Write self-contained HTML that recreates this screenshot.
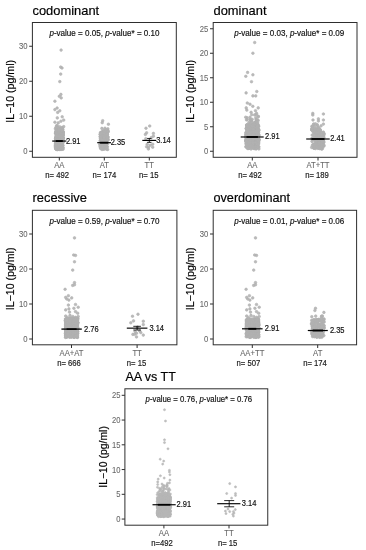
<!DOCTYPE html>
<html><head><meta charset="utf-8"><title>IL-10 by genotype model</title>
<style>
html,body{margin:0;padding:0;background:#fff;}
body{width:366px;height:550px;overflow:hidden;}
svg{display:block;font-family:'Liberation Sans', Arial, Helvetica, sans-serif;}
</style></head><body>
<svg width="366" height="550" viewBox="0 0 366 550">
<rect width="366" height="550" fill="#fff"/>
<g>
<g>
<text x="32.5" y="14.5" font-size="12.9" fill="#000" stroke="#000" stroke-width="0.18">codominant</text>
<g fill="#b1b1b1" fill-opacity="0.88" stroke="#b1b1b1" stroke-opacity="0.88" stroke-width="0.7">
<circle cx="58.9" cy="139.6" r="1.3"/>
<circle cx="62.6" cy="141.3" r="1.3"/>
<circle cx="59.4" cy="139.1" r="1.3"/>
<circle cx="56.8" cy="140.4" r="1.3"/>
<circle cx="60.3" cy="135.4" r="1.3"/>
<circle cx="56.1" cy="144.2" r="1.3"/>
<circle cx="56.1" cy="135.1" r="1.3"/>
<circle cx="60.8" cy="148.9" r="1.3"/>
<circle cx="63.1" cy="132.3" r="1.3"/>
<circle cx="60.5" cy="138.6" r="1.3"/>
<circle cx="56.6" cy="149.4" r="1.3"/>
<circle cx="59.5" cy="148.6" r="1.3"/>
<circle cx="56.9" cy="145.3" r="1.3"/>
<circle cx="55.6" cy="141.3" r="1.3"/>
<circle cx="58.8" cy="134.5" r="1.3"/>
<circle cx="59.4" cy="138.1" r="1.3"/>
<circle cx="59.3" cy="137.7" r="1.3"/>
<circle cx="59.0" cy="144.7" r="1.3"/>
<circle cx="63.2" cy="131.7" r="1.3"/>
<circle cx="62.0" cy="136.9" r="1.3"/>
<circle cx="57.9" cy="145.5" r="1.3"/>
<circle cx="57.7" cy="148.4" r="1.3"/>
<circle cx="61.4" cy="142.5" r="1.3"/>
<circle cx="62.0" cy="142.7" r="1.3"/>
<circle cx="62.9" cy="134.4" r="1.3"/>
<circle cx="55.4" cy="145.9" r="1.3"/>
<circle cx="62.5" cy="141.2" r="1.3"/>
<circle cx="63.0" cy="142.5" r="1.3"/>
<circle cx="56.0" cy="138.3" r="1.3"/>
<circle cx="61.5" cy="144.8" r="1.3"/>
<circle cx="56.1" cy="143.7" r="1.3"/>
<circle cx="62.9" cy="136.0" r="1.3"/>
<circle cx="56.3" cy="145.2" r="1.3"/>
<circle cx="56.2" cy="148.6" r="1.3"/>
<circle cx="61.6" cy="146.5" r="1.3"/>
<circle cx="59.8" cy="141.6" r="1.3"/>
<circle cx="56.9" cy="136.5" r="1.3"/>
<circle cx="56.4" cy="138.1" r="1.3"/>
<circle cx="56.3" cy="142.1" r="1.3"/>
<circle cx="57.1" cy="144.8" r="1.3"/>
<circle cx="63.0" cy="135.2" r="1.3"/>
<circle cx="57.8" cy="133.7" r="1.3"/>
<circle cx="57.0" cy="142.6" r="1.3"/>
<circle cx="62.1" cy="138.1" r="1.3"/>
<circle cx="56.2" cy="131.8" r="1.3"/>
<circle cx="57.1" cy="145.0" r="1.3"/>
<circle cx="61.4" cy="143.7" r="1.3"/>
<circle cx="57.7" cy="148.4" r="1.3"/>
<circle cx="56.1" cy="139.2" r="1.3"/>
<circle cx="57.3" cy="138.8" r="1.3"/>
<circle cx="58.3" cy="141.5" r="1.3"/>
<circle cx="62.9" cy="141.0" r="1.3"/>
<circle cx="59.9" cy="134.1" r="1.3"/>
<circle cx="56.8" cy="146.9" r="1.3"/>
<circle cx="62.5" cy="134.9" r="1.3"/>
<circle cx="57.3" cy="146.3" r="1.3"/>
<circle cx="61.2" cy="132.7" r="1.3"/>
<circle cx="56.9" cy="132.5" r="1.3"/>
<circle cx="62.3" cy="138.8" r="1.3"/>
<circle cx="58.7" cy="147.8" r="1.3"/>
<circle cx="55.7" cy="132.3" r="1.3"/>
<circle cx="57.3" cy="137.0" r="1.3"/>
<circle cx="57.4" cy="134.8" r="1.3"/>
<circle cx="60.1" cy="144.4" r="1.3"/>
<circle cx="56.8" cy="136.7" r="1.3"/>
<circle cx="55.9" cy="145.6" r="1.3"/>
<circle cx="59.8" cy="134.3" r="1.3"/>
<circle cx="60.2" cy="144.6" r="1.3"/>
<circle cx="62.6" cy="146.0" r="1.3"/>
<circle cx="55.5" cy="144.8" r="1.3"/>
<circle cx="58.9" cy="148.6" r="1.3"/>
<circle cx="56.8" cy="143.0" r="1.3"/>
<circle cx="59.9" cy="147.3" r="1.3"/>
<circle cx="58.2" cy="133.6" r="1.3"/>
<circle cx="63.0" cy="137.8" r="1.3"/>
<circle cx="60.8" cy="139.1" r="1.3"/>
<circle cx="56.5" cy="149.0" r="1.3"/>
<circle cx="55.5" cy="133.3" r="1.3"/>
<circle cx="60.9" cy="132.3" r="1.3"/>
<circle cx="55.6" cy="138.2" r="1.3"/>
<circle cx="59.2" cy="136.5" r="1.3"/>
<circle cx="57.9" cy="131.7" r="1.3"/>
<circle cx="56.0" cy="139.8" r="1.3"/>
<circle cx="61.1" cy="133.4" r="1.3"/>
<circle cx="61.1" cy="137.0" r="1.3"/>
<circle cx="61.6" cy="133.2" r="1.3"/>
<circle cx="58.1" cy="137.3" r="1.3"/>
<circle cx="62.4" cy="134.0" r="1.3"/>
<circle cx="58.7" cy="135.4" r="1.3"/>
<circle cx="62.1" cy="139.4" r="1.3"/>
<circle cx="60.3" cy="142.8" r="1.3"/>
<circle cx="59.9" cy="138.7" r="1.3"/>
<circle cx="56.0" cy="138.1" r="1.3"/>
<circle cx="63.1" cy="133.8" r="1.3"/>
<circle cx="61.1" cy="142.7" r="1.3"/>
<circle cx="61.1" cy="139.2" r="1.3"/>
<circle cx="58.8" cy="134.6" r="1.3"/>
<circle cx="56.1" cy="136.2" r="1.3"/>
<circle cx="55.6" cy="138.8" r="1.3"/>
<circle cx="59.2" cy="145.5" r="1.3"/>
<circle cx="60.8" cy="140.7" r="1.3"/>
<circle cx="60.2" cy="133.1" r="1.3"/>
<circle cx="57.4" cy="149.5" r="1.3"/>
<circle cx="57.7" cy="137.5" r="1.3"/>
<circle cx="57.0" cy="146.6" r="1.3"/>
<circle cx="62.5" cy="137.8" r="1.3"/>
<circle cx="58.8" cy="133.6" r="1.3"/>
<circle cx="58.0" cy="137.7" r="1.3"/>
<circle cx="56.9" cy="141.9" r="1.3"/>
<circle cx="61.7" cy="133.2" r="1.3"/>
<circle cx="62.3" cy="142.7" r="1.3"/>
<circle cx="59.9" cy="144.0" r="1.3"/>
<circle cx="56.5" cy="140.7" r="1.3"/>
<circle cx="61.9" cy="134.4" r="1.3"/>
<circle cx="60.9" cy="132.6" r="1.3"/>
<circle cx="57.6" cy="146.6" r="1.3"/>
<circle cx="58.9" cy="144.7" r="1.3"/>
<circle cx="57.1" cy="142.2" r="1.3"/>
<circle cx="60.3" cy="140.8" r="1.3"/>
<circle cx="57.9" cy="134.5" r="1.3"/>
<circle cx="63.1" cy="141.5" r="1.3"/>
<circle cx="56.0" cy="149.1" r="1.3"/>
<circle cx="62.2" cy="148.9" r="1.3"/>
<circle cx="60.9" cy="139.4" r="1.3"/>
<circle cx="57.8" cy="135.4" r="1.3"/>
<circle cx="55.5" cy="147.2" r="1.3"/>
<circle cx="58.9" cy="149.2" r="1.3"/>
<circle cx="61.9" cy="145.4" r="1.3"/>
<circle cx="56.5" cy="148.8" r="1.3"/>
<circle cx="60.3" cy="141.6" r="1.3"/>
<circle cx="60.3" cy="137.9" r="1.3"/>
<circle cx="61.7" cy="132.4" r="1.3"/>
<circle cx="60.7" cy="146.1" r="1.3"/>
<circle cx="59.1" cy="146.5" r="1.3"/>
<circle cx="55.5" cy="141.2" r="1.3"/>
<circle cx="61.0" cy="146.4" r="1.3"/>
<circle cx="57.5" cy="143.4" r="1.3"/>
<circle cx="60.8" cy="140.3" r="1.3"/>
<circle cx="60.2" cy="136.0" r="1.3"/>
<circle cx="58.5" cy="135.4" r="1.3"/>
<circle cx="62.5" cy="148.1" r="1.3"/>
<circle cx="62.7" cy="136.7" r="1.3"/>
<circle cx="56.4" cy="141.5" r="1.3"/>
<circle cx="60.3" cy="133.3" r="1.3"/>
<circle cx="58.3" cy="139.4" r="1.3"/>
<circle cx="62.3" cy="135.3" r="1.3"/>
<circle cx="62.8" cy="141.3" r="1.3"/>
<circle cx="60.5" cy="146.0" r="1.3"/>
<circle cx="61.0" cy="134.9" r="1.3"/>
<circle cx="60.4" cy="136.7" r="1.3"/>
<circle cx="57.1" cy="133.5" r="1.3"/>
<circle cx="63.0" cy="132.1" r="1.3"/>
<circle cx="59.6" cy="135.4" r="1.3"/>
<circle cx="57.9" cy="133.3" r="1.3"/>
<circle cx="62.1" cy="143.4" r="1.3"/>
<circle cx="56.0" cy="141.7" r="1.3"/>
<circle cx="59.7" cy="135.8" r="1.3"/>
<circle cx="59.2" cy="149.2" r="1.3"/>
<circle cx="61.7" cy="148.5" r="1.3"/>
<circle cx="61.6" cy="146.6" r="1.3"/>
<circle cx="58.0" cy="135.5" r="1.3"/>
<circle cx="56.5" cy="147.0" r="1.3"/>
<circle cx="59.4" cy="136.6" r="1.3"/>
<circle cx="62.0" cy="137.2" r="1.3"/>
<circle cx="62.8" cy="140.8" r="1.3"/>
<circle cx="62.8" cy="148.1" r="1.3"/>
<circle cx="57.1" cy="140.2" r="1.3"/>
<circle cx="57.7" cy="136.5" r="1.3"/>
<circle cx="60.4" cy="140.3" r="1.3"/>
<circle cx="62.0" cy="139.6" r="1.3"/>
<circle cx="57.8" cy="142.8" r="1.3"/>
<circle cx="62.0" cy="133.4" r="1.3"/>
<circle cx="57.0" cy="134.3" r="1.3"/>
<circle cx="63.0" cy="140.2" r="1.3"/>
<circle cx="59.9" cy="146.1" r="1.3"/>
<circle cx="59.6" cy="140.6" r="1.3"/>
<circle cx="60.1" cy="149.2" r="1.3"/>
<circle cx="63.0" cy="140.4" r="1.3"/>
<circle cx="58.5" cy="135.2" r="1.3"/>
<circle cx="59.8" cy="140.8" r="1.3"/>
<circle cx="60.8" cy="148.5" r="1.3"/>
<circle cx="59.6" cy="142.2" r="1.3"/>
<circle cx="62.9" cy="133.0" r="1.3"/>
<circle cx="57.5" cy="141.1" r="1.3"/>
<circle cx="56.4" cy="141.9" r="1.3"/>
<circle cx="61.8" cy="133.4" r="1.3"/>
<circle cx="59.1" cy="144.0" r="1.3"/>
<circle cx="56.9" cy="138.5" r="1.3"/>
<circle cx="62.6" cy="147.3" r="1.3"/>
<circle cx="61.5" cy="149.3" r="1.3"/>
<circle cx="56.9" cy="145.6" r="1.3"/>
<circle cx="60.8" cy="143.9" r="1.3"/>
<circle cx="58.2" cy="138.5" r="1.3"/>
<circle cx="56.2" cy="136.5" r="1.3"/>
<circle cx="56.4" cy="140.5" r="1.3"/>
<circle cx="57.4" cy="146.1" r="1.3"/>
<circle cx="59.5" cy="141.8" r="1.3"/>
<circle cx="58.3" cy="142.2" r="1.3"/>
<circle cx="59.5" cy="146.8" r="1.3"/>
<circle cx="57.0" cy="138.3" r="1.3"/>
<circle cx="60.4" cy="140.1" r="1.3"/>
<circle cx="62.0" cy="138.6" r="1.3"/>
<circle cx="62.1" cy="145.5" r="1.3"/>
<circle cx="61.2" cy="135.1" r="1.3"/>
<circle cx="62.4" cy="144.0" r="1.3"/>
<circle cx="57.9" cy="133.0" r="1.3"/>
<circle cx="57.1" cy="131.7" r="1.3"/>
<circle cx="62.3" cy="147.3" r="1.3"/>
<circle cx="57.3" cy="136.6" r="1.3"/>
<circle cx="57.4" cy="147.9" r="1.3"/>
<circle cx="61.9" cy="142.1" r="1.3"/>
<circle cx="61.6" cy="147.4" r="1.3"/>
<circle cx="58.5" cy="137.3" r="1.3"/>
<circle cx="55.5" cy="146.1" r="1.3"/>
<circle cx="60.7" cy="133.2" r="1.3"/>
<circle cx="63.0" cy="147.6" r="1.3"/>
<circle cx="59.3" cy="136.0" r="1.3"/>
<circle cx="59.3" cy="137.3" r="1.3"/>
<circle cx="56.9" cy="148.4" r="1.3"/>
<circle cx="56.2" cy="149.0" r="1.3"/>
<circle cx="59.7" cy="140.4" r="1.3"/>
<circle cx="59.8" cy="147.0" r="1.3"/>
<circle cx="56.8" cy="146.0" r="1.3"/>
<circle cx="62.0" cy="131.8" r="1.3"/>
<circle cx="62.6" cy="148.0" r="1.3"/>
<circle cx="55.9" cy="132.5" r="1.3"/>
<circle cx="59.0" cy="135.9" r="1.3"/>
<circle cx="57.9" cy="141.3" r="1.3"/>
<circle cx="59.4" cy="141.9" r="1.3"/>
<circle cx="60.1" cy="149.4" r="1.3"/>
<circle cx="60.9" cy="134.5" r="1.3"/>
<circle cx="56.8" cy="141.5" r="1.3"/>
<circle cx="61.2" cy="142.4" r="1.3"/>
<circle cx="56.9" cy="146.7" r="1.3"/>
<circle cx="59.4" cy="149.4" r="1.3"/>
<circle cx="62.4" cy="135.2" r="1.3"/>
<circle cx="60.9" cy="134.2" r="1.3"/>
<circle cx="60.3" cy="142.4" r="1.3"/>
<circle cx="60.1" cy="140.6" r="1.3"/>
<circle cx="63.1" cy="135.2" r="1.3"/>
<circle cx="57.4" cy="133.2" r="1.3"/>
<circle cx="61.2" cy="135.7" r="1.3"/>
<circle cx="61.8" cy="142.4" r="1.3"/>
<circle cx="62.4" cy="133.8" r="1.3"/>
<circle cx="60.8" cy="135.8" r="1.3"/>
<circle cx="61.4" cy="142.4" r="1.3"/>
<circle cx="61.0" cy="148.4" r="1.3"/>
<circle cx="58.1" cy="141.2" r="1.3"/>
<circle cx="55.5" cy="143.3" r="1.3"/>
<circle cx="60.4" cy="138.4" r="1.3"/>
<circle cx="57.2" cy="132.6" r="1.3"/>
<circle cx="60.6" cy="143.6" r="1.3"/>
<circle cx="60.5" cy="139.4" r="1.3"/>
<circle cx="59.6" cy="142.7" r="1.3"/>
<circle cx="63.2" cy="138.1" r="1.3"/>
<circle cx="60.9" cy="135.9" r="1.3"/>
<circle cx="63.0" cy="149.3" r="1.3"/>
<circle cx="60.2" cy="136.4" r="1.3"/>
<circle cx="57.4" cy="142.4" r="1.3"/>
<circle cx="55.8" cy="146.2" r="1.3"/>
<circle cx="58.3" cy="147.9" r="1.3"/>
<circle cx="57.4" cy="133.4" r="1.3"/>
<circle cx="59.7" cy="140.5" r="1.3"/>
<circle cx="62.9" cy="139.4" r="1.3"/>
<circle cx="63.2" cy="138.2" r="1.3"/>
<circle cx="61.7" cy="148.3" r="1.3"/>
<circle cx="60.1" cy="136.0" r="1.3"/>
<circle cx="55.8" cy="132.9" r="1.3"/>
<circle cx="56.6" cy="141.2" r="1.3"/>
<circle cx="56.7" cy="140.7" r="1.3"/>
<circle cx="60.2" cy="148.6" r="1.3"/>
<circle cx="62.8" cy="142.1" r="1.3"/>
<circle cx="59.5" cy="138.9" r="1.3"/>
<circle cx="58.3" cy="144.5" r="1.3"/>
<circle cx="60.5" cy="139.6" r="1.3"/>
<circle cx="57.6" cy="136.8" r="1.3"/>
<circle cx="57.7" cy="149.4" r="1.3"/>
<circle cx="57.3" cy="148.9" r="1.3"/>
<circle cx="56.6" cy="136.1" r="1.3"/>
<circle cx="58.4" cy="133.5" r="1.3"/>
<circle cx="61.2" cy="148.8" r="1.3"/>
<circle cx="63.1" cy="132.7" r="1.3"/>
<circle cx="56.0" cy="133.4" r="1.3"/>
<circle cx="58.8" cy="141.1" r="1.3"/>
<circle cx="63.0" cy="145.3" r="1.3"/>
<circle cx="59.5" cy="132.8" r="1.3"/>
<circle cx="61.0" cy="141.2" r="1.3"/>
<circle cx="63.0" cy="135.0" r="1.3"/>
<circle cx="60.1" cy="147.6" r="1.3"/>
<circle cx="60.3" cy="141.5" r="1.3"/>
<circle cx="57.0" cy="148.7" r="1.3"/>
<circle cx="59.5" cy="147.4" r="1.3"/>
<circle cx="58.9" cy="137.6" r="1.3"/>
<circle cx="59.0" cy="145.0" r="1.3"/>
<circle cx="59.9" cy="142.1" r="1.3"/>
<circle cx="61.5" cy="140.1" r="1.3"/>
<circle cx="63.2" cy="132.5" r="1.3"/>
<circle cx="61.1" cy="145.4" r="1.3"/>
<circle cx="56.3" cy="133.6" r="1.3"/>
<circle cx="61.5" cy="138.4" r="1.3"/>
<circle cx="58.2" cy="144.8" r="1.3"/>
<circle cx="60.7" cy="139.5" r="1.3"/>
<circle cx="60.0" cy="138.3" r="1.3"/>
<circle cx="61.3" cy="146.3" r="1.3"/>
<circle cx="57.3" cy="132.0" r="1.3"/>
<circle cx="62.5" cy="133.8" r="1.3"/>
<circle cx="55.7" cy="148.6" r="1.3"/>
<circle cx="57.5" cy="142.0" r="1.3"/>
<circle cx="60.3" cy="147.8" r="1.3"/>
<circle cx="59.6" cy="148.4" r="1.3"/>
<circle cx="56.1" cy="137.5" r="1.3"/>
<circle cx="59.7" cy="138.3" r="1.3"/>
<circle cx="58.3" cy="141.0" r="1.3"/>
<circle cx="57.0" cy="143.5" r="1.3"/>
<circle cx="61.2" cy="134.6" r="1.3"/>
<circle cx="56.0" cy="147.5" r="1.3"/>
<circle cx="61.7" cy="138.4" r="1.3"/>
<circle cx="61.4" cy="145.8" r="1.3"/>
<circle cx="58.7" cy="145.0" r="1.3"/>
<circle cx="61.7" cy="143.0" r="1.3"/>
<circle cx="60.5" cy="131.8" r="1.3"/>
<circle cx="57.9" cy="139.8" r="1.3"/>
<circle cx="61.2" cy="133.1" r="1.3"/>
<circle cx="58.7" cy="143.0" r="1.3"/>
<circle cx="56.2" cy="133.9" r="1.3"/>
<circle cx="56.0" cy="148.2" r="1.3"/>
<circle cx="59.8" cy="140.9" r="1.3"/>
<circle cx="60.7" cy="144.3" r="1.3"/>
<circle cx="61.4" cy="148.3" r="1.3"/>
<circle cx="57.1" cy="137.7" r="1.3"/>
<circle cx="56.0" cy="144.2" r="1.3"/>
<circle cx="61.1" cy="137.2" r="1.3"/>
<circle cx="57.6" cy="147.1" r="1.3"/>
<circle cx="58.2" cy="136.6" r="1.3"/>
<circle cx="58.3" cy="147.6" r="1.3"/>
<circle cx="60.9" cy="139.4" r="1.3"/>
<circle cx="62.6" cy="132.7" r="1.3"/>
<circle cx="62.5" cy="141.8" r="1.3"/>
<circle cx="61.7" cy="144.2" r="1.3"/>
<circle cx="57.9" cy="142.5" r="1.3"/>
<circle cx="62.7" cy="133.5" r="1.3"/>
<circle cx="57.3" cy="143.2" r="1.3"/>
<circle cx="58.3" cy="143.1" r="1.3"/>
<circle cx="58.5" cy="142.7" r="1.3"/>
<circle cx="56.9" cy="139.5" r="1.3"/>
<circle cx="61.6" cy="139.9" r="1.3"/>
<circle cx="61.9" cy="139.5" r="1.3"/>
<circle cx="56.8" cy="136.0" r="1.3"/>
<circle cx="62.3" cy="144.6" r="1.3"/>
<circle cx="55.6" cy="140.4" r="1.3"/>
<circle cx="59.6" cy="139.4" r="1.3"/>
<circle cx="62.9" cy="137.9" r="1.3"/>
<circle cx="61.7" cy="148.5" r="1.3"/>
<circle cx="59.7" cy="135.5" r="1.3"/>
<circle cx="56.1" cy="148.2" r="1.3"/>
<circle cx="61.1" cy="133.5" r="1.3"/>
<circle cx="56.1" cy="138.2" r="1.3"/>
<circle cx="56.5" cy="136.2" r="1.3"/>
<circle cx="60.5" cy="145.3" r="1.3"/>
<circle cx="57.1" cy="135.9" r="1.3"/>
<circle cx="59.5" cy="135.9" r="1.3"/>
<circle cx="58.5" cy="143.6" r="1.3"/>
<circle cx="63.0" cy="137.6" r="1.3"/>
<circle cx="59.3" cy="140.0" r="1.3"/>
<circle cx="61.0" cy="136.9" r="1.3"/>
<circle cx="62.5" cy="142.3" r="1.3"/>
<circle cx="61.8" cy="137.7" r="1.3"/>
<circle cx="62.1" cy="135.1" r="1.3"/>
<circle cx="61.9" cy="133.7" r="1.3"/>
<circle cx="62.9" cy="138.1" r="1.3"/>
<circle cx="59.5" cy="136.9" r="1.3"/>
<circle cx="61.7" cy="142.1" r="1.3"/>
<circle cx="58.7" cy="147.0" r="1.3"/>
<circle cx="61.2" cy="131.8" r="1.3"/>
<circle cx="58.3" cy="146.7" r="1.3"/>
<circle cx="57.0" cy="142.0" r="1.3"/>
<circle cx="57.7" cy="132.2" r="1.3"/>
<circle cx="55.9" cy="144.1" r="1.3"/>
<circle cx="56.3" cy="138.0" r="1.3"/>
<circle cx="61.5" cy="146.4" r="1.3"/>
<circle cx="55.9" cy="141.4" r="1.3"/>
<circle cx="60.0" cy="133.3" r="1.3"/>
<circle cx="55.7" cy="147.7" r="1.3"/>
<circle cx="56.8" cy="145.8" r="1.3"/>
<circle cx="57.2" cy="136.7" r="1.3"/>
<circle cx="60.0" cy="145.6" r="1.3"/>
<circle cx="56.8" cy="144.6" r="1.3"/>
<circle cx="56.7" cy="136.0" r="1.3"/>
<circle cx="57.8" cy="139.8" r="1.3"/>
<circle cx="61.8" cy="141.0" r="1.3"/>
<circle cx="57.4" cy="133.7" r="1.3"/>
<circle cx="62.5" cy="143.5" r="1.3"/>
<circle cx="59.7" cy="132.4" r="1.3"/>
<circle cx="59.2" cy="145.7" r="1.3"/>
<circle cx="55.8" cy="132.6" r="1.3"/>
<circle cx="61.7" cy="142.7" r="1.3"/>
<circle cx="59.5" cy="140.4" r="1.3"/>
<circle cx="57.5" cy="131.8" r="1.3"/>
<circle cx="60.5" cy="145.4" r="1.3"/>
<circle cx="55.5" cy="141.2" r="1.3"/>
<circle cx="58.3" cy="128.9" r="1.3"/>
<circle cx="61.0" cy="129.5" r="1.3"/>
<circle cx="56.6" cy="131.1" r="1.3"/>
<circle cx="57.9" cy="130.7" r="1.3"/>
<circle cx="62.2" cy="129.8" r="1.3"/>
<circle cx="60.4" cy="128.2" r="1.3"/>
<circle cx="57.5" cy="129.8" r="1.3"/>
<circle cx="56.6" cy="129.0" r="1.3"/>
<circle cx="55.4" cy="128.8" r="1.3"/>
<circle cx="62.0" cy="128.8" r="1.3"/>
<circle cx="56.0" cy="130.7" r="1.3"/>
<circle cx="61.0" cy="131.3" r="1.3"/>
<circle cx="59.1" cy="130.0" r="1.3"/>
<circle cx="62.9" cy="129.6" r="1.3"/>
<circle cx="62.1" cy="130.6" r="1.3"/>
<circle cx="61.6" cy="130.2" r="1.3"/>
<circle cx="62.6" cy="127.9" r="1.3"/>
<circle cx="61.8" cy="127.6" r="1.3"/>
<circle cx="59.6" cy="126.7" r="1.3"/>
<circle cx="56.6" cy="125.8" r="1.3"/>
<circle cx="57.8" cy="127.3" r="1.3"/>
<circle cx="56.0" cy="127.3" r="1.3"/>
<circle cx="61.1" cy="50.1" r="1.3"/>
<circle cx="60.7" cy="67.1" r="1.3"/>
<circle cx="62.0" cy="68.0" r="1.3"/>
<circle cx="60.7" cy="74.1" r="1.3"/>
<circle cx="59.8" cy="81.6" r="1.3"/>
<circle cx="60.9" cy="94.4" r="1.3"/>
<circle cx="59.3" cy="96.3" r="1.3"/>
<circle cx="61.2" cy="97.9" r="1.3"/>
<circle cx="54.9" cy="101.2" r="1.3"/>
<circle cx="57.1" cy="108.0" r="1.3"/>
<circle cx="54.9" cy="109.6" r="1.3"/>
<circle cx="59.8" cy="110.8" r="1.3"/>
<circle cx="57.7" cy="112.4" r="1.3"/>
<circle cx="57.3" cy="117.9" r="1.3"/>
<circle cx="62.2" cy="116.8" r="1.3"/>
<circle cx="63.7" cy="120.1" r="1.3"/>
<circle cx="60.9" cy="121.2" r="1.3"/>
<circle cx="54.9" cy="122.2" r="1.3"/>
<circle cx="58.2" cy="122.9" r="1.3"/>
<circle cx="57.1" cy="125.5" r="1.3"/>
<circle cx="63.7" cy="126.6" r="1.3"/>
<circle cx="103.9" cy="137.4" r="1.3"/>
<circle cx="105.5" cy="147.0" r="1.3"/>
<circle cx="100.1" cy="142.7" r="1.3"/>
<circle cx="102.2" cy="134.5" r="1.3"/>
<circle cx="105.7" cy="138.4" r="1.3"/>
<circle cx="104.6" cy="137.3" r="1.3"/>
<circle cx="101.2" cy="141.4" r="1.3"/>
<circle cx="101.3" cy="132.7" r="1.3"/>
<circle cx="100.5" cy="134.3" r="1.3"/>
<circle cx="100.6" cy="136.8" r="1.3"/>
<circle cx="102.8" cy="142.1" r="1.3"/>
<circle cx="106.9" cy="149.3" r="1.3"/>
<circle cx="100.5" cy="132.5" r="1.3"/>
<circle cx="104.2" cy="148.0" r="1.3"/>
<circle cx="108.1" cy="131.9" r="1.3"/>
<circle cx="100.9" cy="141.8" r="1.3"/>
<circle cx="101.1" cy="143.8" r="1.3"/>
<circle cx="105.1" cy="146.6" r="1.3"/>
<circle cx="105.7" cy="148.7" r="1.3"/>
<circle cx="101.4" cy="134.4" r="1.3"/>
<circle cx="103.3" cy="141.8" r="1.3"/>
<circle cx="104.9" cy="140.7" r="1.3"/>
<circle cx="103.2" cy="149.1" r="1.3"/>
<circle cx="106.0" cy="131.6" r="1.3"/>
<circle cx="108.0" cy="137.2" r="1.3"/>
<circle cx="102.9" cy="142.9" r="1.3"/>
<circle cx="105.7" cy="137.1" r="1.3"/>
<circle cx="100.9" cy="145.3" r="1.3"/>
<circle cx="103.0" cy="140.1" r="1.3"/>
<circle cx="106.6" cy="140.3" r="1.3"/>
<circle cx="100.2" cy="134.3" r="1.3"/>
<circle cx="103.5" cy="140.0" r="1.3"/>
<circle cx="101.8" cy="141.7" r="1.3"/>
<circle cx="103.2" cy="135.2" r="1.3"/>
<circle cx="100.8" cy="139.4" r="1.3"/>
<circle cx="101.5" cy="136.6" r="1.3"/>
<circle cx="100.3" cy="144.5" r="1.3"/>
<circle cx="102.8" cy="137.7" r="1.3"/>
<circle cx="100.4" cy="141.1" r="1.3"/>
<circle cx="101.7" cy="144.4" r="1.3"/>
<circle cx="103.9" cy="131.7" r="1.3"/>
<circle cx="103.9" cy="131.8" r="1.3"/>
<circle cx="101.4" cy="132.4" r="1.3"/>
<circle cx="103.0" cy="146.1" r="1.3"/>
<circle cx="106.1" cy="132.6" r="1.3"/>
<circle cx="100.1" cy="144.7" r="1.3"/>
<circle cx="106.3" cy="143.3" r="1.3"/>
<circle cx="102.0" cy="149.5" r="1.3"/>
<circle cx="100.3" cy="138.1" r="1.3"/>
<circle cx="108.1" cy="131.0" r="1.3"/>
<circle cx="104.1" cy="149.2" r="1.3"/>
<circle cx="102.6" cy="134.9" r="1.3"/>
<circle cx="106.8" cy="137.7" r="1.3"/>
<circle cx="101.9" cy="139.8" r="1.3"/>
<circle cx="103.9" cy="137.9" r="1.3"/>
<circle cx="102.2" cy="131.9" r="1.3"/>
<circle cx="107.3" cy="146.6" r="1.3"/>
<circle cx="102.4" cy="133.3" r="1.3"/>
<circle cx="102.3" cy="132.0" r="1.3"/>
<circle cx="104.2" cy="136.6" r="1.3"/>
<circle cx="105.8" cy="145.7" r="1.3"/>
<circle cx="102.3" cy="144.9" r="1.3"/>
<circle cx="105.6" cy="136.7" r="1.3"/>
<circle cx="101.1" cy="133.1" r="1.3"/>
<circle cx="103.4" cy="145.2" r="1.3"/>
<circle cx="103.6" cy="131.3" r="1.3"/>
<circle cx="104.6" cy="138.0" r="1.3"/>
<circle cx="107.5" cy="131.7" r="1.3"/>
<circle cx="106.2" cy="141.9" r="1.3"/>
<circle cx="104.8" cy="132.8" r="1.3"/>
<circle cx="106.5" cy="138.8" r="1.3"/>
<circle cx="102.8" cy="142.8" r="1.3"/>
<circle cx="106.0" cy="139.1" r="1.3"/>
<circle cx="100.1" cy="136.4" r="1.3"/>
<circle cx="107.4" cy="134.7" r="1.3"/>
<circle cx="107.4" cy="132.6" r="1.3"/>
<circle cx="104.4" cy="134.9" r="1.3"/>
<circle cx="103.1" cy="147.8" r="1.3"/>
<circle cx="102.9" cy="143.8" r="1.3"/>
<circle cx="107.7" cy="136.8" r="1.3"/>
<circle cx="104.4" cy="138.0" r="1.3"/>
<circle cx="101.0" cy="139.7" r="1.3"/>
<circle cx="105.7" cy="142.3" r="1.3"/>
<circle cx="102.0" cy="142.1" r="1.3"/>
<circle cx="102.7" cy="136.8" r="1.3"/>
<circle cx="101.2" cy="148.0" r="1.3"/>
<circle cx="102.6" cy="136.6" r="1.3"/>
<circle cx="106.2" cy="137.3" r="1.3"/>
<circle cx="107.7" cy="142.8" r="1.3"/>
<circle cx="100.2" cy="140.5" r="1.3"/>
<circle cx="103.6" cy="146.3" r="1.3"/>
<circle cx="105.5" cy="143.3" r="1.3"/>
<circle cx="102.0" cy="143.5" r="1.3"/>
<circle cx="107.7" cy="149.5" r="1.3"/>
<circle cx="103.0" cy="144.4" r="1.3"/>
<circle cx="101.7" cy="141.6" r="1.3"/>
<circle cx="101.8" cy="132.5" r="1.3"/>
<circle cx="104.1" cy="136.6" r="1.3"/>
<circle cx="101.3" cy="141.0" r="1.3"/>
<circle cx="105.0" cy="133.9" r="1.3"/>
<circle cx="102.0" cy="141.1" r="1.3"/>
<circle cx="107.0" cy="134.1" r="1.3"/>
<circle cx="101.9" cy="139.6" r="1.3"/>
<circle cx="106.2" cy="142.3" r="1.3"/>
<circle cx="105.5" cy="137.3" r="1.3"/>
<circle cx="108.0" cy="139.3" r="1.3"/>
<circle cx="105.6" cy="143.1" r="1.3"/>
<circle cx="106.0" cy="143.6" r="1.3"/>
<circle cx="104.1" cy="142.9" r="1.3"/>
<circle cx="102.5" cy="147.1" r="1.3"/>
<circle cx="101.9" cy="139.5" r="1.3"/>
<circle cx="102.1" cy="148.8" r="1.3"/>
<circle cx="106.6" cy="144.3" r="1.3"/>
<circle cx="107.7" cy="138.5" r="1.3"/>
<circle cx="103.2" cy="133.3" r="1.3"/>
<circle cx="107.4" cy="143.7" r="1.3"/>
<circle cx="101.0" cy="137.7" r="1.3"/>
<circle cx="106.9" cy="138.3" r="1.3"/>
<circle cx="106.4" cy="142.0" r="1.3"/>
<circle cx="105.1" cy="144.7" r="1.3"/>
<circle cx="103.3" cy="142.6" r="1.3"/>
<circle cx="103.2" cy="142.2" r="1.3"/>
<circle cx="106.6" cy="146.5" r="1.3"/>
<circle cx="101.7" cy="144.9" r="1.3"/>
<circle cx="108.0" cy="139.9" r="1.3"/>
<circle cx="100.4" cy="134.0" r="1.3"/>
<circle cx="107.2" cy="134.3" r="1.3"/>
<circle cx="102.9" cy="135.9" r="1.3"/>
<circle cx="102.5" cy="147.1" r="1.3"/>
<circle cx="107.1" cy="134.1" r="1.3"/>
<circle cx="101.7" cy="133.2" r="1.3"/>
<circle cx="100.2" cy="143.9" r="1.3"/>
<circle cx="100.1" cy="146.5" r="1.3"/>
<circle cx="101.3" cy="136.3" r="1.3"/>
<circle cx="102.4" cy="146.1" r="1.3"/>
<circle cx="101.5" cy="143.8" r="1.3"/>
<circle cx="107.1" cy="138.3" r="1.3"/>
<circle cx="100.8" cy="136.8" r="1.3"/>
<circle cx="104.4" cy="141.3" r="1.3"/>
<circle cx="104.3" cy="137.5" r="1.3"/>
<circle cx="106.6" cy="140.2" r="1.3"/>
<circle cx="105.2" cy="140.9" r="1.3"/>
<circle cx="105.2" cy="142.4" r="1.3"/>
<circle cx="103.4" cy="140.0" r="1.3"/>
<circle cx="105.9" cy="144.5" r="1.3"/>
<circle cx="107.6" cy="140.5" r="1.3"/>
<circle cx="107.0" cy="136.7" r="1.3"/>
<circle cx="107.8" cy="136.9" r="1.3"/>
<circle cx="103.5" cy="142.1" r="1.3"/>
<circle cx="105.0" cy="135.6" r="1.3"/>
<circle cx="106.9" cy="147.3" r="1.3"/>
<circle cx="100.5" cy="147.7" r="1.3"/>
<circle cx="100.7" cy="148.6" r="1.3"/>
<circle cx="100.1" cy="145.0" r="1.3"/>
<circle cx="100.9" cy="136.8" r="1.3"/>
<circle cx="105.0" cy="128.2" r="1.3"/>
<circle cx="107.9" cy="128.9" r="1.3"/>
<circle cx="107.8" cy="130.9" r="1.3"/>
<circle cx="101.9" cy="128.4" r="1.3"/>
<circle cx="103.9" cy="130.4" r="1.3"/>
<circle cx="106.2" cy="129.8" r="1.3"/>
<circle cx="102.7" cy="120.7" r="1.3"/>
<circle cx="102.2" cy="122.7" r="1.3"/>
<circle cx="108.4" cy="124.2" r="1.3"/>
<circle cx="149.7" cy="126.0" r="1.3"/>
<circle cx="146.0" cy="128.2" r="1.3"/>
<circle cx="146.6" cy="132.8" r="1.3"/>
<circle cx="145.4" cy="134.4" r="1.3"/>
<circle cx="153.4" cy="133.4" r="1.3"/>
<circle cx="153.4" cy="136.2" r="1.3"/>
<circle cx="147.2" cy="144.2" r="1.3"/>
<circle cx="152.7" cy="144.2" r="1.3"/>
<circle cx="146.6" cy="146.7" r="1.3"/>
<circle cx="148.4" cy="147.2" r="1.3"/>
<circle cx="152.7" cy="147.2" r="1.3"/>
<circle cx="148.4" cy="149.0" r="1.3"/>
<circle cx="150.3" cy="145.3" r="1.3"/>
<circle cx="145.8" cy="138.7" r="1.3"/>
<circle cx="151.3" cy="137.6" r="1.3"/>
</g>
<line x1="52.2" x2="66.4" y1="141.06" y2="141.06" stroke="#000" stroke-width="1.15"/>
<line x1="55.8" x2="62.8" y1="141.06" y2="141.06" stroke="#000" stroke-width="1.9"/>
<text transform="translate(65.90 143.51) scale(0.8929 1)" font-size="8.40" fill="#111" stroke="#111" stroke-width="0.18">2.91</text>
<line x1="97.2" x2="111.0" y1="142.68" y2="142.68" stroke="#000" stroke-width="1.15"/>
<line x1="100.1" x2="108.1" y1="142.68" y2="142.68" stroke="#000" stroke-width="1.8"/>
<text transform="translate(110.70 145.12) scale(0.8929 1)" font-size="8.40" fill="#111" stroke="#111" stroke-width="0.18">2.35</text>
<line x1="142.3" x2="156.3" y1="140.40" y2="140.40" stroke="#000" stroke-width="1.15"/>
<path d="M147.1 138.45H151.5M147.1 142.35H151.5M149.3 138.45V142.35" stroke="#000" stroke-width="0.85" fill="none"/>
<text transform="translate(156.20 142.85) scale(0.8929 1)" font-size="8.40" fill="#111" stroke="#111" stroke-width="0.18">3.14</text>
<rect x="32.4" y="22.5" width="143.9" height="134.8" fill="none" stroke="#2e2e2e" stroke-width="1"/>
<line x1="29.2" x2="32.4" y1="151.25" y2="151.25" stroke="#2e2e2e" stroke-width="1"/>
<text transform="translate(27.50 154.35) scale(0.8929 1)" font-size="8.62" fill="#666" stroke="#666" stroke-width="0.08" text-anchor="end">0</text>
<line x1="29.2" x2="32.4" y1="116.25" y2="116.25" stroke="#2e2e2e" stroke-width="1"/>
<text transform="translate(27.50 119.35) scale(0.8929 1)" font-size="8.62" fill="#666" stroke="#666" stroke-width="0.08" text-anchor="end">10</text>
<line x1="29.2" x2="32.4" y1="81.25" y2="81.25" stroke="#2e2e2e" stroke-width="1"/>
<text transform="translate(27.50 84.35) scale(0.8929 1)" font-size="8.62" fill="#666" stroke="#666" stroke-width="0.08" text-anchor="end">20</text>
<line x1="29.2" x2="32.4" y1="46.25" y2="46.25" stroke="#2e2e2e" stroke-width="1"/>
<text transform="translate(27.50 49.35) scale(0.8929 1)" font-size="8.62" fill="#666" stroke="#666" stroke-width="0.08" text-anchor="end">30</text>
<line x1="59.3" x2="59.3" y1="157.3" y2="160.5" stroke="#2e2e2e" stroke-width="1"/>
<text transform="translate(59.30 168.30) scale(0.8929 1)" font-size="8.62" fill="#666" stroke="#666" stroke-width="0.08" text-anchor="middle">AA</text>
<text transform="translate(57.20 178.40) scale(0.8929 1)" font-size="8.62" fill="#1a1a1a" stroke="#1a1a1a" stroke-width="0.18" text-anchor="middle">n= 492</text>
<line x1="104.3" x2="104.3" y1="157.3" y2="160.5" stroke="#2e2e2e" stroke-width="1"/>
<text transform="translate(104.30 168.30) scale(0.8929 1)" font-size="8.62" fill="#666" stroke="#666" stroke-width="0.08" text-anchor="middle">AT</text>
<text transform="translate(104.40 178.40) scale(0.8929 1)" font-size="8.62" fill="#1a1a1a" stroke="#1a1a1a" stroke-width="0.18" text-anchor="middle">n= 174</text>
<line x1="149.3" x2="149.3" y1="157.3" y2="160.5" stroke="#2e2e2e" stroke-width="1"/>
<text transform="translate(149.30 168.30) scale(0.8929 1)" font-size="8.62" fill="#666" stroke="#666" stroke-width="0.08" text-anchor="middle">TT</text>
<text transform="translate(148.80 178.40) scale(0.8929 1)" font-size="8.62" fill="#1a1a1a" stroke="#1a1a1a" stroke-width="0.18" text-anchor="middle">n= 15</text>
<text transform="translate(49.40 36.40) scale(0.8929 1)" font-size="9.02" fill="#111" stroke="#111" stroke-width="0.18"><tspan font-style="italic">p</tspan>-value = 0.05, <tspan font-style="italic">p</tspan>-value* = 0.10</text>
<text transform="translate(13.8 91.3) rotate(-90)" font-size="10.6" fill="#000" stroke="#000" stroke-width="0.18" text-anchor="middle">IL−10 (pg/ml)</text>
</g>
<g>
<text x="213.5" y="14.5" font-size="12.9" fill="#000" stroke="#000" stroke-width="0.18">dominant</text>
<g fill="#b1b1b1" fill-opacity="0.88" stroke="#b1b1b1" stroke-opacity="0.88" stroke-width="0.7">
<circle cx="248.0" cy="131.6" r="1.3"/>
<circle cx="254.2" cy="137.0" r="1.3"/>
<circle cx="248.7" cy="129.0" r="1.3"/>
<circle cx="256.5" cy="136.1" r="1.3"/>
<circle cx="252.5" cy="143.1" r="1.3"/>
<circle cx="245.8" cy="139.7" r="1.3"/>
<circle cx="253.5" cy="147.3" r="1.3"/>
<circle cx="256.3" cy="143.2" r="1.3"/>
<circle cx="248.9" cy="148.0" r="1.3"/>
<circle cx="259.0" cy="130.4" r="1.3"/>
<circle cx="257.4" cy="133.5" r="1.3"/>
<circle cx="246.2" cy="140.7" r="1.3"/>
<circle cx="252.4" cy="146.1" r="1.3"/>
<circle cx="258.4" cy="139.7" r="1.3"/>
<circle cx="247.8" cy="128.4" r="1.3"/>
<circle cx="247.4" cy="125.6" r="1.3"/>
<circle cx="251.8" cy="135.1" r="1.3"/>
<circle cx="250.3" cy="136.8" r="1.3"/>
<circle cx="248.3" cy="148.1" r="1.3"/>
<circle cx="257.2" cy="143.1" r="1.3"/>
<circle cx="256.1" cy="143.8" r="1.3"/>
<circle cx="258.6" cy="126.5" r="1.3"/>
<circle cx="255.8" cy="129.8" r="1.3"/>
<circle cx="253.5" cy="130.6" r="1.3"/>
<circle cx="247.4" cy="137.0" r="1.3"/>
<circle cx="256.7" cy="144.0" r="1.3"/>
<circle cx="258.0" cy="126.6" r="1.3"/>
<circle cx="251.2" cy="139.8" r="1.3"/>
<circle cx="251.8" cy="139.3" r="1.3"/>
<circle cx="258.9" cy="139.3" r="1.3"/>
<circle cx="246.2" cy="146.7" r="1.3"/>
<circle cx="255.3" cy="124.0" r="1.3"/>
<circle cx="252.3" cy="136.6" r="1.3"/>
<circle cx="253.1" cy="130.2" r="1.3"/>
<circle cx="248.7" cy="133.7" r="1.3"/>
<circle cx="253.1" cy="133.3" r="1.3"/>
<circle cx="248.2" cy="144.8" r="1.3"/>
<circle cx="250.4" cy="125.7" r="1.3"/>
<circle cx="250.4" cy="134.0" r="1.3"/>
<circle cx="249.8" cy="146.4" r="1.3"/>
<circle cx="246.7" cy="128.5" r="1.3"/>
<circle cx="256.1" cy="139.6" r="1.3"/>
<circle cx="254.8" cy="132.0" r="1.3"/>
<circle cx="257.7" cy="124.9" r="1.3"/>
<circle cx="251.2" cy="124.1" r="1.3"/>
<circle cx="258.5" cy="134.1" r="1.3"/>
<circle cx="257.5" cy="136.7" r="1.3"/>
<circle cx="250.8" cy="142.8" r="1.3"/>
<circle cx="257.4" cy="144.9" r="1.3"/>
<circle cx="246.7" cy="128.7" r="1.3"/>
<circle cx="256.0" cy="136.9" r="1.3"/>
<circle cx="256.8" cy="147.7" r="1.3"/>
<circle cx="249.2" cy="141.7" r="1.3"/>
<circle cx="251.3" cy="144.7" r="1.3"/>
<circle cx="246.7" cy="140.5" r="1.3"/>
<circle cx="257.7" cy="124.2" r="1.3"/>
<circle cx="255.6" cy="137.0" r="1.3"/>
<circle cx="249.1" cy="124.8" r="1.3"/>
<circle cx="252.7" cy="130.7" r="1.3"/>
<circle cx="246.2" cy="143.7" r="1.3"/>
<circle cx="256.9" cy="129.0" r="1.3"/>
<circle cx="257.4" cy="133.9" r="1.3"/>
<circle cx="251.4" cy="134.4" r="1.3"/>
<circle cx="257.0" cy="141.3" r="1.3"/>
<circle cx="252.9" cy="142.1" r="1.3"/>
<circle cx="255.9" cy="148.8" r="1.3"/>
<circle cx="254.8" cy="125.0" r="1.3"/>
<circle cx="246.1" cy="134.1" r="1.3"/>
<circle cx="254.3" cy="127.6" r="1.3"/>
<circle cx="253.5" cy="142.6" r="1.3"/>
<circle cx="251.2" cy="124.9" r="1.3"/>
<circle cx="257.8" cy="145.7" r="1.3"/>
<circle cx="247.1" cy="146.7" r="1.3"/>
<circle cx="246.1" cy="137.8" r="1.3"/>
<circle cx="247.7" cy="127.2" r="1.3"/>
<circle cx="254.5" cy="145.9" r="1.3"/>
<circle cx="252.9" cy="140.9" r="1.3"/>
<circle cx="252.3" cy="143.5" r="1.3"/>
<circle cx="248.0" cy="144.4" r="1.3"/>
<circle cx="250.8" cy="131.1" r="1.3"/>
<circle cx="253.1" cy="147.9" r="1.3"/>
<circle cx="255.2" cy="127.0" r="1.3"/>
<circle cx="256.0" cy="129.1" r="1.3"/>
<circle cx="245.9" cy="137.3" r="1.3"/>
<circle cx="246.6" cy="129.8" r="1.3"/>
<circle cx="248.1" cy="131.1" r="1.3"/>
<circle cx="249.1" cy="131.5" r="1.3"/>
<circle cx="249.9" cy="148.0" r="1.3"/>
<circle cx="250.9" cy="141.2" r="1.3"/>
<circle cx="257.7" cy="141.6" r="1.3"/>
<circle cx="252.4" cy="135.2" r="1.3"/>
<circle cx="258.3" cy="146.6" r="1.3"/>
<circle cx="253.7" cy="136.2" r="1.3"/>
<circle cx="255.5" cy="124.6" r="1.3"/>
<circle cx="249.9" cy="131.4" r="1.3"/>
<circle cx="252.7" cy="134.9" r="1.3"/>
<circle cx="246.6" cy="128.5" r="1.3"/>
<circle cx="258.7" cy="140.1" r="1.3"/>
<circle cx="250.0" cy="124.0" r="1.3"/>
<circle cx="247.2" cy="147.1" r="1.3"/>
<circle cx="246.8" cy="128.5" r="1.3"/>
<circle cx="255.8" cy="137.7" r="1.3"/>
<circle cx="254.0" cy="148.5" r="1.3"/>
<circle cx="254.3" cy="137.9" r="1.3"/>
<circle cx="252.6" cy="139.2" r="1.3"/>
<circle cx="251.1" cy="143.4" r="1.3"/>
<circle cx="246.4" cy="138.1" r="1.3"/>
<circle cx="249.1" cy="131.3" r="1.3"/>
<circle cx="256.6" cy="130.8" r="1.3"/>
<circle cx="251.8" cy="143.1" r="1.3"/>
<circle cx="250.9" cy="136.8" r="1.3"/>
<circle cx="254.1" cy="124.7" r="1.3"/>
<circle cx="246.9" cy="136.9" r="1.3"/>
<circle cx="252.3" cy="130.9" r="1.3"/>
<circle cx="257.6" cy="129.4" r="1.3"/>
<circle cx="254.1" cy="129.9" r="1.3"/>
<circle cx="254.6" cy="127.4" r="1.3"/>
<circle cx="255.0" cy="131.8" r="1.3"/>
<circle cx="249.0" cy="125.9" r="1.3"/>
<circle cx="250.9" cy="133.5" r="1.3"/>
<circle cx="256.7" cy="124.7" r="1.3"/>
<circle cx="258.9" cy="148.9" r="1.3"/>
<circle cx="249.9" cy="141.2" r="1.3"/>
<circle cx="251.0" cy="145.4" r="1.3"/>
<circle cx="253.1" cy="147.0" r="1.3"/>
<circle cx="249.8" cy="125.2" r="1.3"/>
<circle cx="255.6" cy="137.4" r="1.3"/>
<circle cx="247.2" cy="124.9" r="1.3"/>
<circle cx="255.1" cy="143.9" r="1.3"/>
<circle cx="250.2" cy="132.9" r="1.3"/>
<circle cx="254.8" cy="142.5" r="1.3"/>
<circle cx="258.4" cy="140.9" r="1.3"/>
<circle cx="249.2" cy="127.7" r="1.3"/>
<circle cx="247.8" cy="131.9" r="1.3"/>
<circle cx="248.4" cy="134.0" r="1.3"/>
<circle cx="249.5" cy="139.5" r="1.3"/>
<circle cx="258.2" cy="137.3" r="1.3"/>
<circle cx="251.6" cy="133.5" r="1.3"/>
<circle cx="249.5" cy="144.6" r="1.3"/>
<circle cx="250.9" cy="142.2" r="1.3"/>
<circle cx="248.3" cy="124.8" r="1.3"/>
<circle cx="246.3" cy="128.6" r="1.3"/>
<circle cx="258.1" cy="131.3" r="1.3"/>
<circle cx="246.1" cy="136.4" r="1.3"/>
<circle cx="246.3" cy="133.7" r="1.3"/>
<circle cx="255.0" cy="143.0" r="1.3"/>
<circle cx="245.9" cy="135.3" r="1.3"/>
<circle cx="247.0" cy="141.2" r="1.3"/>
<circle cx="251.8" cy="126.5" r="1.3"/>
<circle cx="250.7" cy="145.6" r="1.3"/>
<circle cx="256.3" cy="128.3" r="1.3"/>
<circle cx="252.8" cy="147.8" r="1.3"/>
<circle cx="248.3" cy="138.9" r="1.3"/>
<circle cx="253.1" cy="143.4" r="1.3"/>
<circle cx="256.4" cy="127.8" r="1.3"/>
<circle cx="258.0" cy="126.7" r="1.3"/>
<circle cx="246.0" cy="134.4" r="1.3"/>
<circle cx="246.9" cy="126.3" r="1.3"/>
<circle cx="255.7" cy="129.9" r="1.3"/>
<circle cx="248.3" cy="147.5" r="1.3"/>
<circle cx="256.6" cy="133.7" r="1.3"/>
<circle cx="254.0" cy="137.2" r="1.3"/>
<circle cx="256.4" cy="140.5" r="1.3"/>
<circle cx="249.4" cy="140.1" r="1.3"/>
<circle cx="249.7" cy="133.2" r="1.3"/>
<circle cx="257.5" cy="147.3" r="1.3"/>
<circle cx="246.7" cy="136.1" r="1.3"/>
<circle cx="254.7" cy="144.3" r="1.3"/>
<circle cx="249.4" cy="147.6" r="1.3"/>
<circle cx="246.3" cy="136.6" r="1.3"/>
<circle cx="254.8" cy="132.6" r="1.3"/>
<circle cx="247.9" cy="146.4" r="1.3"/>
<circle cx="258.1" cy="135.5" r="1.3"/>
<circle cx="251.2" cy="131.6" r="1.3"/>
<circle cx="255.4" cy="135.8" r="1.3"/>
<circle cx="246.8" cy="128.2" r="1.3"/>
<circle cx="248.6" cy="148.0" r="1.3"/>
<circle cx="250.5" cy="135.6" r="1.3"/>
<circle cx="254.1" cy="144.7" r="1.3"/>
<circle cx="255.2" cy="136.6" r="1.3"/>
<circle cx="247.9" cy="127.6" r="1.3"/>
<circle cx="256.4" cy="126.2" r="1.3"/>
<circle cx="254.8" cy="143.6" r="1.3"/>
<circle cx="256.1" cy="126.3" r="1.3"/>
<circle cx="252.8" cy="126.1" r="1.3"/>
<circle cx="258.6" cy="139.2" r="1.3"/>
<circle cx="258.2" cy="125.4" r="1.3"/>
<circle cx="256.3" cy="148.8" r="1.3"/>
<circle cx="250.4" cy="133.6" r="1.3"/>
<circle cx="253.8" cy="130.0" r="1.3"/>
<circle cx="254.3" cy="145.0" r="1.3"/>
<circle cx="258.1" cy="135.5" r="1.3"/>
<circle cx="257.4" cy="143.8" r="1.3"/>
<circle cx="259.0" cy="135.0" r="1.3"/>
<circle cx="256.0" cy="130.4" r="1.3"/>
<circle cx="257.5" cy="139.9" r="1.3"/>
<circle cx="246.9" cy="138.8" r="1.3"/>
<circle cx="248.2" cy="135.4" r="1.3"/>
<circle cx="256.6" cy="139.9" r="1.3"/>
<circle cx="247.5" cy="148.4" r="1.3"/>
<circle cx="251.4" cy="134.4" r="1.3"/>
<circle cx="246.1" cy="132.3" r="1.3"/>
<circle cx="248.6" cy="146.3" r="1.3"/>
<circle cx="258.0" cy="135.8" r="1.3"/>
<circle cx="257.6" cy="136.1" r="1.3"/>
<circle cx="247.4" cy="143.0" r="1.3"/>
<circle cx="251.4" cy="132.9" r="1.3"/>
<circle cx="256.0" cy="130.1" r="1.3"/>
<circle cx="254.4" cy="142.7" r="1.3"/>
<circle cx="251.5" cy="139.5" r="1.3"/>
<circle cx="252.3" cy="142.3" r="1.3"/>
<circle cx="252.9" cy="137.5" r="1.3"/>
<circle cx="246.3" cy="128.3" r="1.3"/>
<circle cx="253.5" cy="128.8" r="1.3"/>
<circle cx="255.5" cy="130.6" r="1.3"/>
<circle cx="258.9" cy="139.5" r="1.3"/>
<circle cx="251.0" cy="149.0" r="1.3"/>
<circle cx="254.6" cy="134.4" r="1.3"/>
<circle cx="253.4" cy="123.9" r="1.3"/>
<circle cx="248.4" cy="143.3" r="1.3"/>
<circle cx="255.5" cy="128.5" r="1.3"/>
<circle cx="252.2" cy="147.7" r="1.3"/>
<circle cx="250.7" cy="128.2" r="1.3"/>
<circle cx="252.4" cy="137.4" r="1.3"/>
<circle cx="250.9" cy="133.2" r="1.3"/>
<circle cx="253.7" cy="131.6" r="1.3"/>
<circle cx="257.2" cy="130.1" r="1.3"/>
<circle cx="250.7" cy="142.7" r="1.3"/>
<circle cx="256.1" cy="129.0" r="1.3"/>
<circle cx="258.1" cy="144.0" r="1.3"/>
<circle cx="257.0" cy="126.6" r="1.3"/>
<circle cx="246.8" cy="141.3" r="1.3"/>
<circle cx="254.2" cy="145.4" r="1.3"/>
<circle cx="256.8" cy="142.4" r="1.3"/>
<circle cx="254.8" cy="141.6" r="1.3"/>
<circle cx="248.7" cy="143.8" r="1.3"/>
<circle cx="252.4" cy="131.1" r="1.3"/>
<circle cx="248.7" cy="131.7" r="1.3"/>
<circle cx="250.2" cy="132.7" r="1.3"/>
<circle cx="250.7" cy="144.2" r="1.3"/>
<circle cx="247.7" cy="147.6" r="1.3"/>
<circle cx="255.0" cy="138.6" r="1.3"/>
<circle cx="247.4" cy="126.8" r="1.3"/>
<circle cx="254.4" cy="148.5" r="1.3"/>
<circle cx="255.4" cy="134.0" r="1.3"/>
<circle cx="251.7" cy="136.4" r="1.3"/>
<circle cx="258.5" cy="139.6" r="1.3"/>
<circle cx="254.2" cy="133.0" r="1.3"/>
<circle cx="250.6" cy="140.3" r="1.3"/>
<circle cx="255.8" cy="133.0" r="1.3"/>
<circle cx="251.8" cy="136.1" r="1.3"/>
<circle cx="248.8" cy="129.1" r="1.3"/>
<circle cx="246.1" cy="132.8" r="1.3"/>
<circle cx="251.8" cy="143.5" r="1.3"/>
<circle cx="253.5" cy="134.3" r="1.3"/>
<circle cx="246.9" cy="136.7" r="1.3"/>
<circle cx="248.0" cy="128.9" r="1.3"/>
<circle cx="250.1" cy="140.8" r="1.3"/>
<circle cx="248.6" cy="147.8" r="1.3"/>
<circle cx="248.3" cy="145.2" r="1.3"/>
<circle cx="254.0" cy="127.7" r="1.3"/>
<circle cx="248.7" cy="146.2" r="1.3"/>
<circle cx="252.9" cy="146.1" r="1.3"/>
<circle cx="251.1" cy="129.8" r="1.3"/>
<circle cx="248.5" cy="131.4" r="1.3"/>
<circle cx="252.9" cy="146.9" r="1.3"/>
<circle cx="249.0" cy="133.9" r="1.3"/>
<circle cx="247.1" cy="143.9" r="1.3"/>
<circle cx="253.4" cy="128.4" r="1.3"/>
<circle cx="252.7" cy="132.3" r="1.3"/>
<circle cx="245.9" cy="141.4" r="1.3"/>
<circle cx="250.0" cy="126.0" r="1.3"/>
<circle cx="250.5" cy="129.2" r="1.3"/>
<circle cx="246.3" cy="136.5" r="1.3"/>
<circle cx="257.6" cy="129.6" r="1.3"/>
<circle cx="253.5" cy="144.4" r="1.3"/>
<circle cx="258.0" cy="147.0" r="1.3"/>
<circle cx="258.5" cy="129.5" r="1.3"/>
<circle cx="255.3" cy="135.7" r="1.3"/>
<circle cx="248.0" cy="140.4" r="1.3"/>
<circle cx="254.6" cy="132.5" r="1.3"/>
<circle cx="250.9" cy="128.8" r="1.3"/>
<circle cx="246.5" cy="141.8" r="1.3"/>
<circle cx="247.0" cy="140.8" r="1.3"/>
<circle cx="256.3" cy="130.0" r="1.3"/>
<circle cx="247.8" cy="141.3" r="1.3"/>
<circle cx="247.3" cy="132.3" r="1.3"/>
<circle cx="251.6" cy="143.2" r="1.3"/>
<circle cx="250.7" cy="127.2" r="1.3"/>
<circle cx="251.4" cy="131.6" r="1.3"/>
<circle cx="254.1" cy="137.1" r="1.3"/>
<circle cx="253.1" cy="139.9" r="1.3"/>
<circle cx="248.4" cy="136.6" r="1.3"/>
<circle cx="249.8" cy="140.7" r="1.3"/>
<circle cx="248.3" cy="126.0" r="1.3"/>
<circle cx="251.4" cy="144.0" r="1.3"/>
<circle cx="246.2" cy="143.6" r="1.3"/>
<circle cx="257.3" cy="140.5" r="1.3"/>
<circle cx="254.6" cy="143.2" r="1.3"/>
<circle cx="254.4" cy="137.7" r="1.3"/>
<circle cx="255.5" cy="135.7" r="1.3"/>
<circle cx="250.8" cy="142.0" r="1.3"/>
<circle cx="253.6" cy="128.1" r="1.3"/>
<circle cx="254.9" cy="136.9" r="1.3"/>
<circle cx="250.1" cy="126.5" r="1.3"/>
<circle cx="257.0" cy="145.4" r="1.3"/>
<circle cx="254.8" cy="129.6" r="1.3"/>
<circle cx="254.7" cy="124.7" r="1.3"/>
<circle cx="257.4" cy="142.8" r="1.3"/>
<circle cx="259.0" cy="140.8" r="1.3"/>
<circle cx="250.8" cy="124.4" r="1.3"/>
<circle cx="248.0" cy="139.1" r="1.3"/>
<circle cx="254.1" cy="142.2" r="1.3"/>
<circle cx="249.3" cy="129.0" r="1.3"/>
<circle cx="253.9" cy="130.3" r="1.3"/>
<circle cx="256.2" cy="127.0" r="1.3"/>
<circle cx="257.6" cy="128.3" r="1.3"/>
<circle cx="258.7" cy="136.4" r="1.3"/>
<circle cx="255.1" cy="136.1" r="1.3"/>
<circle cx="258.6" cy="132.5" r="1.3"/>
<circle cx="251.5" cy="132.3" r="1.3"/>
<circle cx="249.7" cy="145.8" r="1.3"/>
<circle cx="250.9" cy="145.6" r="1.3"/>
<circle cx="245.9" cy="146.7" r="1.3"/>
<circle cx="251.8" cy="129.8" r="1.3"/>
<circle cx="246.4" cy="133.0" r="1.3"/>
<circle cx="247.3" cy="136.2" r="1.3"/>
<circle cx="249.7" cy="137.8" r="1.3"/>
<circle cx="255.2" cy="138.6" r="1.3"/>
<circle cx="251.0" cy="130.7" r="1.3"/>
<circle cx="247.3" cy="140.2" r="1.3"/>
<circle cx="255.1" cy="128.0" r="1.3"/>
<circle cx="258.7" cy="142.6" r="1.3"/>
<circle cx="254.1" cy="141.2" r="1.3"/>
<circle cx="255.1" cy="127.7" r="1.3"/>
<circle cx="247.6" cy="140.3" r="1.3"/>
<circle cx="258.2" cy="140.2" r="1.3"/>
<circle cx="254.1" cy="128.4" r="1.3"/>
<circle cx="249.5" cy="129.3" r="1.3"/>
<circle cx="245.8" cy="140.5" r="1.3"/>
<circle cx="248.0" cy="140.3" r="1.3"/>
<circle cx="248.6" cy="148.4" r="1.3"/>
<circle cx="256.4" cy="144.7" r="1.3"/>
<circle cx="253.4" cy="135.1" r="1.3"/>
<circle cx="257.0" cy="127.7" r="1.3"/>
<circle cx="254.0" cy="144.8" r="1.3"/>
<circle cx="255.8" cy="146.6" r="1.3"/>
<circle cx="258.1" cy="141.3" r="1.3"/>
<circle cx="249.1" cy="143.6" r="1.3"/>
<circle cx="251.0" cy="129.1" r="1.3"/>
<circle cx="257.1" cy="130.2" r="1.3"/>
<circle cx="255.4" cy="142.9" r="1.3"/>
<circle cx="250.0" cy="141.4" r="1.3"/>
<circle cx="251.5" cy="127.0" r="1.3"/>
<circle cx="258.9" cy="146.9" r="1.3"/>
<circle cx="258.5" cy="125.9" r="1.3"/>
<circle cx="251.9" cy="131.6" r="1.3"/>
<circle cx="256.2" cy="144.3" r="1.3"/>
<circle cx="253.9" cy="124.3" r="1.3"/>
<circle cx="257.4" cy="126.0" r="1.3"/>
<circle cx="246.9" cy="131.0" r="1.3"/>
<circle cx="252.2" cy="126.1" r="1.3"/>
<circle cx="248.0" cy="135.2" r="1.3"/>
<circle cx="247.4" cy="128.7" r="1.3"/>
<circle cx="255.3" cy="148.3" r="1.3"/>
<circle cx="249.9" cy="145.5" r="1.3"/>
<circle cx="254.2" cy="133.1" r="1.3"/>
<circle cx="246.6" cy="125.0" r="1.3"/>
<circle cx="258.5" cy="137.9" r="1.3"/>
<circle cx="253.4" cy="139.9" r="1.3"/>
<circle cx="253.8" cy="139.0" r="1.3"/>
<circle cx="251.6" cy="130.1" r="1.3"/>
<circle cx="248.3" cy="141.5" r="1.3"/>
<circle cx="255.9" cy="143.4" r="1.3"/>
<circle cx="246.7" cy="126.0" r="1.3"/>
<circle cx="247.9" cy="138.7" r="1.3"/>
<circle cx="249.9" cy="142.4" r="1.3"/>
<circle cx="250.5" cy="135.5" r="1.3"/>
<circle cx="247.3" cy="135.6" r="1.3"/>
<circle cx="246.5" cy="147.1" r="1.3"/>
<circle cx="248.5" cy="143.0" r="1.3"/>
<circle cx="250.3" cy="141.7" r="1.3"/>
<circle cx="256.8" cy="132.4" r="1.3"/>
<circle cx="252.0" cy="129.6" r="1.3"/>
<circle cx="254.9" cy="141.1" r="1.3"/>
<circle cx="253.9" cy="130.2" r="1.3"/>
<circle cx="252.9" cy="130.1" r="1.3"/>
<circle cx="254.2" cy="125.6" r="1.3"/>
<circle cx="249.3" cy="132.1" r="1.3"/>
<circle cx="258.7" cy="135.7" r="1.3"/>
<circle cx="257.7" cy="146.7" r="1.3"/>
<circle cx="255.4" cy="142.3" r="1.3"/>
<circle cx="255.7" cy="138.4" r="1.3"/>
<circle cx="252.9" cy="142.8" r="1.3"/>
<circle cx="249.2" cy="127.2" r="1.3"/>
<circle cx="254.3" cy="133.2" r="1.3"/>
<circle cx="247.3" cy="141.6" r="1.3"/>
<circle cx="258.6" cy="143.9" r="1.3"/>
<circle cx="252.9" cy="131.5" r="1.3"/>
<circle cx="252.5" cy="135.1" r="1.3"/>
<circle cx="258.6" cy="129.3" r="1.3"/>
<circle cx="248.9" cy="138.2" r="1.3"/>
<circle cx="251.3" cy="131.8" r="1.3"/>
<circle cx="254.7" cy="142.5" r="1.3"/>
<circle cx="254.9" cy="138.2" r="1.3"/>
<circle cx="246.0" cy="141.7" r="1.3"/>
<circle cx="250.8" cy="144.1" r="1.3"/>
<circle cx="254.7" cy="124.0" r="1.3"/>
<circle cx="258.1" cy="133.2" r="1.3"/>
<circle cx="257.1" cy="136.6" r="1.3"/>
<circle cx="253.5" cy="126.5" r="1.3"/>
<circle cx="246.6" cy="139.9" r="1.3"/>
<circle cx="250.7" cy="140.4" r="1.3"/>
<circle cx="251.4" cy="147.6" r="1.3"/>
<circle cx="254.8" cy="124.9" r="1.3"/>
<circle cx="248.9" cy="144.4" r="1.3"/>
<circle cx="250.2" cy="128.9" r="1.3"/>
<circle cx="248.8" cy="129.6" r="1.3"/>
<circle cx="248.1" cy="134.0" r="1.3"/>
<circle cx="255.3" cy="132.0" r="1.3"/>
<circle cx="246.9" cy="124.9" r="1.3"/>
<circle cx="257.0" cy="136.9" r="1.3"/>
<circle cx="257.1" cy="133.9" r="1.3"/>
<circle cx="248.0" cy="139.0" r="1.3"/>
<circle cx="256.6" cy="137.3" r="1.3"/>
<circle cx="246.4" cy="144.9" r="1.3"/>
<circle cx="248.3" cy="134.3" r="1.3"/>
<circle cx="254.3" cy="137.7" r="1.3"/>
<circle cx="251.1" cy="124.7" r="1.3"/>
<circle cx="250.3" cy="132.1" r="1.3"/>
<circle cx="248.5" cy="136.1" r="1.3"/>
<circle cx="248.2" cy="146.2" r="1.3"/>
<circle cx="250.2" cy="146.1" r="1.3"/>
<circle cx="250.8" cy="132.6" r="1.3"/>
<circle cx="253.0" cy="129.0" r="1.3"/>
<circle cx="252.1" cy="146.9" r="1.3"/>
<circle cx="255.4" cy="138.9" r="1.3"/>
<circle cx="255.7" cy="124.4" r="1.3"/>
<circle cx="252.7" cy="142.7" r="1.3"/>
<circle cx="250.5" cy="136.5" r="1.3"/>
<circle cx="250.0" cy="123.3" r="1.3"/>
<circle cx="251.1" cy="120.6" r="1.3"/>
<circle cx="256.6" cy="120.1" r="1.3"/>
<circle cx="257.5" cy="119.9" r="1.3"/>
<circle cx="251.2" cy="120.7" r="1.3"/>
<circle cx="246.5" cy="119.9" r="1.3"/>
<circle cx="255.1" cy="122.5" r="1.3"/>
<circle cx="252.0" cy="122.5" r="1.3"/>
<circle cx="256.3" cy="121.7" r="1.3"/>
<circle cx="256.1" cy="119.3" r="1.3"/>
<circle cx="256.1" cy="121.9" r="1.3"/>
<circle cx="250.3" cy="119.2" r="1.3"/>
<circle cx="257.7" cy="122.9" r="1.3"/>
<circle cx="250.6" cy="119.9" r="1.3"/>
<circle cx="255.8" cy="117.7" r="1.3"/>
<circle cx="251.7" cy="114.7" r="1.3"/>
<circle cx="247.0" cy="117.7" r="1.3"/>
<circle cx="254.6" cy="114.9" r="1.3"/>
<circle cx="258.3" cy="116.8" r="1.3"/>
<circle cx="256.2" cy="114.6" r="1.3"/>
<circle cx="254.7" cy="42.5" r="1.3"/>
<circle cx="252.9" cy="53.2" r="1.3"/>
<circle cx="247.6" cy="72.4" r="1.3"/>
<circle cx="252.9" cy="74.8" r="1.3"/>
<circle cx="245.8" cy="76.3" r="1.3"/>
<circle cx="251.5" cy="81.7" r="1.3"/>
<circle cx="256.8" cy="91.5" r="1.3"/>
<circle cx="246.1" cy="92.9" r="1.3"/>
<circle cx="252.9" cy="95.9" r="1.3"/>
<circle cx="255.7" cy="95.9" r="1.3"/>
<circle cx="247.3" cy="103.0" r="1.3"/>
<circle cx="250.0" cy="104.2" r="1.3"/>
<circle cx="252.8" cy="106.3" r="1.3"/>
<circle cx="258.2" cy="107.9" r="1.3"/>
<circle cx="246.2" cy="107.9" r="1.3"/>
<circle cx="246.8" cy="110.1" r="1.3"/>
<circle cx="255.5" cy="110.7" r="1.3"/>
<circle cx="251.1" cy="112.3" r="1.3"/>
<circle cx="256.6" cy="113.4" r="1.3"/>
<circle cx="258.2" cy="116.2" r="1.3"/>
<circle cx="245.7" cy="117.2" r="1.3"/>
<circle cx="250.0" cy="117.2" r="1.3"/>
<circle cx="247.3" cy="119.4" r="1.3"/>
<circle cx="252.2" cy="119.4" r="1.3"/>
<circle cx="258.2" cy="120.5" r="1.3"/>
<circle cx="248.9" cy="122.3" r="1.3"/>
<circle cx="255.7" cy="121.8" r="1.3"/>
<circle cx="253.9" cy="122.8" r="1.3"/>
<circle cx="323.8" cy="146.2" r="1.3"/>
<circle cx="311.9" cy="128.7" r="1.3"/>
<circle cx="313.9" cy="146.6" r="1.3"/>
<circle cx="319.9" cy="142.0" r="1.3"/>
<circle cx="322.9" cy="144.3" r="1.3"/>
<circle cx="323.8" cy="142.5" r="1.3"/>
<circle cx="319.2" cy="130.1" r="1.3"/>
<circle cx="320.3" cy="130.3" r="1.3"/>
<circle cx="320.6" cy="148.1" r="1.3"/>
<circle cx="322.8" cy="137.1" r="1.3"/>
<circle cx="315.5" cy="145.2" r="1.3"/>
<circle cx="322.4" cy="137.2" r="1.3"/>
<circle cx="323.6" cy="133.3" r="1.3"/>
<circle cx="323.9" cy="137.5" r="1.3"/>
<circle cx="320.5" cy="136.6" r="1.3"/>
<circle cx="314.9" cy="129.6" r="1.3"/>
<circle cx="315.5" cy="133.2" r="1.3"/>
<circle cx="323.8" cy="135.8" r="1.3"/>
<circle cx="313.4" cy="132.3" r="1.3"/>
<circle cx="320.1" cy="145.3" r="1.3"/>
<circle cx="312.2" cy="138.2" r="1.3"/>
<circle cx="312.0" cy="130.2" r="1.3"/>
<circle cx="318.0" cy="138.5" r="1.3"/>
<circle cx="316.8" cy="135.6" r="1.3"/>
<circle cx="323.3" cy="142.8" r="1.3"/>
<circle cx="316.3" cy="137.2" r="1.3"/>
<circle cx="315.4" cy="136.9" r="1.3"/>
<circle cx="318.5" cy="140.2" r="1.3"/>
<circle cx="320.2" cy="138.3" r="1.3"/>
<circle cx="312.7" cy="128.8" r="1.3"/>
<circle cx="316.1" cy="140.3" r="1.3"/>
<circle cx="316.7" cy="130.1" r="1.3"/>
<circle cx="323.7" cy="138.6" r="1.3"/>
<circle cx="316.7" cy="147.1" r="1.3"/>
<circle cx="323.0" cy="145.6" r="1.3"/>
<circle cx="318.5" cy="141.9" r="1.3"/>
<circle cx="315.8" cy="141.8" r="1.3"/>
<circle cx="314.0" cy="148.3" r="1.3"/>
<circle cx="318.4" cy="132.9" r="1.3"/>
<circle cx="319.8" cy="144.9" r="1.3"/>
<circle cx="320.4" cy="148.0" r="1.3"/>
<circle cx="316.8" cy="132.2" r="1.3"/>
<circle cx="323.3" cy="139.7" r="1.3"/>
<circle cx="322.4" cy="138.9" r="1.3"/>
<circle cx="318.3" cy="137.2" r="1.3"/>
<circle cx="324.2" cy="133.9" r="1.3"/>
<circle cx="317.6" cy="134.3" r="1.3"/>
<circle cx="319.8" cy="141.9" r="1.3"/>
<circle cx="321.6" cy="132.4" r="1.3"/>
<circle cx="319.3" cy="129.9" r="1.3"/>
<circle cx="311.8" cy="138.9" r="1.3"/>
<circle cx="319.7" cy="142.1" r="1.3"/>
<circle cx="313.7" cy="135.0" r="1.3"/>
<circle cx="317.1" cy="143.6" r="1.3"/>
<circle cx="312.1" cy="129.4" r="1.3"/>
<circle cx="316.1" cy="146.6" r="1.3"/>
<circle cx="314.3" cy="143.9" r="1.3"/>
<circle cx="322.6" cy="145.4" r="1.3"/>
<circle cx="315.1" cy="147.1" r="1.3"/>
<circle cx="317.6" cy="144.8" r="1.3"/>
<circle cx="316.0" cy="134.1" r="1.3"/>
<circle cx="323.4" cy="132.1" r="1.3"/>
<circle cx="312.0" cy="141.4" r="1.3"/>
<circle cx="322.4" cy="148.4" r="1.3"/>
<circle cx="314.2" cy="139.1" r="1.3"/>
<circle cx="316.4" cy="133.8" r="1.3"/>
<circle cx="320.7" cy="139.6" r="1.3"/>
<circle cx="314.7" cy="144.4" r="1.3"/>
<circle cx="315.0" cy="147.7" r="1.3"/>
<circle cx="320.1" cy="145.8" r="1.3"/>
<circle cx="322.9" cy="135.9" r="1.3"/>
<circle cx="312.3" cy="138.9" r="1.3"/>
<circle cx="319.3" cy="148.2" r="1.3"/>
<circle cx="317.8" cy="148.4" r="1.3"/>
<circle cx="321.4" cy="149.0" r="1.3"/>
<circle cx="319.6" cy="129.0" r="1.3"/>
<circle cx="322.4" cy="144.3" r="1.3"/>
<circle cx="318.4" cy="146.2" r="1.3"/>
<circle cx="315.9" cy="131.5" r="1.3"/>
<circle cx="322.0" cy="148.9" r="1.3"/>
<circle cx="316.4" cy="136.0" r="1.3"/>
<circle cx="313.8" cy="132.7" r="1.3"/>
<circle cx="323.0" cy="137.8" r="1.3"/>
<circle cx="316.2" cy="131.8" r="1.3"/>
<circle cx="318.1" cy="145.2" r="1.3"/>
<circle cx="315.1" cy="145.8" r="1.3"/>
<circle cx="322.3" cy="138.7" r="1.3"/>
<circle cx="320.5" cy="132.4" r="1.3"/>
<circle cx="324.0" cy="145.2" r="1.3"/>
<circle cx="316.7" cy="131.3" r="1.3"/>
<circle cx="321.3" cy="141.2" r="1.3"/>
<circle cx="319.9" cy="145.1" r="1.3"/>
<circle cx="313.6" cy="148.0" r="1.3"/>
<circle cx="316.4" cy="144.2" r="1.3"/>
<circle cx="318.2" cy="129.3" r="1.3"/>
<circle cx="313.5" cy="137.7" r="1.3"/>
<circle cx="322.6" cy="136.9" r="1.3"/>
<circle cx="318.3" cy="133.4" r="1.3"/>
<circle cx="311.8" cy="129.8" r="1.3"/>
<circle cx="320.3" cy="132.6" r="1.3"/>
<circle cx="322.1" cy="147.0" r="1.3"/>
<circle cx="312.4" cy="145.4" r="1.3"/>
<circle cx="318.0" cy="130.0" r="1.3"/>
<circle cx="323.2" cy="140.7" r="1.3"/>
<circle cx="319.5" cy="134.0" r="1.3"/>
<circle cx="315.8" cy="129.3" r="1.3"/>
<circle cx="323.6" cy="134.3" r="1.3"/>
<circle cx="323.1" cy="132.8" r="1.3"/>
<circle cx="319.9" cy="142.5" r="1.3"/>
<circle cx="315.2" cy="144.2" r="1.3"/>
<circle cx="312.3" cy="130.2" r="1.3"/>
<circle cx="315.4" cy="148.6" r="1.3"/>
<circle cx="315.6" cy="146.9" r="1.3"/>
<circle cx="317.2" cy="142.3" r="1.3"/>
<circle cx="313.8" cy="139.4" r="1.3"/>
<circle cx="316.9" cy="141.8" r="1.3"/>
<circle cx="322.0" cy="142.8" r="1.3"/>
<circle cx="318.5" cy="131.2" r="1.3"/>
<circle cx="323.8" cy="141.4" r="1.3"/>
<circle cx="312.1" cy="129.7" r="1.3"/>
<circle cx="318.1" cy="144.6" r="1.3"/>
<circle cx="313.2" cy="144.2" r="1.3"/>
<circle cx="315.5" cy="146.2" r="1.3"/>
<circle cx="312.2" cy="128.8" r="1.3"/>
<circle cx="322.0" cy="146.7" r="1.3"/>
<circle cx="317.7" cy="132.7" r="1.3"/>
<circle cx="318.0" cy="147.6" r="1.3"/>
<circle cx="315.9" cy="141.3" r="1.3"/>
<circle cx="323.3" cy="137.2" r="1.3"/>
<circle cx="317.4" cy="136.2" r="1.3"/>
<circle cx="312.2" cy="135.1" r="1.3"/>
<circle cx="321.9" cy="135.4" r="1.3"/>
<circle cx="316.2" cy="143.2" r="1.3"/>
<circle cx="311.7" cy="147.4" r="1.3"/>
<circle cx="313.5" cy="139.8" r="1.3"/>
<circle cx="321.5" cy="144.6" r="1.3"/>
<circle cx="317.6" cy="136.1" r="1.3"/>
<circle cx="319.6" cy="148.6" r="1.3"/>
<circle cx="323.3" cy="137.1" r="1.3"/>
<circle cx="315.4" cy="144.2" r="1.3"/>
<circle cx="320.4" cy="130.1" r="1.3"/>
<circle cx="315.9" cy="141.0" r="1.3"/>
<circle cx="318.7" cy="145.5" r="1.3"/>
<circle cx="316.7" cy="130.4" r="1.3"/>
<circle cx="318.7" cy="132.3" r="1.3"/>
<circle cx="314.9" cy="131.4" r="1.3"/>
<circle cx="321.6" cy="144.5" r="1.3"/>
<circle cx="318.3" cy="135.2" r="1.3"/>
<circle cx="318.9" cy="136.8" r="1.3"/>
<circle cx="314.6" cy="137.8" r="1.3"/>
<circle cx="316.1" cy="132.8" r="1.3"/>
<circle cx="316.3" cy="129.1" r="1.3"/>
<circle cx="319.0" cy="144.4" r="1.3"/>
<circle cx="316.9" cy="146.4" r="1.3"/>
<circle cx="321.0" cy="148.1" r="1.3"/>
<circle cx="319.3" cy="142.8" r="1.3"/>
<circle cx="321.5" cy="146.5" r="1.3"/>
<circle cx="320.3" cy="134.5" r="1.3"/>
<circle cx="314.5" cy="146.4" r="1.3"/>
<circle cx="316.3" cy="135.8" r="1.3"/>
<circle cx="314.9" cy="128.7" r="1.3"/>
<circle cx="317.2" cy="124.7" r="1.3"/>
<circle cx="313.6" cy="124.1" r="1.3"/>
<circle cx="318.1" cy="127.9" r="1.3"/>
<circle cx="312.8" cy="126.9" r="1.3"/>
<circle cx="317.6" cy="127.8" r="1.3"/>
<circle cx="312.6" cy="126.3" r="1.3"/>
<circle cx="314.8" cy="126.5" r="1.3"/>
<circle cx="317.3" cy="125.3" r="1.3"/>
<circle cx="318.9" cy="127.6" r="1.3"/>
<circle cx="313.9" cy="124.5" r="1.3"/>
<circle cx="312.2" cy="128.1" r="1.3"/>
<circle cx="312.8" cy="113.4" r="1.3"/>
<circle cx="312.8" cy="115.0" r="1.3"/>
<circle cx="323.4" cy="114.0" r="1.3"/>
<circle cx="313.0" cy="120.0" r="1.3"/>
<circle cx="318.4" cy="118.9" r="1.3"/>
<circle cx="318.4" cy="121.0" r="1.3"/>
<circle cx="323.4" cy="120.0" r="1.3"/>
<circle cx="315.4" cy="123.8" r="1.3"/>
<circle cx="323.4" cy="124.1" r="1.3"/>
<circle cx="311.9" cy="126.3" r="1.3"/>
<circle cx="321.1" cy="125.8" r="1.3"/>
</g>
<line x1="240.7" x2="263.7" y1="136.99" y2="136.99" stroke="#000" stroke-width="1.15"/>
<line x1="246.5" x2="257.9" y1="136.99" y2="136.99" stroke="#000" stroke-width="1.8"/>
<text transform="translate(265.10 139.44) scale(0.8929 1)" font-size="8.40" fill="#111" stroke="#111" stroke-width="0.18">2.91</text>
<line x1="306.2" x2="329.7" y1="139.00" y2="139.00" stroke="#000" stroke-width="1.15"/>
<line x1="311.4" x2="324.4" y1="139.00" y2="139.00" stroke="#000" stroke-width="1.7"/>
<text transform="translate(330.20 141.45) scale(0.8929 1)" font-size="8.40" fill="#111" stroke="#111" stroke-width="0.18">2.41</text>
<rect x="213.2" y="22.5" width="143.8" height="134.8" fill="none" stroke="#2e2e2e" stroke-width="1"/>
<line x1="210.0" x2="213.2" y1="151.25" y2="151.25" stroke="#2e2e2e" stroke-width="1"/>
<text transform="translate(208.30 154.35) scale(0.8929 1)" font-size="8.62" fill="#666" stroke="#666" stroke-width="0.08" text-anchor="end">0</text>
<line x1="210.0" x2="213.2" y1="126.75" y2="126.75" stroke="#2e2e2e" stroke-width="1"/>
<text transform="translate(208.30 129.85) scale(0.8929 1)" font-size="8.62" fill="#666" stroke="#666" stroke-width="0.08" text-anchor="end">5</text>
<line x1="210.0" x2="213.2" y1="102.25" y2="102.25" stroke="#2e2e2e" stroke-width="1"/>
<text transform="translate(208.30 105.35) scale(0.8929 1)" font-size="8.62" fill="#666" stroke="#666" stroke-width="0.08" text-anchor="end">10</text>
<line x1="210.0" x2="213.2" y1="77.75" y2="77.75" stroke="#2e2e2e" stroke-width="1"/>
<text transform="translate(208.30 80.85) scale(0.8929 1)" font-size="8.62" fill="#666" stroke="#666" stroke-width="0.08" text-anchor="end">15</text>
<line x1="210.0" x2="213.2" y1="53.25" y2="53.25" stroke="#2e2e2e" stroke-width="1"/>
<text transform="translate(208.30 56.35) scale(0.8929 1)" font-size="8.62" fill="#666" stroke="#666" stroke-width="0.08" text-anchor="end">20</text>
<line x1="210.0" x2="213.2" y1="28.75" y2="28.75" stroke="#2e2e2e" stroke-width="1"/>
<text transform="translate(208.30 31.85) scale(0.8929 1)" font-size="8.62" fill="#666" stroke="#666" stroke-width="0.08" text-anchor="end">25</text>
<line x1="252.3" x2="252.3" y1="157.3" y2="160.5" stroke="#2e2e2e" stroke-width="1"/>
<text transform="translate(252.30 168.30) scale(0.8929 1)" font-size="8.62" fill="#666" stroke="#666" stroke-width="0.08" text-anchor="middle">AA</text>
<text transform="translate(250.00 178.40) scale(0.8929 1)" font-size="8.62" fill="#1a1a1a" stroke="#1a1a1a" stroke-width="0.18" text-anchor="middle">n= 492</text>
<line x1="318" x2="318" y1="157.3" y2="160.5" stroke="#2e2e2e" stroke-width="1"/>
<text transform="translate(318.00 168.30) scale(0.8929 1)" font-size="8.62" fill="#666" stroke="#666" stroke-width="0.08" text-anchor="middle">AT+TT</text>
<text transform="translate(317.00 178.40) scale(0.8929 1)" font-size="8.62" fill="#1a1a1a" stroke="#1a1a1a" stroke-width="0.18" text-anchor="middle">n= 189</text>
<text transform="translate(234.15 36.40) scale(0.8929 1)" font-size="9.02" fill="#111" stroke="#111" stroke-width="0.18"><tspan font-style="italic">p</tspan>-value = 0.03, <tspan font-style="italic">p</tspan>-value* = 0.09</text>
<text transform="translate(194.2 91.3) rotate(-90)" font-size="10.6" fill="#000" stroke="#000" stroke-width="0.18" text-anchor="middle">IL−10 (pg/ml)</text>
</g>
<g>
<text x="32.5" y="202.2" font-size="12.9" fill="#000" stroke="#000" stroke-width="0.18">recessive</text>
<g fill="#b1b1b1" fill-opacity="0.88" stroke="#b1b1b1" stroke-opacity="0.88" stroke-width="0.7">
<circle cx="65.6" cy="335.3" r="1.3"/>
<circle cx="70.3" cy="324.4" r="1.3"/>
<circle cx="67.1" cy="335.3" r="1.3"/>
<circle cx="68.3" cy="323.0" r="1.3"/>
<circle cx="67.2" cy="323.3" r="1.3"/>
<circle cx="73.6" cy="334.8" r="1.3"/>
<circle cx="72.0" cy="328.9" r="1.3"/>
<circle cx="70.5" cy="318.4" r="1.3"/>
<circle cx="66.6" cy="337.0" r="1.3"/>
<circle cx="77.1" cy="329.7" r="1.3"/>
<circle cx="67.9" cy="331.1" r="1.3"/>
<circle cx="69.9" cy="319.2" r="1.3"/>
<circle cx="68.0" cy="333.3" r="1.3"/>
<circle cx="72.7" cy="327.0" r="1.3"/>
<circle cx="77.2" cy="321.4" r="1.3"/>
<circle cx="69.8" cy="333.5" r="1.3"/>
<circle cx="75.8" cy="318.6" r="1.3"/>
<circle cx="65.8" cy="323.4" r="1.3"/>
<circle cx="76.2" cy="325.0" r="1.3"/>
<circle cx="68.1" cy="322.2" r="1.3"/>
<circle cx="74.4" cy="333.7" r="1.3"/>
<circle cx="73.3" cy="333.2" r="1.3"/>
<circle cx="65.9" cy="331.0" r="1.3"/>
<circle cx="69.5" cy="329.9" r="1.3"/>
<circle cx="73.4" cy="321.5" r="1.3"/>
<circle cx="77.3" cy="318.8" r="1.3"/>
<circle cx="77.7" cy="322.4" r="1.3"/>
<circle cx="69.2" cy="334.1" r="1.3"/>
<circle cx="73.1" cy="327.0" r="1.3"/>
<circle cx="73.8" cy="335.6" r="1.3"/>
<circle cx="67.8" cy="319.9" r="1.3"/>
<circle cx="72.9" cy="324.2" r="1.3"/>
<circle cx="66.6" cy="329.8" r="1.3"/>
<circle cx="76.7" cy="325.0" r="1.3"/>
<circle cx="77.7" cy="333.7" r="1.3"/>
<circle cx="71.0" cy="322.2" r="1.3"/>
<circle cx="70.9" cy="322.4" r="1.3"/>
<circle cx="72.4" cy="335.2" r="1.3"/>
<circle cx="66.6" cy="318.7" r="1.3"/>
<circle cx="66.9" cy="333.7" r="1.3"/>
<circle cx="69.6" cy="323.8" r="1.3"/>
<circle cx="76.0" cy="328.4" r="1.3"/>
<circle cx="71.6" cy="322.4" r="1.3"/>
<circle cx="68.8" cy="330.3" r="1.3"/>
<circle cx="73.0" cy="325.3" r="1.3"/>
<circle cx="65.9" cy="335.3" r="1.3"/>
<circle cx="67.1" cy="323.6" r="1.3"/>
<circle cx="74.0" cy="318.9" r="1.3"/>
<circle cx="74.9" cy="332.6" r="1.3"/>
<circle cx="74.9" cy="318.6" r="1.3"/>
<circle cx="69.7" cy="337.2" r="1.3"/>
<circle cx="70.1" cy="332.0" r="1.3"/>
<circle cx="67.6" cy="336.6" r="1.3"/>
<circle cx="66.9" cy="320.9" r="1.3"/>
<circle cx="66.0" cy="325.7" r="1.3"/>
<circle cx="68.0" cy="333.7" r="1.3"/>
<circle cx="75.6" cy="331.7" r="1.3"/>
<circle cx="67.7" cy="328.7" r="1.3"/>
<circle cx="74.0" cy="327.4" r="1.3"/>
<circle cx="76.1" cy="329.8" r="1.3"/>
<circle cx="71.9" cy="323.7" r="1.3"/>
<circle cx="71.1" cy="323.7" r="1.3"/>
<circle cx="71.2" cy="334.9" r="1.3"/>
<circle cx="66.9" cy="322.5" r="1.3"/>
<circle cx="74.6" cy="319.4" r="1.3"/>
<circle cx="74.0" cy="326.4" r="1.3"/>
<circle cx="67.5" cy="321.2" r="1.3"/>
<circle cx="66.9" cy="329.3" r="1.3"/>
<circle cx="67.1" cy="330.2" r="1.3"/>
<circle cx="69.2" cy="329.3" r="1.3"/>
<circle cx="74.2" cy="327.1" r="1.3"/>
<circle cx="68.4" cy="322.6" r="1.3"/>
<circle cx="74.5" cy="321.6" r="1.3"/>
<circle cx="65.8" cy="325.7" r="1.3"/>
<circle cx="76.5" cy="332.5" r="1.3"/>
<circle cx="67.9" cy="321.9" r="1.3"/>
<circle cx="69.9" cy="329.8" r="1.3"/>
<circle cx="75.5" cy="330.1" r="1.3"/>
<circle cx="67.9" cy="333.3" r="1.3"/>
<circle cx="69.7" cy="324.1" r="1.3"/>
<circle cx="70.0" cy="322.7" r="1.3"/>
<circle cx="66.2" cy="332.7" r="1.3"/>
<circle cx="73.1" cy="328.3" r="1.3"/>
<circle cx="71.6" cy="319.6" r="1.3"/>
<circle cx="68.8" cy="334.0" r="1.3"/>
<circle cx="65.8" cy="328.2" r="1.3"/>
<circle cx="69.1" cy="328.4" r="1.3"/>
<circle cx="65.5" cy="337.4" r="1.3"/>
<circle cx="70.1" cy="323.0" r="1.3"/>
<circle cx="69.1" cy="320.0" r="1.3"/>
<circle cx="72.6" cy="329.7" r="1.3"/>
<circle cx="75.0" cy="333.0" r="1.3"/>
<circle cx="72.9" cy="321.3" r="1.3"/>
<circle cx="72.1" cy="331.3" r="1.3"/>
<circle cx="66.6" cy="326.5" r="1.3"/>
<circle cx="67.7" cy="330.3" r="1.3"/>
<circle cx="72.1" cy="319.5" r="1.3"/>
<circle cx="73.7" cy="327.5" r="1.3"/>
<circle cx="76.0" cy="331.5" r="1.3"/>
<circle cx="70.2" cy="324.5" r="1.3"/>
<circle cx="72.3" cy="333.2" r="1.3"/>
<circle cx="70.5" cy="321.7" r="1.3"/>
<circle cx="68.4" cy="324.0" r="1.3"/>
<circle cx="66.0" cy="319.2" r="1.3"/>
<circle cx="73.9" cy="331.3" r="1.3"/>
<circle cx="77.6" cy="322.2" r="1.3"/>
<circle cx="66.2" cy="332.7" r="1.3"/>
<circle cx="71.5" cy="318.4" r="1.3"/>
<circle cx="67.1" cy="336.5" r="1.3"/>
<circle cx="69.3" cy="336.6" r="1.3"/>
<circle cx="70.5" cy="327.2" r="1.3"/>
<circle cx="70.9" cy="334.7" r="1.3"/>
<circle cx="65.7" cy="322.1" r="1.3"/>
<circle cx="70.9" cy="328.3" r="1.3"/>
<circle cx="71.3" cy="324.3" r="1.3"/>
<circle cx="76.6" cy="321.6" r="1.3"/>
<circle cx="74.4" cy="331.0" r="1.3"/>
<circle cx="67.5" cy="335.7" r="1.3"/>
<circle cx="76.1" cy="336.3" r="1.3"/>
<circle cx="72.5" cy="320.1" r="1.3"/>
<circle cx="69.4" cy="330.0" r="1.3"/>
<circle cx="70.6" cy="319.4" r="1.3"/>
<circle cx="73.9" cy="321.4" r="1.3"/>
<circle cx="65.9" cy="323.5" r="1.3"/>
<circle cx="71.0" cy="329.8" r="1.3"/>
<circle cx="75.5" cy="323.4" r="1.3"/>
<circle cx="76.7" cy="323.3" r="1.3"/>
<circle cx="76.7" cy="329.3" r="1.3"/>
<circle cx="72.3" cy="322.5" r="1.3"/>
<circle cx="71.0" cy="334.8" r="1.3"/>
<circle cx="72.7" cy="320.8" r="1.3"/>
<circle cx="76.2" cy="335.0" r="1.3"/>
<circle cx="70.1" cy="333.1" r="1.3"/>
<circle cx="69.6" cy="319.1" r="1.3"/>
<circle cx="70.6" cy="331.5" r="1.3"/>
<circle cx="68.8" cy="329.0" r="1.3"/>
<circle cx="73.7" cy="330.9" r="1.3"/>
<circle cx="67.7" cy="333.1" r="1.3"/>
<circle cx="68.6" cy="320.1" r="1.3"/>
<circle cx="67.5" cy="323.0" r="1.3"/>
<circle cx="66.7" cy="322.4" r="1.3"/>
<circle cx="68.7" cy="322.6" r="1.3"/>
<circle cx="70.8" cy="335.9" r="1.3"/>
<circle cx="66.6" cy="322.2" r="1.3"/>
<circle cx="72.1" cy="328.2" r="1.3"/>
<circle cx="69.8" cy="324.2" r="1.3"/>
<circle cx="71.4" cy="336.2" r="1.3"/>
<circle cx="72.9" cy="331.4" r="1.3"/>
<circle cx="75.9" cy="327.0" r="1.3"/>
<circle cx="75.0" cy="335.1" r="1.3"/>
<circle cx="74.2" cy="325.8" r="1.3"/>
<circle cx="76.0" cy="320.6" r="1.3"/>
<circle cx="72.2" cy="326.1" r="1.3"/>
<circle cx="74.9" cy="332.4" r="1.3"/>
<circle cx="72.2" cy="322.4" r="1.3"/>
<circle cx="72.8" cy="327.1" r="1.3"/>
<circle cx="76.0" cy="318.8" r="1.3"/>
<circle cx="68.6" cy="336.0" r="1.3"/>
<circle cx="73.0" cy="334.6" r="1.3"/>
<circle cx="77.4" cy="328.4" r="1.3"/>
<circle cx="72.0" cy="321.8" r="1.3"/>
<circle cx="76.2" cy="334.7" r="1.3"/>
<circle cx="71.0" cy="334.0" r="1.3"/>
<circle cx="71.1" cy="334.9" r="1.3"/>
<circle cx="76.3" cy="330.6" r="1.3"/>
<circle cx="70.2" cy="320.3" r="1.3"/>
<circle cx="75.6" cy="331.0" r="1.3"/>
<circle cx="71.6" cy="324.8" r="1.3"/>
<circle cx="67.7" cy="334.8" r="1.3"/>
<circle cx="76.0" cy="334.3" r="1.3"/>
<circle cx="74.2" cy="323.3" r="1.3"/>
<circle cx="72.7" cy="330.8" r="1.3"/>
<circle cx="76.0" cy="322.4" r="1.3"/>
<circle cx="66.3" cy="320.3" r="1.3"/>
<circle cx="73.3" cy="331.9" r="1.3"/>
<circle cx="67.5" cy="335.6" r="1.3"/>
<circle cx="75.5" cy="321.3" r="1.3"/>
<circle cx="69.7" cy="334.0" r="1.3"/>
<circle cx="66.3" cy="329.5" r="1.3"/>
<circle cx="69.1" cy="336.4" r="1.3"/>
<circle cx="69.1" cy="321.8" r="1.3"/>
<circle cx="66.2" cy="329.7" r="1.3"/>
<circle cx="71.8" cy="334.3" r="1.3"/>
<circle cx="65.9" cy="336.0" r="1.3"/>
<circle cx="67.2" cy="318.8" r="1.3"/>
<circle cx="76.1" cy="324.0" r="1.3"/>
<circle cx="76.6" cy="331.2" r="1.3"/>
<circle cx="68.5" cy="320.8" r="1.3"/>
<circle cx="72.9" cy="319.8" r="1.3"/>
<circle cx="69.9" cy="329.5" r="1.3"/>
<circle cx="74.3" cy="320.6" r="1.3"/>
<circle cx="67.5" cy="332.4" r="1.3"/>
<circle cx="65.6" cy="326.8" r="1.3"/>
<circle cx="76.9" cy="326.6" r="1.3"/>
<circle cx="67.2" cy="324.2" r="1.3"/>
<circle cx="73.5" cy="335.4" r="1.3"/>
<circle cx="76.7" cy="324.8" r="1.3"/>
<circle cx="71.5" cy="330.9" r="1.3"/>
<circle cx="67.4" cy="328.5" r="1.3"/>
<circle cx="69.9" cy="333.0" r="1.3"/>
<circle cx="73.4" cy="324.8" r="1.3"/>
<circle cx="77.2" cy="319.0" r="1.3"/>
<circle cx="71.2" cy="323.8" r="1.3"/>
<circle cx="70.1" cy="329.2" r="1.3"/>
<circle cx="72.4" cy="318.7" r="1.3"/>
<circle cx="65.9" cy="328.6" r="1.3"/>
<circle cx="69.6" cy="322.1" r="1.3"/>
<circle cx="77.2" cy="328.4" r="1.3"/>
<circle cx="66.4" cy="326.1" r="1.3"/>
<circle cx="72.7" cy="324.4" r="1.3"/>
<circle cx="75.0" cy="328.6" r="1.3"/>
<circle cx="72.2" cy="322.8" r="1.3"/>
<circle cx="65.7" cy="332.8" r="1.3"/>
<circle cx="73.9" cy="318.8" r="1.3"/>
<circle cx="77.1" cy="332.0" r="1.3"/>
<circle cx="77.5" cy="332.1" r="1.3"/>
<circle cx="71.0" cy="334.4" r="1.3"/>
<circle cx="72.9" cy="330.0" r="1.3"/>
<circle cx="73.9" cy="319.2" r="1.3"/>
<circle cx="67.0" cy="324.9" r="1.3"/>
<circle cx="72.9" cy="332.2" r="1.3"/>
<circle cx="65.8" cy="319.5" r="1.3"/>
<circle cx="74.0" cy="325.5" r="1.3"/>
<circle cx="66.7" cy="320.3" r="1.3"/>
<circle cx="70.3" cy="328.6" r="1.3"/>
<circle cx="72.3" cy="328.9" r="1.3"/>
<circle cx="77.2" cy="328.5" r="1.3"/>
<circle cx="73.8" cy="322.7" r="1.3"/>
<circle cx="77.0" cy="334.2" r="1.3"/>
<circle cx="69.6" cy="319.3" r="1.3"/>
<circle cx="72.9" cy="330.3" r="1.3"/>
<circle cx="76.3" cy="335.2" r="1.3"/>
<circle cx="68.5" cy="336.1" r="1.3"/>
<circle cx="73.7" cy="328.1" r="1.3"/>
<circle cx="69.2" cy="329.0" r="1.3"/>
<circle cx="68.5" cy="323.9" r="1.3"/>
<circle cx="74.8" cy="330.1" r="1.3"/>
<circle cx="76.2" cy="336.6" r="1.3"/>
<circle cx="72.4" cy="334.5" r="1.3"/>
<circle cx="66.9" cy="326.8" r="1.3"/>
<circle cx="66.5" cy="336.0" r="1.3"/>
<circle cx="67.1" cy="330.2" r="1.3"/>
<circle cx="75.7" cy="331.9" r="1.3"/>
<circle cx="66.9" cy="322.8" r="1.3"/>
<circle cx="75.5" cy="318.4" r="1.3"/>
<circle cx="66.0" cy="334.3" r="1.3"/>
<circle cx="70.8" cy="318.5" r="1.3"/>
<circle cx="72.1" cy="320.6" r="1.3"/>
<circle cx="68.2" cy="328.4" r="1.3"/>
<circle cx="73.9" cy="333.1" r="1.3"/>
<circle cx="71.9" cy="321.7" r="1.3"/>
<circle cx="75.5" cy="324.1" r="1.3"/>
<circle cx="75.7" cy="318.4" r="1.3"/>
<circle cx="72.9" cy="332.7" r="1.3"/>
<circle cx="68.2" cy="336.3" r="1.3"/>
<circle cx="76.8" cy="326.5" r="1.3"/>
<circle cx="72.9" cy="320.8" r="1.3"/>
<circle cx="74.0" cy="329.9" r="1.3"/>
<circle cx="72.7" cy="335.9" r="1.3"/>
<circle cx="68.5" cy="330.9" r="1.3"/>
<circle cx="75.3" cy="324.8" r="1.3"/>
<circle cx="72.9" cy="329.9" r="1.3"/>
<circle cx="69.8" cy="330.1" r="1.3"/>
<circle cx="66.0" cy="330.5" r="1.3"/>
<circle cx="76.7" cy="321.9" r="1.3"/>
<circle cx="68.5" cy="327.9" r="1.3"/>
<circle cx="74.6" cy="333.6" r="1.3"/>
<circle cx="69.8" cy="326.2" r="1.3"/>
<circle cx="67.7" cy="320.1" r="1.3"/>
<circle cx="65.6" cy="320.6" r="1.3"/>
<circle cx="73.7" cy="329.8" r="1.3"/>
<circle cx="69.0" cy="320.9" r="1.3"/>
<circle cx="74.2" cy="333.4" r="1.3"/>
<circle cx="69.3" cy="335.6" r="1.3"/>
<circle cx="73.2" cy="329.3" r="1.3"/>
<circle cx="69.3" cy="324.0" r="1.3"/>
<circle cx="68.6" cy="334.7" r="1.3"/>
<circle cx="75.3" cy="320.5" r="1.3"/>
<circle cx="75.4" cy="326.8" r="1.3"/>
<circle cx="74.3" cy="321.0" r="1.3"/>
<circle cx="65.9" cy="331.7" r="1.3"/>
<circle cx="69.8" cy="323.4" r="1.3"/>
<circle cx="69.6" cy="322.9" r="1.3"/>
<circle cx="68.6" cy="319.4" r="1.3"/>
<circle cx="70.8" cy="326.2" r="1.3"/>
<circle cx="73.2" cy="321.8" r="1.3"/>
<circle cx="72.4" cy="333.4" r="1.3"/>
<circle cx="70.9" cy="326.7" r="1.3"/>
<circle cx="66.3" cy="321.6" r="1.3"/>
<circle cx="69.2" cy="319.9" r="1.3"/>
<circle cx="70.0" cy="319.3" r="1.3"/>
<circle cx="74.4" cy="329.9" r="1.3"/>
<circle cx="74.1" cy="337.4" r="1.3"/>
<circle cx="66.5" cy="326.3" r="1.3"/>
<circle cx="69.2" cy="329.7" r="1.3"/>
<circle cx="74.1" cy="328.4" r="1.3"/>
<circle cx="73.0" cy="323.3" r="1.3"/>
<circle cx="75.8" cy="335.4" r="1.3"/>
<circle cx="75.7" cy="323.2" r="1.3"/>
<circle cx="68.2" cy="335.8" r="1.3"/>
<circle cx="67.8" cy="335.7" r="1.3"/>
<circle cx="72.5" cy="318.4" r="1.3"/>
<circle cx="71.4" cy="332.2" r="1.3"/>
<circle cx="67.5" cy="318.9" r="1.3"/>
<circle cx="72.2" cy="332.9" r="1.3"/>
<circle cx="76.7" cy="329.4" r="1.3"/>
<circle cx="77.6" cy="327.7" r="1.3"/>
<circle cx="68.5" cy="333.9" r="1.3"/>
<circle cx="65.6" cy="321.9" r="1.3"/>
<circle cx="69.5" cy="323.5" r="1.3"/>
<circle cx="75.8" cy="329.8" r="1.3"/>
<circle cx="71.7" cy="323.7" r="1.3"/>
<circle cx="73.4" cy="330.5" r="1.3"/>
<circle cx="67.9" cy="332.0" r="1.3"/>
<circle cx="65.7" cy="325.3" r="1.3"/>
<circle cx="73.3" cy="322.7" r="1.3"/>
<circle cx="70.9" cy="323.5" r="1.3"/>
<circle cx="72.3" cy="321.2" r="1.3"/>
<circle cx="72.2" cy="324.6" r="1.3"/>
<circle cx="72.8" cy="333.6" r="1.3"/>
<circle cx="66.4" cy="321.8" r="1.3"/>
<circle cx="74.0" cy="327.7" r="1.3"/>
<circle cx="76.7" cy="334.0" r="1.3"/>
<circle cx="74.5" cy="327.8" r="1.3"/>
<circle cx="66.7" cy="335.0" r="1.3"/>
<circle cx="65.7" cy="333.8" r="1.3"/>
<circle cx="75.0" cy="328.3" r="1.3"/>
<circle cx="66.0" cy="328.0" r="1.3"/>
<circle cx="77.5" cy="322.4" r="1.3"/>
<circle cx="69.1" cy="328.2" r="1.3"/>
<circle cx="70.0" cy="333.0" r="1.3"/>
<circle cx="73.6" cy="337.0" r="1.3"/>
<circle cx="71.3" cy="319.7" r="1.3"/>
<circle cx="74.8" cy="324.9" r="1.3"/>
<circle cx="75.7" cy="319.3" r="1.3"/>
<circle cx="68.8" cy="319.4" r="1.3"/>
<circle cx="76.5" cy="328.0" r="1.3"/>
<circle cx="67.1" cy="327.3" r="1.3"/>
<circle cx="71.6" cy="318.4" r="1.3"/>
<circle cx="68.4" cy="323.7" r="1.3"/>
<circle cx="74.8" cy="326.0" r="1.3"/>
<circle cx="68.9" cy="320.1" r="1.3"/>
<circle cx="68.6" cy="321.1" r="1.3"/>
<circle cx="76.4" cy="327.3" r="1.3"/>
<circle cx="66.0" cy="332.2" r="1.3"/>
<circle cx="66.2" cy="333.9" r="1.3"/>
<circle cx="69.8" cy="326.5" r="1.3"/>
<circle cx="75.4" cy="336.5" r="1.3"/>
<circle cx="74.6" cy="335.3" r="1.3"/>
<circle cx="74.2" cy="337.2" r="1.3"/>
<circle cx="69.8" cy="319.7" r="1.3"/>
<circle cx="76.2" cy="336.4" r="1.3"/>
<circle cx="70.2" cy="320.0" r="1.3"/>
<circle cx="67.6" cy="328.7" r="1.3"/>
<circle cx="68.6" cy="331.8" r="1.3"/>
<circle cx="71.5" cy="334.8" r="1.3"/>
<circle cx="67.3" cy="318.8" r="1.3"/>
<circle cx="74.9" cy="326.0" r="1.3"/>
<circle cx="67.1" cy="334.9" r="1.3"/>
<circle cx="73.1" cy="325.7" r="1.3"/>
<circle cx="65.5" cy="319.0" r="1.3"/>
<circle cx="70.1" cy="332.3" r="1.3"/>
<circle cx="73.3" cy="320.0" r="1.3"/>
<circle cx="69.7" cy="327.7" r="1.3"/>
<circle cx="66.0" cy="328.5" r="1.3"/>
<circle cx="76.5" cy="319.5" r="1.3"/>
<circle cx="69.7" cy="321.0" r="1.3"/>
<circle cx="77.7" cy="331.6" r="1.3"/>
<circle cx="76.0" cy="332.1" r="1.3"/>
<circle cx="77.4" cy="320.3" r="1.3"/>
<circle cx="77.4" cy="329.6" r="1.3"/>
<circle cx="73.9" cy="324.0" r="1.3"/>
<circle cx="72.6" cy="336.4" r="1.3"/>
<circle cx="73.7" cy="322.1" r="1.3"/>
<circle cx="73.4" cy="320.2" r="1.3"/>
<circle cx="77.3" cy="325.2" r="1.3"/>
<circle cx="69.8" cy="327.7" r="1.3"/>
<circle cx="67.7" cy="333.2" r="1.3"/>
<circle cx="77.5" cy="329.0" r="1.3"/>
<circle cx="71.2" cy="320.5" r="1.3"/>
<circle cx="75.3" cy="336.6" r="1.3"/>
<circle cx="70.5" cy="327.3" r="1.3"/>
<circle cx="68.3" cy="322.8" r="1.3"/>
<circle cx="73.1" cy="321.2" r="1.3"/>
<circle cx="67.1" cy="333.9" r="1.3"/>
<circle cx="69.2" cy="327.6" r="1.3"/>
<circle cx="68.6" cy="327.6" r="1.3"/>
<circle cx="69.7" cy="336.2" r="1.3"/>
<circle cx="75.6" cy="327.1" r="1.3"/>
<circle cx="76.6" cy="327.5" r="1.3"/>
<circle cx="76.1" cy="325.8" r="1.3"/>
<circle cx="71.5" cy="319.5" r="1.3"/>
<circle cx="69.9" cy="318.8" r="1.3"/>
<circle cx="72.7" cy="319.3" r="1.3"/>
<circle cx="66.6" cy="327.1" r="1.3"/>
<circle cx="69.3" cy="321.8" r="1.3"/>
<circle cx="76.7" cy="321.0" r="1.3"/>
<circle cx="70.2" cy="336.0" r="1.3"/>
<circle cx="77.5" cy="333.5" r="1.3"/>
<circle cx="75.6" cy="326.1" r="1.3"/>
<circle cx="74.5" cy="323.9" r="1.3"/>
<circle cx="68.3" cy="330.1" r="1.3"/>
<circle cx="70.2" cy="324.0" r="1.3"/>
<circle cx="73.8" cy="318.5" r="1.3"/>
<circle cx="72.1" cy="330.7" r="1.3"/>
<circle cx="66.9" cy="329.0" r="1.3"/>
<circle cx="72.8" cy="324.3" r="1.3"/>
<circle cx="65.7" cy="333.7" r="1.3"/>
<circle cx="73.3" cy="322.4" r="1.3"/>
<circle cx="77.1" cy="334.8" r="1.3"/>
<circle cx="74.4" cy="328.9" r="1.3"/>
<circle cx="72.7" cy="324.4" r="1.3"/>
<circle cx="70.4" cy="325.9" r="1.3"/>
<circle cx="77.4" cy="337.0" r="1.3"/>
<circle cx="72.2" cy="318.4" r="1.3"/>
<circle cx="76.3" cy="332.6" r="1.3"/>
<circle cx="75.1" cy="320.0" r="1.3"/>
<circle cx="70.5" cy="326.9" r="1.3"/>
<circle cx="69.1" cy="318.4" r="1.3"/>
<circle cx="67.7" cy="324.1" r="1.3"/>
<circle cx="77.7" cy="318.8" r="1.3"/>
<circle cx="76.0" cy="329.1" r="1.3"/>
<circle cx="77.0" cy="321.1" r="1.3"/>
<circle cx="70.6" cy="330.3" r="1.3"/>
<circle cx="69.5" cy="331.2" r="1.3"/>
<circle cx="72.5" cy="329.5" r="1.3"/>
<circle cx="77.3" cy="337.4" r="1.3"/>
<circle cx="72.9" cy="329.2" r="1.3"/>
<circle cx="77.8" cy="318.4" r="1.3"/>
<circle cx="74.3" cy="323.5" r="1.3"/>
<circle cx="70.1" cy="324.1" r="1.3"/>
<circle cx="68.4" cy="321.9" r="1.3"/>
<circle cx="72.5" cy="333.0" r="1.3"/>
<circle cx="68.0" cy="330.0" r="1.3"/>
<circle cx="69.7" cy="324.7" r="1.3"/>
<circle cx="71.2" cy="336.8" r="1.3"/>
<circle cx="69.4" cy="328.8" r="1.3"/>
<circle cx="77.7" cy="319.8" r="1.3"/>
<circle cx="73.0" cy="319.0" r="1.3"/>
<circle cx="67.3" cy="333.5" r="1.3"/>
<circle cx="67.3" cy="332.5" r="1.3"/>
<circle cx="68.9" cy="327.1" r="1.3"/>
<circle cx="76.4" cy="330.7" r="1.3"/>
<circle cx="69.4" cy="328.4" r="1.3"/>
<circle cx="77.2" cy="327.8" r="1.3"/>
<circle cx="77.6" cy="331.6" r="1.3"/>
<circle cx="72.2" cy="325.4" r="1.3"/>
<circle cx="74.3" cy="321.5" r="1.3"/>
<circle cx="66.9" cy="333.5" r="1.3"/>
<circle cx="66.7" cy="322.7" r="1.3"/>
<circle cx="71.5" cy="328.0" r="1.3"/>
<circle cx="65.8" cy="322.2" r="1.3"/>
<circle cx="77.4" cy="337.2" r="1.3"/>
<circle cx="77.7" cy="328.2" r="1.3"/>
<circle cx="66.9" cy="336.9" r="1.3"/>
<circle cx="74.1" cy="322.1" r="1.3"/>
<circle cx="70.5" cy="320.8" r="1.3"/>
<circle cx="65.4" cy="320.8" r="1.3"/>
<circle cx="67.4" cy="333.9" r="1.3"/>
<circle cx="69.6" cy="331.1" r="1.3"/>
<circle cx="76.5" cy="327.8" r="1.3"/>
<circle cx="70.7" cy="321.9" r="1.3"/>
<circle cx="70.8" cy="331.5" r="1.3"/>
<circle cx="69.7" cy="326.3" r="1.3"/>
<circle cx="76.7" cy="319.8" r="1.3"/>
<circle cx="65.7" cy="330.4" r="1.3"/>
<circle cx="74.1" cy="328.0" r="1.3"/>
<circle cx="74.5" cy="319.5" r="1.3"/>
<circle cx="66.0" cy="324.1" r="1.3"/>
<circle cx="68.4" cy="325.0" r="1.3"/>
<circle cx="67.8" cy="334.7" r="1.3"/>
<circle cx="75.9" cy="324.9" r="1.3"/>
<circle cx="73.3" cy="329.2" r="1.3"/>
<circle cx="68.6" cy="336.2" r="1.3"/>
<circle cx="77.2" cy="322.3" r="1.3"/>
<circle cx="74.7" cy="335.9" r="1.3"/>
<circle cx="65.5" cy="328.5" r="1.3"/>
<circle cx="66.6" cy="325.7" r="1.3"/>
<circle cx="69.2" cy="322.6" r="1.3"/>
<circle cx="67.4" cy="327.9" r="1.3"/>
<circle cx="70.5" cy="333.0" r="1.3"/>
<circle cx="69.5" cy="333.8" r="1.3"/>
<circle cx="69.2" cy="329.0" r="1.3"/>
<circle cx="70.3" cy="324.8" r="1.3"/>
<circle cx="76.3" cy="327.8" r="1.3"/>
<circle cx="67.9" cy="327.7" r="1.3"/>
<circle cx="67.3" cy="321.4" r="1.3"/>
<circle cx="65.6" cy="332.0" r="1.3"/>
<circle cx="76.9" cy="326.3" r="1.3"/>
<circle cx="69.6" cy="336.8" r="1.3"/>
<circle cx="67.6" cy="321.5" r="1.3"/>
<circle cx="66.4" cy="324.2" r="1.3"/>
<circle cx="67.4" cy="323.0" r="1.3"/>
<circle cx="66.8" cy="334.9" r="1.3"/>
<circle cx="67.8" cy="319.3" r="1.3"/>
<circle cx="65.6" cy="328.3" r="1.3"/>
<circle cx="76.7" cy="324.5" r="1.3"/>
<circle cx="65.6" cy="324.8" r="1.3"/>
<circle cx="69.2" cy="333.2" r="1.3"/>
<circle cx="67.1" cy="335.3" r="1.3"/>
<circle cx="72.4" cy="323.0" r="1.3"/>
<circle cx="76.6" cy="325.3" r="1.3"/>
<circle cx="70.8" cy="320.0" r="1.3"/>
<circle cx="67.5" cy="319.8" r="1.3"/>
<circle cx="77.6" cy="327.1" r="1.3"/>
<circle cx="74.6" cy="325.6" r="1.3"/>
<circle cx="74.1" cy="324.5" r="1.3"/>
<circle cx="74.0" cy="324.5" r="1.3"/>
<circle cx="71.4" cy="333.8" r="1.3"/>
<circle cx="69.5" cy="331.2" r="1.3"/>
<circle cx="73.9" cy="334.9" r="1.3"/>
<circle cx="74.0" cy="328.4" r="1.3"/>
<circle cx="76.8" cy="329.4" r="1.3"/>
<circle cx="74.7" cy="334.7" r="1.3"/>
<circle cx="67.2" cy="321.2" r="1.3"/>
<circle cx="75.6" cy="332.8" r="1.3"/>
<circle cx="70.6" cy="322.9" r="1.3"/>
<circle cx="66.4" cy="324.4" r="1.3"/>
<circle cx="74.0" cy="319.3" r="1.3"/>
<circle cx="77.8" cy="322.6" r="1.3"/>
<circle cx="66.9" cy="321.8" r="1.3"/>
<circle cx="67.4" cy="332.1" r="1.3"/>
<circle cx="75.5" cy="328.0" r="1.3"/>
<circle cx="70.7" cy="320.5" r="1.3"/>
<circle cx="75.9" cy="331.7" r="1.3"/>
<circle cx="75.8" cy="318.5" r="1.3"/>
<circle cx="73.9" cy="333.2" r="1.3"/>
<circle cx="72.0" cy="326.7" r="1.3"/>
<circle cx="68.9" cy="323.2" r="1.3"/>
<circle cx="66.9" cy="334.2" r="1.3"/>
<circle cx="77.2" cy="331.0" r="1.3"/>
<circle cx="67.2" cy="322.5" r="1.3"/>
<circle cx="75.3" cy="329.0" r="1.3"/>
<circle cx="71.5" cy="337.2" r="1.3"/>
<circle cx="65.6" cy="320.2" r="1.3"/>
<circle cx="77.2" cy="323.7" r="1.3"/>
<circle cx="73.9" cy="329.7" r="1.3"/>
<circle cx="69.2" cy="323.5" r="1.3"/>
<circle cx="75.2" cy="335.8" r="1.3"/>
<circle cx="66.8" cy="336.1" r="1.3"/>
<circle cx="74.1" cy="328.2" r="1.3"/>
<circle cx="66.3" cy="327.9" r="1.3"/>
<circle cx="77.0" cy="322.8" r="1.3"/>
<circle cx="74.5" cy="325.2" r="1.3"/>
<circle cx="67.9" cy="327.0" r="1.3"/>
<circle cx="70.9" cy="319.5" r="1.3"/>
<circle cx="65.7" cy="337.0" r="1.3"/>
<circle cx="65.8" cy="336.0" r="1.3"/>
<circle cx="69.3" cy="325.2" r="1.3"/>
<circle cx="74.7" cy="322.0" r="1.3"/>
<circle cx="66.4" cy="329.5" r="1.3"/>
<circle cx="72.7" cy="331.0" r="1.3"/>
<circle cx="68.8" cy="334.1" r="1.3"/>
<circle cx="69.7" cy="335.6" r="1.3"/>
<circle cx="77.8" cy="323.6" r="1.3"/>
<circle cx="77.2" cy="336.3" r="1.3"/>
<circle cx="66.8" cy="325.0" r="1.3"/>
<circle cx="77.5" cy="329.7" r="1.3"/>
<circle cx="69.3" cy="329.8" r="1.3"/>
<circle cx="65.4" cy="333.6" r="1.3"/>
<circle cx="67.2" cy="334.7" r="1.3"/>
<circle cx="77.5" cy="325.0" r="1.3"/>
<circle cx="75.7" cy="329.3" r="1.3"/>
<circle cx="72.0" cy="330.4" r="1.3"/>
<circle cx="71.2" cy="322.4" r="1.3"/>
<circle cx="73.8" cy="334.5" r="1.3"/>
<circle cx="68.7" cy="325.0" r="1.3"/>
<circle cx="71.7" cy="327.2" r="1.3"/>
<circle cx="66.0" cy="332.0" r="1.3"/>
<circle cx="70.9" cy="320.2" r="1.3"/>
<circle cx="77.5" cy="335.8" r="1.3"/>
<circle cx="70.7" cy="333.8" r="1.3"/>
<circle cx="70.5" cy="326.0" r="1.3"/>
<circle cx="74.5" cy="326.2" r="1.3"/>
<circle cx="73.1" cy="326.1" r="1.3"/>
<circle cx="67.7" cy="333.8" r="1.3"/>
<circle cx="71.5" cy="336.0" r="1.3"/>
<circle cx="70.1" cy="325.5" r="1.3"/>
<circle cx="76.2" cy="318.8" r="1.3"/>
<circle cx="72.5" cy="334.7" r="1.3"/>
<circle cx="72.5" cy="324.5" r="1.3"/>
<circle cx="68.1" cy="321.6" r="1.3"/>
<circle cx="67.8" cy="325.1" r="1.3"/>
<circle cx="77.2" cy="321.2" r="1.3"/>
<circle cx="74.8" cy="331.8" r="1.3"/>
<circle cx="70.6" cy="320.4" r="1.3"/>
<circle cx="71.5" cy="333.5" r="1.3"/>
<circle cx="69.6" cy="336.1" r="1.3"/>
<circle cx="77.3" cy="330.2" r="1.3"/>
<circle cx="71.4" cy="336.3" r="1.3"/>
<circle cx="73.1" cy="334.4" r="1.3"/>
<circle cx="67.9" cy="322.7" r="1.3"/>
<circle cx="71.4" cy="326.8" r="1.3"/>
<circle cx="68.8" cy="336.0" r="1.3"/>
<circle cx="69.5" cy="330.1" r="1.3"/>
<circle cx="76.5" cy="323.8" r="1.3"/>
<circle cx="71.1" cy="326.9" r="1.3"/>
<circle cx="74.1" cy="323.2" r="1.3"/>
<circle cx="74.8" cy="332.0" r="1.3"/>
<circle cx="70.3" cy="332.0" r="1.3"/>
<circle cx="70.1" cy="321.7" r="1.3"/>
<circle cx="71.0" cy="336.5" r="1.3"/>
<circle cx="74.5" cy="330.9" r="1.3"/>
<circle cx="74.2" cy="320.0" r="1.3"/>
<circle cx="76.6" cy="326.7" r="1.3"/>
<circle cx="65.6" cy="320.1" r="1.3"/>
<circle cx="66.0" cy="327.5" r="1.3"/>
<circle cx="65.8" cy="336.1" r="1.3"/>
<circle cx="76.0" cy="324.4" r="1.3"/>
<circle cx="73.0" cy="333.9" r="1.3"/>
<circle cx="68.5" cy="331.7" r="1.3"/>
<circle cx="75.4" cy="333.0" r="1.3"/>
<circle cx="72.6" cy="321.2" r="1.3"/>
<circle cx="66.6" cy="329.7" r="1.3"/>
<circle cx="68.5" cy="326.3" r="1.3"/>
<circle cx="69.5" cy="319.1" r="1.3"/>
<circle cx="69.5" cy="321.0" r="1.3"/>
<circle cx="70.4" cy="327.9" r="1.3"/>
<circle cx="74.7" cy="323.5" r="1.3"/>
<circle cx="73.6" cy="333.0" r="1.3"/>
<circle cx="74.5" cy="237.9" r="1.3"/>
<circle cx="73.7" cy="255.0" r="1.3"/>
<circle cx="75.5" cy="255.4" r="1.3"/>
<circle cx="74.5" cy="261.8" r="1.3"/>
<circle cx="72.7" cy="270.1" r="1.3"/>
<circle cx="74.5" cy="282.6" r="1.3"/>
<circle cx="72.7" cy="285.4" r="1.3"/>
<circle cx="74.5" cy="284.8" r="1.3"/>
<circle cx="65.1" cy="289.3" r="1.3"/>
<circle cx="68.4" cy="295.7" r="1.3"/>
<circle cx="65.7" cy="297.4" r="1.3"/>
<circle cx="71.7" cy="297.9" r="1.3"/>
<circle cx="66.8" cy="299.0" r="1.3"/>
<circle cx="68.9" cy="300.1" r="1.3"/>
<circle cx="68.4" cy="305.1" r="1.3"/>
<circle cx="75.5" cy="304.5" r="1.3"/>
<circle cx="78.2" cy="307.2" r="1.3"/>
<circle cx="73.9" cy="308.3" r="1.3"/>
<circle cx="65.7" cy="309.9" r="1.3"/>
<circle cx="68.9" cy="308.9" r="1.3"/>
<circle cx="69.5" cy="312.1" r="1.3"/>
<circle cx="77.7" cy="313.2" r="1.3"/>
<circle cx="75.5" cy="311.6" r="1.3"/>
<circle cx="65.7" cy="316.0" r="1.3"/>
<circle cx="70.0" cy="315.4" r="1.3"/>
<circle cx="72.8" cy="316.5" r="1.3"/>
<circle cx="78.2" cy="316.5" r="1.3"/>
<circle cx="75.6" cy="317.3" r="1.3"/>
<circle cx="67.6" cy="317.6" r="1.3"/>
<circle cx="138.0" cy="314.2" r="1.3"/>
<circle cx="132.5" cy="316.2" r="1.3"/>
<circle cx="133.5" cy="320.9" r="1.3"/>
<circle cx="130.8" cy="322.8" r="1.3"/>
<circle cx="143.3" cy="321.2" r="1.3"/>
<circle cx="143.3" cy="324.6" r="1.3"/>
<circle cx="132.9" cy="334.4" r="1.3"/>
<circle cx="134.7" cy="334.2" r="1.3"/>
<circle cx="136.5" cy="333.2" r="1.3"/>
<circle cx="140.8" cy="332.6" r="1.3"/>
<circle cx="143.3" cy="335.1" r="1.3"/>
<circle cx="136.5" cy="336.9" r="1.3"/>
<circle cx="135.1" cy="331.6" r="1.3"/>
<circle cx="139.6" cy="330.9" r="1.3"/>
<circle cx="137.6" cy="327.1" r="1.3"/>
</g>
<line x1="61.4" x2="81.8" y1="329.10" y2="329.10" stroke="#000" stroke-width="1.3"/>
<line x1="66.6" x2="76.6" y1="329.10" y2="329.10" stroke="#000" stroke-width="1.5"/>
<text transform="translate(84.00 331.55) scale(0.8929 1)" font-size="8.40" fill="#111" stroke="#111" stroke-width="0.18">2.76</text>
<line x1="126.8" x2="147.4" y1="328.15" y2="328.15" stroke="#000" stroke-width="1.15"/>
<path d="M133.3 326.30H140.9M133.3 330.00H140.9M137.1 326.30V330.00" stroke="#000" stroke-width="0.85" fill="none"/>
<text transform="translate(149.40 330.60) scale(0.8929 1)" font-size="8.40" fill="#111" stroke="#111" stroke-width="0.18">3.14</text>
<rect x="32.4" y="210.3" width="144.5" height="134.5" fill="none" stroke="#2e2e2e" stroke-width="1"/>
<line x1="29.2" x2="32.4" y1="339.00" y2="339.00" stroke="#2e2e2e" stroke-width="1"/>
<text transform="translate(27.50 342.10) scale(0.8929 1)" font-size="8.62" fill="#666" stroke="#666" stroke-width="0.08" text-anchor="end">0</text>
<line x1="29.2" x2="32.4" y1="304.00" y2="304.00" stroke="#2e2e2e" stroke-width="1"/>
<text transform="translate(27.50 307.10) scale(0.8929 1)" font-size="8.62" fill="#666" stroke="#666" stroke-width="0.08" text-anchor="end">10</text>
<line x1="29.2" x2="32.4" y1="269.00" y2="269.00" stroke="#2e2e2e" stroke-width="1"/>
<text transform="translate(27.50 272.10) scale(0.8929 1)" font-size="8.62" fill="#666" stroke="#666" stroke-width="0.08" text-anchor="end">20</text>
<line x1="29.2" x2="32.4" y1="234.00" y2="234.00" stroke="#2e2e2e" stroke-width="1"/>
<text transform="translate(27.50 237.10) scale(0.8929 1)" font-size="8.62" fill="#666" stroke="#666" stroke-width="0.08" text-anchor="end">30</text>
<line x1="71.5" x2="71.5" y1="344.8" y2="348.0" stroke="#2e2e2e" stroke-width="1"/>
<text transform="translate(71.50 355.80) scale(0.8929 1)" font-size="8.62" fill="#666" stroke="#666" stroke-width="0.08" text-anchor="middle">AA+AT</text>
<text transform="translate(69.00 365.90) scale(0.8929 1)" font-size="8.62" fill="#1a1a1a" stroke="#1a1a1a" stroke-width="0.18" text-anchor="middle">n= 666</text>
<line x1="137.1" x2="137.1" y1="344.8" y2="348.0" stroke="#2e2e2e" stroke-width="1"/>
<text transform="translate(137.10 355.80) scale(0.8929 1)" font-size="8.62" fill="#666" stroke="#666" stroke-width="0.08" text-anchor="middle">TT</text>
<text transform="translate(136.50 365.90) scale(0.8929 1)" font-size="8.62" fill="#1a1a1a" stroke="#1a1a1a" stroke-width="0.18" text-anchor="middle">n= 15</text>
<text transform="translate(49.40 224.30) scale(0.8929 1)" font-size="9.02" fill="#111" stroke="#111" stroke-width="0.18"><tspan font-style="italic">p</tspan>-value = 0.59, <tspan font-style="italic">p</tspan>-value* = 0.70</text>
<text transform="translate(13.8 278.9) rotate(-90)" font-size="10.6" fill="#000" stroke="#000" stroke-width="0.18" text-anchor="middle">IL−10 (pg/ml)</text>
</g>
<g>
<text x="213.5" y="202.2" font-size="12.65" fill="#000" stroke="#000" stroke-width="0.18">overdominant</text>
<g fill="#b1b1b1" fill-opacity="0.88" stroke="#b1b1b1" stroke-opacity="0.88" stroke-width="0.7">
<circle cx="251.1" cy="333.1" r="1.3"/>
<circle cx="248.3" cy="320.5" r="1.3"/>
<circle cx="253.6" cy="324.6" r="1.3"/>
<circle cx="253.3" cy="330.3" r="1.3"/>
<circle cx="255.6" cy="326.7" r="1.3"/>
<circle cx="256.2" cy="325.2" r="1.3"/>
<circle cx="256.9" cy="329.3" r="1.3"/>
<circle cx="248.2" cy="334.6" r="1.3"/>
<circle cx="255.5" cy="334.3" r="1.3"/>
<circle cx="254.6" cy="325.9" r="1.3"/>
<circle cx="247.0" cy="322.9" r="1.3"/>
<circle cx="246.6" cy="321.3" r="1.3"/>
<circle cx="257.0" cy="333.4" r="1.3"/>
<circle cx="255.5" cy="323.8" r="1.3"/>
<circle cx="247.8" cy="325.0" r="1.3"/>
<circle cx="247.8" cy="320.5" r="1.3"/>
<circle cx="255.0" cy="319.2" r="1.3"/>
<circle cx="246.9" cy="331.5" r="1.3"/>
<circle cx="254.1" cy="326.1" r="1.3"/>
<circle cx="248.5" cy="321.0" r="1.3"/>
<circle cx="257.0" cy="331.8" r="1.3"/>
<circle cx="248.1" cy="325.0" r="1.3"/>
<circle cx="251.4" cy="325.1" r="1.3"/>
<circle cx="252.5" cy="330.1" r="1.3"/>
<circle cx="246.5" cy="334.9" r="1.3"/>
<circle cx="252.1" cy="323.9" r="1.3"/>
<circle cx="251.6" cy="323.6" r="1.3"/>
<circle cx="253.1" cy="321.1" r="1.3"/>
<circle cx="254.6" cy="331.5" r="1.3"/>
<circle cx="248.0" cy="336.2" r="1.3"/>
<circle cx="246.7" cy="321.4" r="1.3"/>
<circle cx="257.4" cy="323.5" r="1.3"/>
<circle cx="247.6" cy="325.2" r="1.3"/>
<circle cx="247.8" cy="320.9" r="1.3"/>
<circle cx="254.6" cy="323.5" r="1.3"/>
<circle cx="254.0" cy="329.7" r="1.3"/>
<circle cx="257.1" cy="319.6" r="1.3"/>
<circle cx="249.3" cy="329.3" r="1.3"/>
<circle cx="255.6" cy="324.8" r="1.3"/>
<circle cx="251.5" cy="329.1" r="1.3"/>
<circle cx="258.6" cy="332.3" r="1.3"/>
<circle cx="248.9" cy="324.7" r="1.3"/>
<circle cx="249.7" cy="320.8" r="1.3"/>
<circle cx="250.4" cy="320.3" r="1.3"/>
<circle cx="251.1" cy="321.0" r="1.3"/>
<circle cx="255.8" cy="323.8" r="1.3"/>
<circle cx="248.9" cy="334.4" r="1.3"/>
<circle cx="246.6" cy="334.1" r="1.3"/>
<circle cx="254.7" cy="336.2" r="1.3"/>
<circle cx="249.2" cy="326.9" r="1.3"/>
<circle cx="248.2" cy="331.3" r="1.3"/>
<circle cx="249.1" cy="324.9" r="1.3"/>
<circle cx="247.7" cy="318.9" r="1.3"/>
<circle cx="253.9" cy="324.2" r="1.3"/>
<circle cx="253.3" cy="328.2" r="1.3"/>
<circle cx="258.6" cy="320.8" r="1.3"/>
<circle cx="256.7" cy="336.9" r="1.3"/>
<circle cx="253.7" cy="320.0" r="1.3"/>
<circle cx="254.4" cy="327.9" r="1.3"/>
<circle cx="254.5" cy="334.1" r="1.3"/>
<circle cx="255.5" cy="322.9" r="1.3"/>
<circle cx="247.1" cy="328.0" r="1.3"/>
<circle cx="253.8" cy="330.9" r="1.3"/>
<circle cx="254.9" cy="320.3" r="1.3"/>
<circle cx="257.8" cy="331.7" r="1.3"/>
<circle cx="248.1" cy="321.6" r="1.3"/>
<circle cx="254.0" cy="322.0" r="1.3"/>
<circle cx="257.3" cy="332.2" r="1.3"/>
<circle cx="253.7" cy="331.8" r="1.3"/>
<circle cx="256.4" cy="324.6" r="1.3"/>
<circle cx="249.3" cy="328.1" r="1.3"/>
<circle cx="253.8" cy="333.1" r="1.3"/>
<circle cx="248.5" cy="328.6" r="1.3"/>
<circle cx="247.1" cy="328.2" r="1.3"/>
<circle cx="258.2" cy="322.1" r="1.3"/>
<circle cx="246.9" cy="322.1" r="1.3"/>
<circle cx="255.4" cy="324.3" r="1.3"/>
<circle cx="246.5" cy="323.3" r="1.3"/>
<circle cx="248.7" cy="322.5" r="1.3"/>
<circle cx="250.3" cy="330.6" r="1.3"/>
<circle cx="248.4" cy="321.3" r="1.3"/>
<circle cx="249.0" cy="321.2" r="1.3"/>
<circle cx="252.8" cy="334.7" r="1.3"/>
<circle cx="254.6" cy="327.6" r="1.3"/>
<circle cx="246.5" cy="322.1" r="1.3"/>
<circle cx="249.7" cy="337.0" r="1.3"/>
<circle cx="256.0" cy="323.9" r="1.3"/>
<circle cx="251.1" cy="334.0" r="1.3"/>
<circle cx="252.9" cy="326.5" r="1.3"/>
<circle cx="255.0" cy="328.3" r="1.3"/>
<circle cx="253.5" cy="324.1" r="1.3"/>
<circle cx="248.6" cy="334.1" r="1.3"/>
<circle cx="252.4" cy="323.4" r="1.3"/>
<circle cx="256.5" cy="321.6" r="1.3"/>
<circle cx="251.8" cy="324.2" r="1.3"/>
<circle cx="247.6" cy="330.2" r="1.3"/>
<circle cx="247.1" cy="321.9" r="1.3"/>
<circle cx="259.0" cy="325.0" r="1.3"/>
<circle cx="255.8" cy="330.5" r="1.3"/>
<circle cx="256.4" cy="335.8" r="1.3"/>
<circle cx="250.9" cy="330.9" r="1.3"/>
<circle cx="257.3" cy="334.2" r="1.3"/>
<circle cx="248.2" cy="335.8" r="1.3"/>
<circle cx="257.0" cy="331.6" r="1.3"/>
<circle cx="257.8" cy="331.6" r="1.3"/>
<circle cx="256.9" cy="333.8" r="1.3"/>
<circle cx="257.8" cy="319.4" r="1.3"/>
<circle cx="257.4" cy="324.6" r="1.3"/>
<circle cx="257.7" cy="320.5" r="1.3"/>
<circle cx="258.5" cy="332.3" r="1.3"/>
<circle cx="257.1" cy="323.0" r="1.3"/>
<circle cx="250.6" cy="334.3" r="1.3"/>
<circle cx="257.7" cy="328.7" r="1.3"/>
<circle cx="253.0" cy="321.0" r="1.3"/>
<circle cx="252.4" cy="332.7" r="1.3"/>
<circle cx="255.0" cy="327.6" r="1.3"/>
<circle cx="249.7" cy="324.6" r="1.3"/>
<circle cx="257.8" cy="332.9" r="1.3"/>
<circle cx="256.6" cy="323.4" r="1.3"/>
<circle cx="252.9" cy="333.8" r="1.3"/>
<circle cx="254.7" cy="332.2" r="1.3"/>
<circle cx="249.4" cy="321.6" r="1.3"/>
<circle cx="249.7" cy="335.7" r="1.3"/>
<circle cx="257.0" cy="319.0" r="1.3"/>
<circle cx="250.1" cy="329.9" r="1.3"/>
<circle cx="253.2" cy="323.5" r="1.3"/>
<circle cx="246.4" cy="325.4" r="1.3"/>
<circle cx="249.2" cy="320.2" r="1.3"/>
<circle cx="251.5" cy="319.9" r="1.3"/>
<circle cx="252.0" cy="325.3" r="1.3"/>
<circle cx="246.7" cy="333.7" r="1.3"/>
<circle cx="250.0" cy="330.6" r="1.3"/>
<circle cx="248.4" cy="329.6" r="1.3"/>
<circle cx="247.3" cy="326.9" r="1.3"/>
<circle cx="258.5" cy="321.5" r="1.3"/>
<circle cx="254.2" cy="319.2" r="1.3"/>
<circle cx="255.5" cy="325.7" r="1.3"/>
<circle cx="252.1" cy="335.9" r="1.3"/>
<circle cx="257.6" cy="320.8" r="1.3"/>
<circle cx="256.5" cy="324.6" r="1.3"/>
<circle cx="256.6" cy="319.6" r="1.3"/>
<circle cx="258.6" cy="323.1" r="1.3"/>
<circle cx="246.4" cy="319.9" r="1.3"/>
<circle cx="253.5" cy="329.0" r="1.3"/>
<circle cx="251.7" cy="332.4" r="1.3"/>
<circle cx="246.6" cy="326.0" r="1.3"/>
<circle cx="254.1" cy="335.8" r="1.3"/>
<circle cx="258.0" cy="320.7" r="1.3"/>
<circle cx="257.3" cy="327.5" r="1.3"/>
<circle cx="251.1" cy="328.7" r="1.3"/>
<circle cx="250.9" cy="319.7" r="1.3"/>
<circle cx="258.0" cy="320.8" r="1.3"/>
<circle cx="252.9" cy="327.9" r="1.3"/>
<circle cx="255.0" cy="332.1" r="1.3"/>
<circle cx="248.6" cy="319.2" r="1.3"/>
<circle cx="249.7" cy="332.4" r="1.3"/>
<circle cx="252.5" cy="335.8" r="1.3"/>
<circle cx="252.9" cy="334.5" r="1.3"/>
<circle cx="256.8" cy="335.9" r="1.3"/>
<circle cx="256.5" cy="332.4" r="1.3"/>
<circle cx="256.3" cy="322.6" r="1.3"/>
<circle cx="258.4" cy="334.2" r="1.3"/>
<circle cx="258.8" cy="334.7" r="1.3"/>
<circle cx="250.7" cy="337.3" r="1.3"/>
<circle cx="252.5" cy="335.9" r="1.3"/>
<circle cx="253.3" cy="320.1" r="1.3"/>
<circle cx="256.2" cy="325.4" r="1.3"/>
<circle cx="247.4" cy="319.1" r="1.3"/>
<circle cx="250.9" cy="319.8" r="1.3"/>
<circle cx="248.1" cy="331.9" r="1.3"/>
<circle cx="258.3" cy="323.6" r="1.3"/>
<circle cx="248.6" cy="328.9" r="1.3"/>
<circle cx="253.1" cy="332.8" r="1.3"/>
<circle cx="249.0" cy="335.9" r="1.3"/>
<circle cx="252.7" cy="329.7" r="1.3"/>
<circle cx="250.7" cy="328.5" r="1.3"/>
<circle cx="250.6" cy="330.3" r="1.3"/>
<circle cx="256.0" cy="334.7" r="1.3"/>
<circle cx="247.4" cy="329.1" r="1.3"/>
<circle cx="249.9" cy="328.6" r="1.3"/>
<circle cx="257.2" cy="319.9" r="1.3"/>
<circle cx="256.7" cy="320.3" r="1.3"/>
<circle cx="249.2" cy="331.0" r="1.3"/>
<circle cx="247.6" cy="332.1" r="1.3"/>
<circle cx="249.5" cy="333.0" r="1.3"/>
<circle cx="250.5" cy="320.0" r="1.3"/>
<circle cx="252.8" cy="320.7" r="1.3"/>
<circle cx="252.9" cy="323.5" r="1.3"/>
<circle cx="254.8" cy="326.4" r="1.3"/>
<circle cx="258.0" cy="326.4" r="1.3"/>
<circle cx="252.6" cy="333.2" r="1.3"/>
<circle cx="247.5" cy="329.5" r="1.3"/>
<circle cx="251.4" cy="335.0" r="1.3"/>
<circle cx="258.4" cy="337.1" r="1.3"/>
<circle cx="251.8" cy="332.8" r="1.3"/>
<circle cx="251.4" cy="321.9" r="1.3"/>
<circle cx="258.5" cy="330.0" r="1.3"/>
<circle cx="255.3" cy="320.9" r="1.3"/>
<circle cx="249.9" cy="330.1" r="1.3"/>
<circle cx="251.7" cy="321.9" r="1.3"/>
<circle cx="250.1" cy="320.8" r="1.3"/>
<circle cx="248.6" cy="324.8" r="1.3"/>
<circle cx="254.3" cy="336.8" r="1.3"/>
<circle cx="250.4" cy="321.9" r="1.3"/>
<circle cx="251.3" cy="336.4" r="1.3"/>
<circle cx="252.2" cy="327.4" r="1.3"/>
<circle cx="252.2" cy="329.6" r="1.3"/>
<circle cx="258.2" cy="325.0" r="1.3"/>
<circle cx="251.9" cy="329.1" r="1.3"/>
<circle cx="256.1" cy="333.0" r="1.3"/>
<circle cx="252.4" cy="323.3" r="1.3"/>
<circle cx="247.4" cy="334.7" r="1.3"/>
<circle cx="246.9" cy="325.0" r="1.3"/>
<circle cx="256.4" cy="325.1" r="1.3"/>
<circle cx="254.1" cy="336.8" r="1.3"/>
<circle cx="250.9" cy="328.8" r="1.3"/>
<circle cx="250.5" cy="332.8" r="1.3"/>
<circle cx="251.0" cy="333.2" r="1.3"/>
<circle cx="247.1" cy="326.8" r="1.3"/>
<circle cx="246.5" cy="329.4" r="1.3"/>
<circle cx="251.3" cy="322.4" r="1.3"/>
<circle cx="255.2" cy="328.9" r="1.3"/>
<circle cx="246.3" cy="324.2" r="1.3"/>
<circle cx="255.5" cy="325.6" r="1.3"/>
<circle cx="258.9" cy="328.3" r="1.3"/>
<circle cx="251.3" cy="327.5" r="1.3"/>
<circle cx="247.5" cy="325.8" r="1.3"/>
<circle cx="247.9" cy="325.0" r="1.3"/>
<circle cx="254.0" cy="324.7" r="1.3"/>
<circle cx="248.6" cy="324.2" r="1.3"/>
<circle cx="258.3" cy="319.1" r="1.3"/>
<circle cx="256.0" cy="334.5" r="1.3"/>
<circle cx="256.1" cy="334.1" r="1.3"/>
<circle cx="258.7" cy="336.8" r="1.3"/>
<circle cx="246.4" cy="330.0" r="1.3"/>
<circle cx="247.2" cy="319.8" r="1.3"/>
<circle cx="258.1" cy="332.6" r="1.3"/>
<circle cx="257.3" cy="330.9" r="1.3"/>
<circle cx="256.7" cy="335.1" r="1.3"/>
<circle cx="258.2" cy="329.2" r="1.3"/>
<circle cx="249.2" cy="329.2" r="1.3"/>
<circle cx="246.2" cy="336.7" r="1.3"/>
<circle cx="252.3" cy="326.4" r="1.3"/>
<circle cx="259.0" cy="327.8" r="1.3"/>
<circle cx="250.5" cy="332.6" r="1.3"/>
<circle cx="246.5" cy="320.4" r="1.3"/>
<circle cx="255.2" cy="332.5" r="1.3"/>
<circle cx="255.9" cy="324.6" r="1.3"/>
<circle cx="254.4" cy="329.0" r="1.3"/>
<circle cx="257.3" cy="320.2" r="1.3"/>
<circle cx="255.9" cy="334.0" r="1.3"/>
<circle cx="251.9" cy="325.5" r="1.3"/>
<circle cx="258.4" cy="328.1" r="1.3"/>
<circle cx="252.4" cy="336.2" r="1.3"/>
<circle cx="247.0" cy="332.4" r="1.3"/>
<circle cx="254.9" cy="333.4" r="1.3"/>
<circle cx="255.9" cy="325.5" r="1.3"/>
<circle cx="249.9" cy="327.7" r="1.3"/>
<circle cx="256.9" cy="336.8" r="1.3"/>
<circle cx="254.2" cy="323.5" r="1.3"/>
<circle cx="258.6" cy="331.3" r="1.3"/>
<circle cx="254.4" cy="322.5" r="1.3"/>
<circle cx="250.1" cy="323.0" r="1.3"/>
<circle cx="255.8" cy="319.8" r="1.3"/>
<circle cx="251.5" cy="335.4" r="1.3"/>
<circle cx="252.8" cy="324.8" r="1.3"/>
<circle cx="257.9" cy="323.4" r="1.3"/>
<circle cx="253.2" cy="321.6" r="1.3"/>
<circle cx="257.1" cy="326.1" r="1.3"/>
<circle cx="249.7" cy="337.2" r="1.3"/>
<circle cx="253.7" cy="337.2" r="1.3"/>
<circle cx="250.7" cy="319.1" r="1.3"/>
<circle cx="249.5" cy="324.6" r="1.3"/>
<circle cx="255.6" cy="331.4" r="1.3"/>
<circle cx="253.9" cy="321.0" r="1.3"/>
<circle cx="255.5" cy="331.2" r="1.3"/>
<circle cx="258.9" cy="325.0" r="1.3"/>
<circle cx="249.3" cy="322.4" r="1.3"/>
<circle cx="256.2" cy="321.1" r="1.3"/>
<circle cx="256.9" cy="322.6" r="1.3"/>
<circle cx="251.2" cy="323.4" r="1.3"/>
<circle cx="256.0" cy="322.2" r="1.3"/>
<circle cx="249.0" cy="319.1" r="1.3"/>
<circle cx="253.6" cy="320.6" r="1.3"/>
<circle cx="252.8" cy="322.9" r="1.3"/>
<circle cx="253.9" cy="332.0" r="1.3"/>
<circle cx="252.5" cy="322.2" r="1.3"/>
<circle cx="249.8" cy="320.3" r="1.3"/>
<circle cx="255.6" cy="322.8" r="1.3"/>
<circle cx="252.9" cy="324.3" r="1.3"/>
<circle cx="254.3" cy="329.7" r="1.3"/>
<circle cx="246.2" cy="327.0" r="1.3"/>
<circle cx="255.0" cy="327.1" r="1.3"/>
<circle cx="251.3" cy="327.3" r="1.3"/>
<circle cx="247.5" cy="325.5" r="1.3"/>
<circle cx="247.0" cy="335.0" r="1.3"/>
<circle cx="247.2" cy="319.8" r="1.3"/>
<circle cx="257.8" cy="325.8" r="1.3"/>
<circle cx="258.2" cy="333.5" r="1.3"/>
<circle cx="254.7" cy="328.6" r="1.3"/>
<circle cx="247.6" cy="326.7" r="1.3"/>
<circle cx="247.6" cy="332.2" r="1.3"/>
<circle cx="248.0" cy="332.9" r="1.3"/>
<circle cx="257.7" cy="328.3" r="1.3"/>
<circle cx="253.2" cy="334.7" r="1.3"/>
<circle cx="248.1" cy="335.5" r="1.3"/>
<circle cx="255.2" cy="326.7" r="1.3"/>
<circle cx="255.7" cy="326.6" r="1.3"/>
<circle cx="249.4" cy="330.0" r="1.3"/>
<circle cx="250.9" cy="320.2" r="1.3"/>
<circle cx="255.2" cy="322.0" r="1.3"/>
<circle cx="254.6" cy="319.6" r="1.3"/>
<circle cx="256.0" cy="337.4" r="1.3"/>
<circle cx="247.2" cy="336.7" r="1.3"/>
<circle cx="257.6" cy="333.5" r="1.3"/>
<circle cx="252.1" cy="326.6" r="1.3"/>
<circle cx="249.1" cy="332.3" r="1.3"/>
<circle cx="257.5" cy="334.0" r="1.3"/>
<circle cx="256.8" cy="328.7" r="1.3"/>
<circle cx="255.0" cy="330.1" r="1.3"/>
<circle cx="254.9" cy="324.4" r="1.3"/>
<circle cx="251.6" cy="331.9" r="1.3"/>
<circle cx="251.7" cy="323.6" r="1.3"/>
<circle cx="246.3" cy="333.6" r="1.3"/>
<circle cx="250.7" cy="324.5" r="1.3"/>
<circle cx="252.7" cy="333.3" r="1.3"/>
<circle cx="257.4" cy="326.8" r="1.3"/>
<circle cx="257.6" cy="330.4" r="1.3"/>
<circle cx="258.4" cy="326.6" r="1.3"/>
<circle cx="250.6" cy="334.6" r="1.3"/>
<circle cx="256.4" cy="334.2" r="1.3"/>
<circle cx="256.7" cy="322.4" r="1.3"/>
<circle cx="247.9" cy="323.9" r="1.3"/>
<circle cx="255.2" cy="335.7" r="1.3"/>
<circle cx="255.9" cy="319.8" r="1.3"/>
<circle cx="250.5" cy="327.6" r="1.3"/>
<circle cx="251.5" cy="333.0" r="1.3"/>
<circle cx="248.3" cy="325.1" r="1.3"/>
<circle cx="258.6" cy="335.1" r="1.3"/>
<circle cx="246.5" cy="327.4" r="1.3"/>
<circle cx="249.6" cy="321.3" r="1.3"/>
<circle cx="250.0" cy="337.0" r="1.3"/>
<circle cx="250.2" cy="329.8" r="1.3"/>
<circle cx="251.7" cy="329.8" r="1.3"/>
<circle cx="249.8" cy="319.6" r="1.3"/>
<circle cx="246.4" cy="333.3" r="1.3"/>
<circle cx="256.7" cy="333.7" r="1.3"/>
<circle cx="248.9" cy="330.2" r="1.3"/>
<circle cx="254.3" cy="322.1" r="1.3"/>
<circle cx="256.3" cy="334.1" r="1.3"/>
<circle cx="258.1" cy="334.2" r="1.3"/>
<circle cx="256.5" cy="321.5" r="1.3"/>
<circle cx="247.7" cy="330.4" r="1.3"/>
<circle cx="248.9" cy="328.9" r="1.3"/>
<circle cx="256.2" cy="322.5" r="1.3"/>
<circle cx="255.9" cy="336.9" r="1.3"/>
<circle cx="249.9" cy="320.3" r="1.3"/>
<circle cx="255.6" cy="323.3" r="1.3"/>
<circle cx="248.4" cy="334.5" r="1.3"/>
<circle cx="252.5" cy="326.1" r="1.3"/>
<circle cx="247.8" cy="321.2" r="1.3"/>
<circle cx="253.5" cy="320.2" r="1.3"/>
<circle cx="257.8" cy="330.0" r="1.3"/>
<circle cx="249.7" cy="321.9" r="1.3"/>
<circle cx="252.6" cy="326.3" r="1.3"/>
<circle cx="255.4" cy="319.3" r="1.3"/>
<circle cx="252.8" cy="328.9" r="1.3"/>
<circle cx="257.2" cy="336.0" r="1.3"/>
<circle cx="251.8" cy="333.4" r="1.3"/>
<circle cx="254.0" cy="322.2" r="1.3"/>
<circle cx="251.7" cy="333.6" r="1.3"/>
<circle cx="247.8" cy="320.7" r="1.3"/>
<circle cx="253.7" cy="320.1" r="1.3"/>
<circle cx="249.6" cy="332.1" r="1.3"/>
<circle cx="248.5" cy="325.6" r="1.3"/>
<circle cx="253.4" cy="321.5" r="1.3"/>
<circle cx="253.7" cy="331.2" r="1.3"/>
<circle cx="247.5" cy="322.8" r="1.3"/>
<circle cx="258.3" cy="331.3" r="1.3"/>
<circle cx="250.2" cy="327.7" r="1.3"/>
<circle cx="251.0" cy="323.6" r="1.3"/>
<circle cx="252.3" cy="328.5" r="1.3"/>
<circle cx="251.0" cy="332.8" r="1.3"/>
<circle cx="258.0" cy="319.9" r="1.3"/>
<circle cx="248.9" cy="330.5" r="1.3"/>
<circle cx="255.4" cy="330.9" r="1.3"/>
<circle cx="251.9" cy="327.0" r="1.3"/>
<circle cx="249.7" cy="330.2" r="1.3"/>
<circle cx="255.4" cy="320.0" r="1.3"/>
<circle cx="247.0" cy="321.2" r="1.3"/>
<circle cx="247.3" cy="325.2" r="1.3"/>
<circle cx="246.9" cy="327.3" r="1.3"/>
<circle cx="249.1" cy="322.4" r="1.3"/>
<circle cx="246.5" cy="327.9" r="1.3"/>
<circle cx="258.5" cy="327.6" r="1.3"/>
<circle cx="251.9" cy="325.4" r="1.3"/>
<circle cx="256.4" cy="324.7" r="1.3"/>
<circle cx="251.5" cy="333.6" r="1.3"/>
<circle cx="256.2" cy="328.1" r="1.3"/>
<circle cx="258.4" cy="331.1" r="1.3"/>
<circle cx="250.1" cy="328.8" r="1.3"/>
<circle cx="258.8" cy="323.0" r="1.3"/>
<circle cx="250.0" cy="324.6" r="1.3"/>
<circle cx="256.7" cy="336.4" r="1.3"/>
<circle cx="255.8" cy="328.6" r="1.3"/>
<circle cx="257.5" cy="323.5" r="1.3"/>
<circle cx="250.9" cy="335.9" r="1.3"/>
<circle cx="251.4" cy="330.4" r="1.3"/>
<circle cx="248.8" cy="324.7" r="1.3"/>
<circle cx="257.3" cy="329.2" r="1.3"/>
<circle cx="247.7" cy="327.0" r="1.3"/>
<circle cx="250.6" cy="336.6" r="1.3"/>
<circle cx="247.4" cy="330.2" r="1.3"/>
<circle cx="246.6" cy="335.0" r="1.3"/>
<circle cx="258.3" cy="327.5" r="1.3"/>
<circle cx="248.6" cy="336.7" r="1.3"/>
<circle cx="249.9" cy="331.4" r="1.3"/>
<circle cx="258.3" cy="334.0" r="1.3"/>
<circle cx="258.0" cy="328.1" r="1.3"/>
<circle cx="256.5" cy="327.1" r="1.3"/>
<circle cx="258.5" cy="319.6" r="1.3"/>
<circle cx="254.1" cy="331.2" r="1.3"/>
<circle cx="250.0" cy="334.4" r="1.3"/>
<circle cx="249.1" cy="326.1" r="1.3"/>
<circle cx="251.5" cy="327.4" r="1.3"/>
<circle cx="258.4" cy="323.9" r="1.3"/>
<circle cx="258.2" cy="323.2" r="1.3"/>
<circle cx="249.4" cy="336.6" r="1.3"/>
<circle cx="255.2" cy="334.7" r="1.3"/>
<circle cx="254.6" cy="335.8" r="1.3"/>
<circle cx="253.6" cy="327.6" r="1.3"/>
<circle cx="252.1" cy="322.4" r="1.3"/>
<circle cx="255.2" cy="333.3" r="1.3"/>
<circle cx="252.5" cy="329.7" r="1.3"/>
<circle cx="251.2" cy="333.2" r="1.3"/>
<circle cx="249.0" cy="326.0" r="1.3"/>
<circle cx="247.0" cy="329.5" r="1.3"/>
<circle cx="252.6" cy="328.9" r="1.3"/>
<circle cx="255.1" cy="322.5" r="1.3"/>
<circle cx="253.1" cy="334.4" r="1.3"/>
<circle cx="248.5" cy="320.1" r="1.3"/>
<circle cx="252.2" cy="328.4" r="1.3"/>
<circle cx="249.0" cy="325.7" r="1.3"/>
<circle cx="251.1" cy="326.9" r="1.3"/>
<circle cx="253.3" cy="320.5" r="1.3"/>
<circle cx="256.1" cy="320.5" r="1.3"/>
<circle cx="257.4" cy="335.7" r="1.3"/>
<circle cx="254.1" cy="332.4" r="1.3"/>
<circle cx="250.6" cy="327.9" r="1.3"/>
<circle cx="252.9" cy="326.7" r="1.3"/>
<circle cx="251.8" cy="335.4" r="1.3"/>
<circle cx="258.8" cy="336.7" r="1.3"/>
<circle cx="258.3" cy="319.1" r="1.3"/>
<circle cx="254.7" cy="333.5" r="1.3"/>
<circle cx="255.2" cy="331.2" r="1.3"/>
<circle cx="250.8" cy="321.7" r="1.3"/>
<circle cx="255.5" cy="337.0" r="1.3"/>
<circle cx="258.3" cy="330.1" r="1.3"/>
<circle cx="250.0" cy="330.2" r="1.3"/>
<circle cx="248.8" cy="329.5" r="1.3"/>
<circle cx="257.0" cy="319.3" r="1.3"/>
<circle cx="257.0" cy="325.5" r="1.3"/>
<circle cx="251.6" cy="328.6" r="1.3"/>
<circle cx="248.1" cy="332.7" r="1.3"/>
<circle cx="246.8" cy="323.0" r="1.3"/>
<circle cx="247.5" cy="334.1" r="1.3"/>
<circle cx="251.7" cy="322.4" r="1.3"/>
<circle cx="247.1" cy="323.4" r="1.3"/>
<circle cx="250.0" cy="329.9" r="1.3"/>
<circle cx="252.0" cy="319.1" r="1.3"/>
<circle cx="255.5" cy="237.9" r="1.3"/>
<circle cx="254.7" cy="255.0" r="1.3"/>
<circle cx="256.5" cy="255.4" r="1.3"/>
<circle cx="255.5" cy="261.8" r="1.3"/>
<circle cx="253.7" cy="270.1" r="1.3"/>
<circle cx="255.5" cy="282.6" r="1.3"/>
<circle cx="253.7" cy="285.4" r="1.3"/>
<circle cx="255.5" cy="284.8" r="1.3"/>
<circle cx="246.1" cy="289.3" r="1.3"/>
<circle cx="249.4" cy="295.7" r="1.3"/>
<circle cx="246.7" cy="297.4" r="1.3"/>
<circle cx="252.7" cy="297.9" r="1.3"/>
<circle cx="247.8" cy="299.0" r="1.3"/>
<circle cx="249.9" cy="300.1" r="1.3"/>
<circle cx="249.4" cy="305.1" r="1.3"/>
<circle cx="256.5" cy="304.5" r="1.3"/>
<circle cx="259.2" cy="307.2" r="1.3"/>
<circle cx="254.9" cy="308.3" r="1.3"/>
<circle cx="246.7" cy="309.9" r="1.3"/>
<circle cx="249.9" cy="308.9" r="1.3"/>
<circle cx="250.5" cy="312.1" r="1.3"/>
<circle cx="258.7" cy="313.2" r="1.3"/>
<circle cx="256.5" cy="311.6" r="1.3"/>
<circle cx="246.7" cy="316.0" r="1.3"/>
<circle cx="251.0" cy="315.4" r="1.3"/>
<circle cx="253.8" cy="316.5" r="1.3"/>
<circle cx="259.2" cy="316.5" r="1.3"/>
<circle cx="256.6" cy="317.3" r="1.3"/>
<circle cx="248.6" cy="317.6" r="1.3"/>
<circle cx="319.6" cy="337.0" r="1.3"/>
<circle cx="315.0" cy="333.3" r="1.3"/>
<circle cx="320.8" cy="325.0" r="1.3"/>
<circle cx="322.7" cy="335.8" r="1.3"/>
<circle cx="316.8" cy="336.9" r="1.3"/>
<circle cx="314.3" cy="328.1" r="1.3"/>
<circle cx="311.8" cy="333.8" r="1.3"/>
<circle cx="319.7" cy="327.4" r="1.3"/>
<circle cx="314.3" cy="326.6" r="1.3"/>
<circle cx="321.7" cy="337.3" r="1.3"/>
<circle cx="321.7" cy="324.6" r="1.3"/>
<circle cx="315.8" cy="334.6" r="1.3"/>
<circle cx="323.6" cy="331.2" r="1.3"/>
<circle cx="312.7" cy="335.6" r="1.3"/>
<circle cx="322.2" cy="326.3" r="1.3"/>
<circle cx="321.7" cy="324.0" r="1.3"/>
<circle cx="318.3" cy="319.5" r="1.3"/>
<circle cx="316.3" cy="327.3" r="1.3"/>
<circle cx="322.0" cy="326.1" r="1.3"/>
<circle cx="322.4" cy="326.8" r="1.3"/>
<circle cx="320.4" cy="336.6" r="1.3"/>
<circle cx="314.4" cy="332.1" r="1.3"/>
<circle cx="312.5" cy="333.1" r="1.3"/>
<circle cx="312.8" cy="332.3" r="1.3"/>
<circle cx="319.5" cy="330.7" r="1.3"/>
<circle cx="316.2" cy="333.6" r="1.3"/>
<circle cx="314.9" cy="320.2" r="1.3"/>
<circle cx="319.7" cy="326.2" r="1.3"/>
<circle cx="313.7" cy="324.0" r="1.3"/>
<circle cx="313.6" cy="330.5" r="1.3"/>
<circle cx="324.0" cy="325.7" r="1.3"/>
<circle cx="318.5" cy="324.8" r="1.3"/>
<circle cx="322.1" cy="323.2" r="1.3"/>
<circle cx="314.4" cy="336.8" r="1.3"/>
<circle cx="315.5" cy="332.5" r="1.3"/>
<circle cx="314.2" cy="320.1" r="1.3"/>
<circle cx="322.5" cy="331.6" r="1.3"/>
<circle cx="319.8" cy="330.2" r="1.3"/>
<circle cx="323.0" cy="329.0" r="1.3"/>
<circle cx="314.8" cy="332.9" r="1.3"/>
<circle cx="318.6" cy="332.6" r="1.3"/>
<circle cx="318.9" cy="320.9" r="1.3"/>
<circle cx="316.5" cy="333.4" r="1.3"/>
<circle cx="324.1" cy="328.1" r="1.3"/>
<circle cx="312.6" cy="336.6" r="1.3"/>
<circle cx="312.9" cy="325.9" r="1.3"/>
<circle cx="321.5" cy="329.7" r="1.3"/>
<circle cx="312.3" cy="330.4" r="1.3"/>
<circle cx="324.1" cy="327.7" r="1.3"/>
<circle cx="323.7" cy="321.6" r="1.3"/>
<circle cx="311.6" cy="324.2" r="1.3"/>
<circle cx="320.1" cy="327.6" r="1.3"/>
<circle cx="314.9" cy="325.6" r="1.3"/>
<circle cx="312.9" cy="329.4" r="1.3"/>
<circle cx="317.2" cy="319.9" r="1.3"/>
<circle cx="322.5" cy="332.6" r="1.3"/>
<circle cx="317.8" cy="334.1" r="1.3"/>
<circle cx="323.0" cy="321.4" r="1.3"/>
<circle cx="315.3" cy="325.7" r="1.3"/>
<circle cx="319.2" cy="334.6" r="1.3"/>
<circle cx="321.1" cy="327.5" r="1.3"/>
<circle cx="321.3" cy="327.7" r="1.3"/>
<circle cx="311.5" cy="331.5" r="1.3"/>
<circle cx="311.7" cy="320.4" r="1.3"/>
<circle cx="322.6" cy="322.1" r="1.3"/>
<circle cx="315.4" cy="336.4" r="1.3"/>
<circle cx="322.6" cy="320.0" r="1.3"/>
<circle cx="312.6" cy="328.5" r="1.3"/>
<circle cx="312.4" cy="323.4" r="1.3"/>
<circle cx="321.1" cy="335.1" r="1.3"/>
<circle cx="317.5" cy="327.3" r="1.3"/>
<circle cx="314.8" cy="321.4" r="1.3"/>
<circle cx="316.8" cy="333.5" r="1.3"/>
<circle cx="318.3" cy="324.0" r="1.3"/>
<circle cx="314.0" cy="331.7" r="1.3"/>
<circle cx="324.0" cy="325.5" r="1.3"/>
<circle cx="317.0" cy="327.9" r="1.3"/>
<circle cx="313.0" cy="333.3" r="1.3"/>
<circle cx="315.8" cy="326.6" r="1.3"/>
<circle cx="314.4" cy="333.4" r="1.3"/>
<circle cx="312.4" cy="325.8" r="1.3"/>
<circle cx="314.4" cy="320.8" r="1.3"/>
<circle cx="322.3" cy="336.1" r="1.3"/>
<circle cx="314.5" cy="325.1" r="1.3"/>
<circle cx="314.2" cy="335.0" r="1.3"/>
<circle cx="323.3" cy="326.9" r="1.3"/>
<circle cx="317.5" cy="323.0" r="1.3"/>
<circle cx="321.7" cy="333.9" r="1.3"/>
<circle cx="312.7" cy="329.5" r="1.3"/>
<circle cx="316.8" cy="328.8" r="1.3"/>
<circle cx="320.7" cy="325.1" r="1.3"/>
<circle cx="323.9" cy="335.6" r="1.3"/>
<circle cx="316.6" cy="331.2" r="1.3"/>
<circle cx="322.4" cy="332.9" r="1.3"/>
<circle cx="313.9" cy="329.2" r="1.3"/>
<circle cx="316.8" cy="332.3" r="1.3"/>
<circle cx="314.6" cy="320.5" r="1.3"/>
<circle cx="317.1" cy="321.6" r="1.3"/>
<circle cx="318.4" cy="336.5" r="1.3"/>
<circle cx="324.1" cy="322.1" r="1.3"/>
<circle cx="323.7" cy="320.4" r="1.3"/>
<circle cx="322.2" cy="334.4" r="1.3"/>
<circle cx="317.6" cy="333.5" r="1.3"/>
<circle cx="316.6" cy="336.3" r="1.3"/>
<circle cx="316.3" cy="319.3" r="1.3"/>
<circle cx="314.8" cy="323.0" r="1.3"/>
<circle cx="317.2" cy="329.7" r="1.3"/>
<circle cx="323.6" cy="319.1" r="1.3"/>
<circle cx="318.5" cy="324.2" r="1.3"/>
<circle cx="313.5" cy="332.0" r="1.3"/>
<circle cx="323.7" cy="326.8" r="1.3"/>
<circle cx="318.3" cy="323.7" r="1.3"/>
<circle cx="312.2" cy="326.7" r="1.3"/>
<circle cx="317.8" cy="321.8" r="1.3"/>
<circle cx="313.5" cy="319.8" r="1.3"/>
<circle cx="312.5" cy="334.0" r="1.3"/>
<circle cx="319.0" cy="325.0" r="1.3"/>
<circle cx="314.5" cy="335.2" r="1.3"/>
<circle cx="322.7" cy="332.9" r="1.3"/>
<circle cx="319.0" cy="326.0" r="1.3"/>
<circle cx="316.8" cy="326.7" r="1.3"/>
<circle cx="318.1" cy="320.2" r="1.3"/>
<circle cx="314.1" cy="324.3" r="1.3"/>
<circle cx="314.5" cy="330.2" r="1.3"/>
<circle cx="320.0" cy="331.9" r="1.3"/>
<circle cx="315.5" cy="323.6" r="1.3"/>
<circle cx="312.4" cy="329.0" r="1.3"/>
<circle cx="324.1" cy="319.1" r="1.3"/>
<circle cx="312.4" cy="333.5" r="1.3"/>
<circle cx="314.8" cy="320.3" r="1.3"/>
<circle cx="322.6" cy="321.3" r="1.3"/>
<circle cx="316.2" cy="334.5" r="1.3"/>
<circle cx="322.0" cy="324.5" r="1.3"/>
<circle cx="319.2" cy="319.3" r="1.3"/>
<circle cx="319.7" cy="337.3" r="1.3"/>
<circle cx="321.8" cy="331.9" r="1.3"/>
<circle cx="319.9" cy="320.2" r="1.3"/>
<circle cx="313.2" cy="335.3" r="1.3"/>
<circle cx="312.8" cy="327.3" r="1.3"/>
<circle cx="314.9" cy="326.3" r="1.3"/>
<circle cx="320.5" cy="333.7" r="1.3"/>
<circle cx="319.5" cy="332.6" r="1.3"/>
<circle cx="317.7" cy="320.8" r="1.3"/>
<circle cx="322.2" cy="335.7" r="1.3"/>
<circle cx="316.8" cy="332.3" r="1.3"/>
<circle cx="311.5" cy="323.3" r="1.3"/>
<circle cx="319.5" cy="332.6" r="1.3"/>
<circle cx="320.8" cy="327.3" r="1.3"/>
<circle cx="316.9" cy="337.2" r="1.3"/>
<circle cx="312.4" cy="321.2" r="1.3"/>
<circle cx="322.9" cy="327.4" r="1.3"/>
<circle cx="322.0" cy="326.7" r="1.3"/>
<circle cx="313.4" cy="335.1" r="1.3"/>
<circle cx="315.4" cy="320.9" r="1.3"/>
<circle cx="321.5" cy="321.6" r="1.3"/>
<circle cx="322.8" cy="333.6" r="1.3"/>
<circle cx="314.6" cy="335.5" r="1.3"/>
<circle cx="321.3" cy="321.2" r="1.3"/>
<circle cx="316.6" cy="326.0" r="1.3"/>
<circle cx="313.4" cy="320.3" r="1.3"/>
<circle cx="322.4" cy="316.0" r="1.3"/>
<circle cx="321.7" cy="316.3" r="1.3"/>
<circle cx="311.8" cy="316.7" r="1.3"/>
<circle cx="315.7" cy="316.1" r="1.3"/>
<circle cx="321.6" cy="316.3" r="1.3"/>
<circle cx="321.7" cy="318.2" r="1.3"/>
<circle cx="321.4" cy="318.7" r="1.3"/>
<circle cx="315.5" cy="308.3" r="1.3"/>
<circle cx="314.9" cy="310.5" r="1.3"/>
<circle cx="323.9" cy="312.4" r="1.3"/>
</g>
<line x1="242.0" x2="262.6" y1="328.81" y2="328.81" stroke="#000" stroke-width="1.2"/>
<line x1="248.3" x2="256.3" y1="328.81" y2="328.81" stroke="#000" stroke-width="1.9"/>
<text transform="translate(264.80 331.26) scale(0.8929 1)" font-size="8.40" fill="#111" stroke="#111" stroke-width="0.18">2.91</text>
<line x1="307.8" x2="327.8" y1="330.50" y2="330.50" stroke="#000" stroke-width="1.2"/>
<line x1="312.6" x2="323.0" y1="330.50" y2="330.50" stroke="#000" stroke-width="1.9"/>
<text transform="translate(329.90 332.94) scale(0.8929 1)" font-size="8.40" fill="#111" stroke="#111" stroke-width="0.18">2.35</text>
<rect x="213.2" y="210.3" width="143.40000000000003" height="134.5" fill="none" stroke="#2e2e2e" stroke-width="1"/>
<line x1="210.0" x2="213.2" y1="339.00" y2="339.00" stroke="#2e2e2e" stroke-width="1"/>
<text transform="translate(208.30 342.10) scale(0.8929 1)" font-size="8.62" fill="#666" stroke="#666" stroke-width="0.08" text-anchor="end">0</text>
<line x1="210.0" x2="213.2" y1="304.00" y2="304.00" stroke="#2e2e2e" stroke-width="1"/>
<text transform="translate(208.30 307.10) scale(0.8929 1)" font-size="8.62" fill="#666" stroke="#666" stroke-width="0.08" text-anchor="end">10</text>
<line x1="210.0" x2="213.2" y1="269.00" y2="269.00" stroke="#2e2e2e" stroke-width="1"/>
<text transform="translate(208.30 272.10) scale(0.8929 1)" font-size="8.62" fill="#666" stroke="#666" stroke-width="0.08" text-anchor="end">20</text>
<line x1="210.0" x2="213.2" y1="234.00" y2="234.00" stroke="#2e2e2e" stroke-width="1"/>
<text transform="translate(208.30 237.10) scale(0.8929 1)" font-size="8.62" fill="#666" stroke="#666" stroke-width="0.08" text-anchor="end">30</text>
<line x1="252.3" x2="252.3" y1="344.8" y2="348.0" stroke="#2e2e2e" stroke-width="1"/>
<text transform="translate(252.30 355.80) scale(0.8929 1)" font-size="8.62" fill="#666" stroke="#666" stroke-width="0.08" text-anchor="middle">AA+TT</text>
<text transform="translate(248.40 365.90) scale(0.8929 1)" font-size="8.62" fill="#1a1a1a" stroke="#1a1a1a" stroke-width="0.18" text-anchor="middle">n= 507</text>
<line x1="317.7" x2="317.7" y1="344.8" y2="348.0" stroke="#2e2e2e" stroke-width="1"/>
<text transform="translate(317.70 355.80) scale(0.8929 1)" font-size="8.62" fill="#666" stroke="#666" stroke-width="0.08" text-anchor="middle">AT</text>
<text transform="translate(315.00 365.90) scale(0.8929 1)" font-size="8.62" fill="#1a1a1a" stroke="#1a1a1a" stroke-width="0.18" text-anchor="middle">n= 174</text>
<text transform="translate(234.15 224.30) scale(0.8929 1)" font-size="9.02" fill="#111" stroke="#111" stroke-width="0.18"><tspan font-style="italic">p</tspan>-value = 0.01, <tspan font-style="italic">p</tspan>-value* = 0.06</text>
<text transform="translate(194.2 278.9) rotate(-90)" font-size="10.6" fill="#000" stroke="#000" stroke-width="0.18" text-anchor="middle">IL−10 (pg/ml)</text>
</g>
<g>
<text x="125.4" y="380.6" font-size="12.5" fill="#000" stroke="#000" stroke-width="0.18">AA vs TT</text>
<g fill="#b6b6b6" fill-opacity="0.88" stroke="#b6b6b6" stroke-opacity="0.88" stroke-width="0.6">
<circle cx="160.5" cy="505.1" r="1.05"/>
<circle cx="159.4" cy="497.7" r="1.05"/>
<circle cx="160.3" cy="504.0" r="1.05"/>
<circle cx="169.6" cy="507.6" r="1.05"/>
<circle cx="170.2" cy="499.8" r="1.05"/>
<circle cx="164.5" cy="502.2" r="1.05"/>
<circle cx="165.1" cy="508.4" r="1.05"/>
<circle cx="170.6" cy="507.4" r="1.05"/>
<circle cx="170.4" cy="497.0" r="1.05"/>
<circle cx="157.6" cy="510.8" r="1.05"/>
<circle cx="163.6" cy="497.9" r="1.05"/>
<circle cx="159.6" cy="502.5" r="1.05"/>
<circle cx="162.1" cy="498.5" r="1.05"/>
<circle cx="169.6" cy="499.1" r="1.05"/>
<circle cx="159.8" cy="499.1" r="1.05"/>
<circle cx="163.1" cy="497.3" r="1.05"/>
<circle cx="163.5" cy="495.7" r="1.05"/>
<circle cx="170.4" cy="497.6" r="1.05"/>
<circle cx="168.3" cy="497.8" r="1.05"/>
<circle cx="165.1" cy="512.8" r="1.05"/>
<circle cx="170.4" cy="506.0" r="1.05"/>
<circle cx="157.4" cy="506.7" r="1.05"/>
<circle cx="162.8" cy="512.1" r="1.05"/>
<circle cx="170.1" cy="514.2" r="1.05"/>
<circle cx="169.3" cy="504.0" r="1.05"/>
<circle cx="159.6" cy="508.5" r="1.05"/>
<circle cx="163.2" cy="514.1" r="1.05"/>
<circle cx="167.4" cy="501.7" r="1.05"/>
<circle cx="170.4" cy="497.5" r="1.05"/>
<circle cx="167.7" cy="493.6" r="1.05"/>
<circle cx="169.7" cy="501.8" r="1.05"/>
<circle cx="164.4" cy="504.6" r="1.05"/>
<circle cx="168.1" cy="495.3" r="1.05"/>
<circle cx="168.3" cy="497.3" r="1.05"/>
<circle cx="157.6" cy="507.0" r="1.05"/>
<circle cx="158.4" cy="503.2" r="1.05"/>
<circle cx="165.0" cy="503.8" r="1.05"/>
<circle cx="168.7" cy="511.6" r="1.05"/>
<circle cx="167.0" cy="503.2" r="1.05"/>
<circle cx="160.1" cy="494.1" r="1.05"/>
<circle cx="157.9" cy="506.0" r="1.05"/>
<circle cx="164.4" cy="503.0" r="1.05"/>
<circle cx="170.4" cy="504.0" r="1.05"/>
<circle cx="169.1" cy="510.0" r="1.05"/>
<circle cx="163.7" cy="513.4" r="1.05"/>
<circle cx="165.8" cy="507.0" r="1.05"/>
<circle cx="167.7" cy="514.2" r="1.05"/>
<circle cx="163.4" cy="494.5" r="1.05"/>
<circle cx="157.4" cy="501.5" r="1.05"/>
<circle cx="166.3" cy="499.9" r="1.05"/>
<circle cx="164.7" cy="505.2" r="1.05"/>
<circle cx="170.1" cy="510.2" r="1.05"/>
<circle cx="166.6" cy="501.3" r="1.05"/>
<circle cx="167.0" cy="505.7" r="1.05"/>
<circle cx="157.4" cy="498.8" r="1.05"/>
<circle cx="160.9" cy="498.6" r="1.05"/>
<circle cx="170.4" cy="498.8" r="1.05"/>
<circle cx="162.6" cy="496.9" r="1.05"/>
<circle cx="162.4" cy="509.4" r="1.05"/>
<circle cx="164.9" cy="501.6" r="1.05"/>
<circle cx="166.4" cy="504.0" r="1.05"/>
<circle cx="162.7" cy="499.5" r="1.05"/>
<circle cx="161.5" cy="502.7" r="1.05"/>
<circle cx="157.3" cy="513.8" r="1.05"/>
<circle cx="168.8" cy="511.8" r="1.05"/>
<circle cx="162.7" cy="515.6" r="1.05"/>
<circle cx="167.5" cy="509.2" r="1.05"/>
<circle cx="157.9" cy="510.4" r="1.05"/>
<circle cx="169.7" cy="499.2" r="1.05"/>
<circle cx="157.2" cy="494.6" r="1.05"/>
<circle cx="158.2" cy="505.6" r="1.05"/>
<circle cx="164.4" cy="498.6" r="1.05"/>
<circle cx="159.1" cy="497.6" r="1.05"/>
<circle cx="160.9" cy="499.6" r="1.05"/>
<circle cx="169.6" cy="503.1" r="1.05"/>
<circle cx="157.2" cy="501.3" r="1.05"/>
<circle cx="163.0" cy="499.8" r="1.05"/>
<circle cx="167.7" cy="514.3" r="1.05"/>
<circle cx="164.8" cy="501.9" r="1.05"/>
<circle cx="169.6" cy="502.5" r="1.05"/>
<circle cx="165.4" cy="498.9" r="1.05"/>
<circle cx="159.3" cy="496.8" r="1.05"/>
<circle cx="165.0" cy="502.0" r="1.05"/>
<circle cx="159.3" cy="504.6" r="1.05"/>
<circle cx="162.7" cy="512.0" r="1.05"/>
<circle cx="169.8" cy="497.1" r="1.05"/>
<circle cx="163.3" cy="515.1" r="1.05"/>
<circle cx="170.4" cy="514.1" r="1.05"/>
<circle cx="164.0" cy="503.7" r="1.05"/>
<circle cx="168.7" cy="501.6" r="1.05"/>
<circle cx="165.3" cy="504.9" r="1.05"/>
<circle cx="170.3" cy="497.7" r="1.05"/>
<circle cx="162.0" cy="498.3" r="1.05"/>
<circle cx="169.9" cy="505.5" r="1.05"/>
<circle cx="158.3" cy="515.3" r="1.05"/>
<circle cx="170.2" cy="512.0" r="1.05"/>
<circle cx="168.0" cy="512.3" r="1.05"/>
<circle cx="160.2" cy="513.1" r="1.05"/>
<circle cx="168.1" cy="514.7" r="1.05"/>
<circle cx="163.5" cy="498.0" r="1.05"/>
<circle cx="164.3" cy="516.6" r="1.05"/>
<circle cx="157.4" cy="497.5" r="1.05"/>
<circle cx="161.2" cy="514.9" r="1.05"/>
<circle cx="164.2" cy="498.6" r="1.05"/>
<circle cx="161.3" cy="513.7" r="1.05"/>
<circle cx="159.7" cy="505.8" r="1.05"/>
<circle cx="167.6" cy="514.9" r="1.05"/>
<circle cx="167.4" cy="501.0" r="1.05"/>
<circle cx="164.7" cy="507.9" r="1.05"/>
<circle cx="157.6" cy="505.1" r="1.05"/>
<circle cx="162.7" cy="501.0" r="1.05"/>
<circle cx="158.0" cy="513.0" r="1.05"/>
<circle cx="157.5" cy="505.5" r="1.05"/>
<circle cx="158.0" cy="504.4" r="1.05"/>
<circle cx="163.1" cy="509.1" r="1.05"/>
<circle cx="159.7" cy="495.4" r="1.05"/>
<circle cx="163.6" cy="514.4" r="1.05"/>
<circle cx="164.9" cy="499.1" r="1.05"/>
<circle cx="163.7" cy="496.1" r="1.05"/>
<circle cx="168.4" cy="501.0" r="1.05"/>
<circle cx="157.6" cy="507.5" r="1.05"/>
<circle cx="164.0" cy="512.9" r="1.05"/>
<circle cx="163.9" cy="501.3" r="1.05"/>
<circle cx="167.3" cy="499.2" r="1.05"/>
<circle cx="167.2" cy="509.8" r="1.05"/>
<circle cx="165.4" cy="505.2" r="1.05"/>
<circle cx="167.4" cy="514.0" r="1.05"/>
<circle cx="159.6" cy="500.1" r="1.05"/>
<circle cx="166.9" cy="511.5" r="1.05"/>
<circle cx="167.5" cy="498.8" r="1.05"/>
<circle cx="165.9" cy="506.1" r="1.05"/>
<circle cx="158.0" cy="511.5" r="1.05"/>
<circle cx="167.5" cy="495.1" r="1.05"/>
<circle cx="159.4" cy="516.0" r="1.05"/>
<circle cx="161.9" cy="494.9" r="1.05"/>
<circle cx="160.1" cy="495.1" r="1.05"/>
<circle cx="167.7" cy="497.3" r="1.05"/>
<circle cx="170.5" cy="501.1" r="1.05"/>
<circle cx="159.8" cy="506.7" r="1.05"/>
<circle cx="162.5" cy="501.4" r="1.05"/>
<circle cx="161.9" cy="499.8" r="1.05"/>
<circle cx="157.6" cy="511.6" r="1.05"/>
<circle cx="160.2" cy="512.9" r="1.05"/>
<circle cx="167.2" cy="496.4" r="1.05"/>
<circle cx="158.5" cy="505.7" r="1.05"/>
<circle cx="157.3" cy="511.1" r="1.05"/>
<circle cx="159.1" cy="500.7" r="1.05"/>
<circle cx="168.4" cy="497.2" r="1.05"/>
<circle cx="160.9" cy="507.3" r="1.05"/>
<circle cx="160.3" cy="501.4" r="1.05"/>
<circle cx="160.3" cy="499.0" r="1.05"/>
<circle cx="163.5" cy="504.0" r="1.05"/>
<circle cx="168.9" cy="495.3" r="1.05"/>
<circle cx="160.8" cy="499.9" r="1.05"/>
<circle cx="160.9" cy="516.6" r="1.05"/>
<circle cx="168.6" cy="512.4" r="1.05"/>
<circle cx="161.0" cy="500.1" r="1.05"/>
<circle cx="168.6" cy="507.8" r="1.05"/>
<circle cx="166.8" cy="507.6" r="1.05"/>
<circle cx="157.4" cy="504.0" r="1.05"/>
<circle cx="159.5" cy="511.9" r="1.05"/>
<circle cx="162.7" cy="501.8" r="1.05"/>
<circle cx="160.1" cy="511.7" r="1.05"/>
<circle cx="164.8" cy="510.5" r="1.05"/>
<circle cx="164.7" cy="501.1" r="1.05"/>
<circle cx="161.3" cy="495.9" r="1.05"/>
<circle cx="170.2" cy="515.9" r="1.05"/>
<circle cx="158.1" cy="514.3" r="1.05"/>
<circle cx="163.8" cy="509.8" r="1.05"/>
<circle cx="167.0" cy="493.9" r="1.05"/>
<circle cx="163.3" cy="510.4" r="1.05"/>
<circle cx="160.2" cy="495.6" r="1.05"/>
<circle cx="168.1" cy="496.4" r="1.05"/>
<circle cx="170.6" cy="506.3" r="1.05"/>
<circle cx="167.2" cy="509.0" r="1.05"/>
<circle cx="159.1" cy="500.7" r="1.05"/>
<circle cx="162.2" cy="504.3" r="1.05"/>
<circle cx="164.8" cy="511.2" r="1.05"/>
<circle cx="157.5" cy="499.5" r="1.05"/>
<circle cx="167.4" cy="499.0" r="1.05"/>
<circle cx="161.6" cy="509.0" r="1.05"/>
<circle cx="165.6" cy="508.2" r="1.05"/>
<circle cx="167.2" cy="504.7" r="1.05"/>
<circle cx="164.3" cy="497.0" r="1.05"/>
<circle cx="158.8" cy="511.9" r="1.05"/>
<circle cx="164.2" cy="497.0" r="1.05"/>
<circle cx="169.5" cy="496.4" r="1.05"/>
<circle cx="159.8" cy="509.5" r="1.05"/>
<circle cx="160.5" cy="511.5" r="1.05"/>
<circle cx="159.6" cy="513.3" r="1.05"/>
<circle cx="168.1" cy="504.7" r="1.05"/>
<circle cx="170.2" cy="502.3" r="1.05"/>
<circle cx="167.4" cy="495.1" r="1.05"/>
<circle cx="164.5" cy="511.5" r="1.05"/>
<circle cx="162.7" cy="506.5" r="1.05"/>
<circle cx="159.4" cy="504.0" r="1.05"/>
<circle cx="167.6" cy="509.2" r="1.05"/>
<circle cx="157.5" cy="514.5" r="1.05"/>
<circle cx="162.1" cy="512.2" r="1.05"/>
<circle cx="163.5" cy="494.3" r="1.05"/>
<circle cx="160.3" cy="508.6" r="1.05"/>
<circle cx="165.3" cy="513.0" r="1.05"/>
<circle cx="168.9" cy="494.0" r="1.05"/>
<circle cx="157.4" cy="507.7" r="1.05"/>
<circle cx="168.0" cy="516.4" r="1.05"/>
<circle cx="164.7" cy="498.0" r="1.05"/>
<circle cx="170.0" cy="512.4" r="1.05"/>
<circle cx="169.6" cy="502.9" r="1.05"/>
<circle cx="167.1" cy="511.5" r="1.05"/>
<circle cx="157.9" cy="505.7" r="1.05"/>
<circle cx="170.4" cy="510.9" r="1.05"/>
<circle cx="170.4" cy="494.0" r="1.05"/>
<circle cx="163.5" cy="506.2" r="1.05"/>
<circle cx="169.8" cy="516.2" r="1.05"/>
<circle cx="165.0" cy="512.8" r="1.05"/>
<circle cx="167.2" cy="505.4" r="1.05"/>
<circle cx="165.4" cy="507.8" r="1.05"/>
<circle cx="168.9" cy="497.6" r="1.05"/>
<circle cx="157.5" cy="503.7" r="1.05"/>
<circle cx="160.1" cy="495.1" r="1.05"/>
<circle cx="169.4" cy="498.4" r="1.05"/>
<circle cx="166.2" cy="495.9" r="1.05"/>
<circle cx="160.5" cy="510.0" r="1.05"/>
<circle cx="169.4" cy="501.7" r="1.05"/>
<circle cx="161.1" cy="497.1" r="1.05"/>
<circle cx="166.1" cy="516.5" r="1.05"/>
<circle cx="169.8" cy="499.6" r="1.05"/>
<circle cx="167.0" cy="514.9" r="1.05"/>
<circle cx="157.4" cy="515.0" r="1.05"/>
<circle cx="167.4" cy="515.9" r="1.05"/>
<circle cx="161.1" cy="509.2" r="1.05"/>
<circle cx="162.7" cy="510.3" r="1.05"/>
<circle cx="158.5" cy="504.8" r="1.05"/>
<circle cx="158.1" cy="507.5" r="1.05"/>
<circle cx="161.0" cy="514.8" r="1.05"/>
<circle cx="158.4" cy="499.8" r="1.05"/>
<circle cx="158.2" cy="505.2" r="1.05"/>
<circle cx="165.5" cy="495.7" r="1.05"/>
<circle cx="165.4" cy="498.6" r="1.05"/>
<circle cx="168.9" cy="514.1" r="1.05"/>
<circle cx="157.9" cy="497.9" r="1.05"/>
<circle cx="160.8" cy="505.8" r="1.05"/>
<circle cx="161.5" cy="513.2" r="1.05"/>
<circle cx="162.5" cy="505.9" r="1.05"/>
<circle cx="168.2" cy="511.6" r="1.05"/>
<circle cx="158.6" cy="502.8" r="1.05"/>
<circle cx="168.8" cy="507.1" r="1.05"/>
<circle cx="161.1" cy="496.4" r="1.05"/>
<circle cx="168.4" cy="516.1" r="1.05"/>
<circle cx="158.7" cy="503.1" r="1.05"/>
<circle cx="162.6" cy="505.4" r="1.05"/>
<circle cx="162.7" cy="514.1" r="1.05"/>
<circle cx="167.4" cy="496.2" r="1.05"/>
<circle cx="165.4" cy="509.7" r="1.05"/>
<circle cx="166.6" cy="510.1" r="1.05"/>
<circle cx="158.7" cy="502.9" r="1.05"/>
<circle cx="164.9" cy="496.0" r="1.05"/>
<circle cx="162.8" cy="513.9" r="1.05"/>
<circle cx="164.8" cy="515.5" r="1.05"/>
<circle cx="160.9" cy="494.2" r="1.05"/>
<circle cx="162.2" cy="508.4" r="1.05"/>
<circle cx="170.1" cy="514.7" r="1.05"/>
<circle cx="167.5" cy="499.8" r="1.05"/>
<circle cx="169.5" cy="513.8" r="1.05"/>
<circle cx="163.2" cy="508.1" r="1.05"/>
<circle cx="157.4" cy="512.9" r="1.05"/>
<circle cx="159.1" cy="515.2" r="1.05"/>
<circle cx="166.6" cy="500.3" r="1.05"/>
<circle cx="162.4" cy="497.7" r="1.05"/>
<circle cx="168.4" cy="497.3" r="1.05"/>
<circle cx="159.9" cy="508.5" r="1.05"/>
<circle cx="159.2" cy="515.8" r="1.05"/>
<circle cx="170.4" cy="503.7" r="1.05"/>
<circle cx="166.1" cy="504.1" r="1.05"/>
<circle cx="160.9" cy="516.5" r="1.05"/>
<circle cx="161.1" cy="507.1" r="1.05"/>
<circle cx="158.0" cy="510.9" r="1.05"/>
<circle cx="169.2" cy="515.2" r="1.05"/>
<circle cx="165.2" cy="507.1" r="1.05"/>
<circle cx="166.7" cy="502.9" r="1.05"/>
<circle cx="162.6" cy="493.6" r="1.05"/>
<circle cx="167.6" cy="506.8" r="1.05"/>
<circle cx="168.6" cy="498.7" r="1.05"/>
<circle cx="170.4" cy="506.7" r="1.05"/>
<circle cx="159.9" cy="505.2" r="1.05"/>
<circle cx="166.0" cy="506.5" r="1.05"/>
<circle cx="158.5" cy="505.2" r="1.05"/>
<circle cx="157.9" cy="515.6" r="1.05"/>
<circle cx="166.4" cy="511.0" r="1.05"/>
<circle cx="169.4" cy="495.9" r="1.05"/>
<circle cx="167.3" cy="514.1" r="1.05"/>
<circle cx="160.3" cy="505.2" r="1.05"/>
<circle cx="164.8" cy="506.1" r="1.05"/>
<circle cx="157.2" cy="512.8" r="1.05"/>
<circle cx="169.6" cy="507.3" r="1.05"/>
<circle cx="164.1" cy="495.4" r="1.05"/>
<circle cx="160.3" cy="507.3" r="1.05"/>
<circle cx="165.9" cy="510.9" r="1.05"/>
<circle cx="162.9" cy="499.0" r="1.05"/>
<circle cx="167.9" cy="499.7" r="1.05"/>
<circle cx="167.9" cy="516.5" r="1.05"/>
<circle cx="158.2" cy="503.0" r="1.05"/>
<circle cx="167.1" cy="515.6" r="1.05"/>
<circle cx="162.7" cy="503.8" r="1.05"/>
<circle cx="161.9" cy="516.3" r="1.05"/>
<circle cx="164.5" cy="503.4" r="1.05"/>
<circle cx="164.8" cy="512.7" r="1.05"/>
<circle cx="161.4" cy="516.0" r="1.05"/>
<circle cx="164.4" cy="511.9" r="1.05"/>
<circle cx="163.9" cy="495.9" r="1.05"/>
<circle cx="163.5" cy="510.6" r="1.05"/>
<circle cx="166.4" cy="499.3" r="1.05"/>
<circle cx="160.8" cy="504.3" r="1.05"/>
<circle cx="167.4" cy="513.1" r="1.05"/>
<circle cx="166.7" cy="509.9" r="1.05"/>
<circle cx="162.7" cy="503.6" r="1.05"/>
<circle cx="170.4" cy="511.3" r="1.05"/>
<circle cx="160.9" cy="493.7" r="1.05"/>
<circle cx="158.3" cy="511.3" r="1.05"/>
<circle cx="166.3" cy="505.7" r="1.05"/>
<circle cx="167.8" cy="512.5" r="1.05"/>
<circle cx="168.0" cy="510.0" r="1.05"/>
<circle cx="159.3" cy="503.8" r="1.05"/>
<circle cx="160.6" cy="508.0" r="1.05"/>
<circle cx="169.0" cy="497.3" r="1.05"/>
<circle cx="166.3" cy="503.7" r="1.05"/>
<circle cx="157.4" cy="508.8" r="1.05"/>
<circle cx="167.5" cy="498.9" r="1.05"/>
<circle cx="157.3" cy="506.5" r="1.05"/>
<circle cx="166.5" cy="503.2" r="1.05"/>
<circle cx="163.1" cy="509.9" r="1.05"/>
<circle cx="163.7" cy="516.1" r="1.05"/>
<circle cx="169.4" cy="515.6" r="1.05"/>
<circle cx="159.7" cy="494.6" r="1.05"/>
<circle cx="164.9" cy="513.8" r="1.05"/>
<circle cx="160.4" cy="506.4" r="1.05"/>
<circle cx="158.6" cy="516.7" r="1.05"/>
<circle cx="157.9" cy="515.4" r="1.05"/>
<circle cx="160.7" cy="502.8" r="1.05"/>
<circle cx="159.7" cy="505.4" r="1.05"/>
<circle cx="161.9" cy="505.9" r="1.05"/>
<circle cx="163.7" cy="510.3" r="1.05"/>
<circle cx="165.6" cy="495.0" r="1.05"/>
<circle cx="165.4" cy="494.9" r="1.05"/>
<circle cx="164.0" cy="504.4" r="1.05"/>
<circle cx="162.3" cy="506.7" r="1.05"/>
<circle cx="163.5" cy="493.7" r="1.05"/>
<circle cx="163.7" cy="501.4" r="1.05"/>
<circle cx="167.5" cy="514.7" r="1.05"/>
<circle cx="157.6" cy="507.2" r="1.05"/>
<circle cx="159.9" cy="506.6" r="1.05"/>
<circle cx="160.1" cy="503.9" r="1.05"/>
<circle cx="163.0" cy="511.7" r="1.05"/>
<circle cx="167.2" cy="494.4" r="1.05"/>
<circle cx="161.0" cy="504.6" r="1.05"/>
<circle cx="162.0" cy="495.5" r="1.05"/>
<circle cx="160.3" cy="516.4" r="1.05"/>
<circle cx="169.3" cy="499.6" r="1.05"/>
<circle cx="163.5" cy="515.8" r="1.05"/>
<circle cx="161.6" cy="505.7" r="1.05"/>
<circle cx="164.8" cy="512.1" r="1.05"/>
<circle cx="161.7" cy="513.7" r="1.05"/>
<circle cx="159.7" cy="512.6" r="1.05"/>
<circle cx="162.7" cy="503.7" r="1.05"/>
<circle cx="168.0" cy="513.3" r="1.05"/>
<circle cx="169.0" cy="511.2" r="1.05"/>
<circle cx="157.7" cy="502.2" r="1.05"/>
<circle cx="169.3" cy="494.9" r="1.05"/>
<circle cx="163.8" cy="494.4" r="1.05"/>
<circle cx="169.4" cy="505.8" r="1.05"/>
<circle cx="166.0" cy="499.6" r="1.05"/>
<circle cx="168.1" cy="515.4" r="1.05"/>
<circle cx="162.6" cy="516.4" r="1.05"/>
<circle cx="157.8" cy="506.3" r="1.05"/>
<circle cx="158.9" cy="516.0" r="1.05"/>
<circle cx="170.4" cy="514.3" r="1.05"/>
<circle cx="168.1" cy="506.0" r="1.05"/>
<circle cx="163.0" cy="504.4" r="1.05"/>
<circle cx="165.7" cy="513.6" r="1.05"/>
<circle cx="169.7" cy="495.2" r="1.05"/>
<circle cx="167.6" cy="506.6" r="1.05"/>
<circle cx="165.3" cy="515.9" r="1.05"/>
<circle cx="162.4" cy="501.6" r="1.05"/>
<circle cx="165.6" cy="497.0" r="1.05"/>
<circle cx="159.8" cy="494.7" r="1.05"/>
<circle cx="157.8" cy="513.8" r="1.05"/>
<circle cx="168.1" cy="516.5" r="1.05"/>
<circle cx="170.5" cy="501.0" r="1.05"/>
<circle cx="160.8" cy="506.7" r="1.05"/>
<circle cx="158.5" cy="505.7" r="1.05"/>
<circle cx="159.1" cy="499.2" r="1.05"/>
<circle cx="169.9" cy="504.2" r="1.05"/>
<circle cx="162.8" cy="498.0" r="1.05"/>
<circle cx="169.5" cy="509.8" r="1.05"/>
<circle cx="166.6" cy="494.6" r="1.05"/>
<circle cx="166.0" cy="514.1" r="1.05"/>
<circle cx="168.9" cy="513.4" r="1.05"/>
<circle cx="162.1" cy="510.7" r="1.05"/>
<circle cx="162.2" cy="498.3" r="1.05"/>
<circle cx="159.4" cy="506.6" r="1.05"/>
<circle cx="162.9" cy="497.5" r="1.05"/>
<circle cx="163.0" cy="507.5" r="1.05"/>
<circle cx="160.2" cy="503.6" r="1.05"/>
<circle cx="167.6" cy="510.7" r="1.05"/>
<circle cx="166.9" cy="511.5" r="1.05"/>
<circle cx="159.6" cy="515.0" r="1.05"/>
<circle cx="160.2" cy="508.1" r="1.05"/>
<circle cx="161.0" cy="506.1" r="1.05"/>
<circle cx="166.0" cy="500.7" r="1.05"/>
<circle cx="157.3" cy="512.0" r="1.05"/>
<circle cx="165.9" cy="495.3" r="1.05"/>
<circle cx="158.9" cy="503.6" r="1.05"/>
<circle cx="159.2" cy="494.5" r="1.05"/>
<circle cx="170.4" cy="499.3" r="1.05"/>
<circle cx="164.7" cy="498.2" r="1.05"/>
<circle cx="168.5" cy="509.6" r="1.05"/>
<circle cx="169.3" cy="504.8" r="1.05"/>
<circle cx="159.4" cy="514.8" r="1.05"/>
<circle cx="163.5" cy="516.7" r="1.05"/>
<circle cx="167.4" cy="509.7" r="1.05"/>
<circle cx="168.6" cy="497.8" r="1.05"/>
<circle cx="163.1" cy="494.2" r="1.05"/>
<circle cx="162.5" cy="510.9" r="1.05"/>
<circle cx="166.1" cy="495.1" r="1.05"/>
<circle cx="168.3" cy="508.4" r="1.05"/>
<circle cx="159.8" cy="505.0" r="1.05"/>
<circle cx="170.3" cy="508.6" r="1.05"/>
<circle cx="160.9" cy="494.0" r="1.05"/>
<circle cx="168.2" cy="506.0" r="1.05"/>
<circle cx="165.3" cy="514.5" r="1.05"/>
<circle cx="165.2" cy="504.6" r="1.05"/>
<circle cx="160.1" cy="511.3" r="1.05"/>
<circle cx="159.5" cy="514.7" r="1.05"/>
<circle cx="164.3" cy="508.8" r="1.05"/>
<circle cx="164.7" cy="497.7" r="1.05"/>
<circle cx="158.5" cy="498.9" r="1.05"/>
<circle cx="161.2" cy="497.6" r="1.05"/>
<circle cx="158.8" cy="494.7" r="1.05"/>
<circle cx="164.3" cy="501.0" r="1.05"/>
<circle cx="163.4" cy="505.9" r="1.05"/>
<circle cx="157.3" cy="513.3" r="1.05"/>
<circle cx="169.1" cy="505.2" r="1.05"/>
<circle cx="160.6" cy="496.6" r="1.05"/>
<circle cx="168.9" cy="498.2" r="1.05"/>
<circle cx="162.2" cy="509.1" r="1.05"/>
<circle cx="166.7" cy="508.0" r="1.05"/>
<circle cx="166.4" cy="513.6" r="1.05"/>
<circle cx="159.6" cy="508.5" r="1.05"/>
<circle cx="169.2" cy="510.5" r="1.05"/>
<circle cx="164.2" cy="515.1" r="1.05"/>
<circle cx="165.2" cy="492.8" r="1.05"/>
<circle cx="163.2" cy="490.8" r="1.05"/>
<circle cx="167.7" cy="489.6" r="1.05"/>
<circle cx="163.8" cy="488.5" r="1.05"/>
<circle cx="162.6" cy="491.4" r="1.05"/>
<circle cx="168.7" cy="489.5" r="1.05"/>
<circle cx="159.1" cy="491.7" r="1.05"/>
<circle cx="169.0" cy="488.5" r="1.05"/>
<circle cx="162.5" cy="493.4" r="1.05"/>
<circle cx="168.6" cy="491.9" r="1.05"/>
<circle cx="163.7" cy="489.5" r="1.05"/>
<circle cx="160.4" cy="489.1" r="1.05"/>
<circle cx="161.6" cy="491.5" r="1.05"/>
<circle cx="159.8" cy="490.4" r="1.05"/>
<circle cx="159.5" cy="488.4" r="1.05"/>
<circle cx="166.9" cy="493.3" r="1.05"/>
<circle cx="157.5" cy="487.3" r="1.05"/>
<circle cx="167.1" cy="485.1" r="1.05"/>
<circle cx="166.9" cy="485.3" r="1.05"/>
<circle cx="163.1" cy="485.4" r="1.05"/>
<circle cx="166.9" cy="486.5" r="1.05"/>
<circle cx="167.5" cy="483.3" r="1.05"/>
<circle cx="166.9" cy="486.6" r="1.05"/>
<circle cx="164.3" cy="485.8" r="1.05"/>
<circle cx="163.7" cy="488.1" r="1.05"/>
<circle cx="164.5" cy="409.7" r="1.05"/>
<circle cx="165.5" cy="421.0" r="1.05"/>
<circle cx="164.5" cy="439.8" r="1.05"/>
<circle cx="164.5" cy="442.6" r="1.05"/>
<circle cx="168.0" cy="448.8" r="1.05"/>
<circle cx="160.2" cy="459.2" r="1.05"/>
<circle cx="163.7" cy="461.1" r="1.05"/>
<circle cx="162.7" cy="464.1" r="1.05"/>
<circle cx="169.4" cy="470.3" r="1.05"/>
<circle cx="169.4" cy="472.0" r="1.05"/>
<circle cx="169.9" cy="474.7" r="1.05"/>
<circle cx="160.4" cy="475.8" r="1.05"/>
<circle cx="164.2" cy="478.0" r="1.05"/>
<circle cx="158.2" cy="479.1" r="1.05"/>
<circle cx="169.9" cy="480.1" r="1.05"/>
<circle cx="157.7" cy="481.9" r="1.05"/>
<circle cx="169.4" cy="482.9" r="1.05"/>
<circle cx="157.7" cy="484.5" r="1.05"/>
<circle cx="162.0" cy="484.0" r="1.05"/>
<circle cx="167.0" cy="485.1" r="1.05"/>
<circle cx="164.2" cy="486.2" r="1.05"/>
<circle cx="162.0" cy="487.3" r="1.05"/>
<circle cx="160.9" cy="489.4" r="1.05"/>
<circle cx="165.9" cy="488.9" r="1.05"/>
<circle cx="169.9" cy="490.0" r="1.05"/>
<circle cx="157.7" cy="492.8" r="1.05"/>
<circle cx="168.4" cy="492.3" r="1.05"/>
<circle cx="162.9" cy="491.8" r="1.05"/>
<circle cx="165.4" cy="492.8" r="1.05"/>
<circle cx="229.7" cy="483.6" r="1.05"/>
<circle cx="235.5" cy="486.9" r="1.05"/>
<circle cx="226.7" cy="493.5" r="1.05"/>
<circle cx="235.5" cy="493.5" r="1.05"/>
<circle cx="235.5" cy="495.4" r="1.05"/>
<circle cx="231.6" cy="498.1" r="1.05"/>
<circle cx="225.4" cy="511.1" r="1.05"/>
<circle cx="226.0" cy="513.6" r="1.05"/>
<circle cx="229.7" cy="511.6" r="1.05"/>
<circle cx="233.4" cy="511.6" r="1.05"/>
<circle cx="235.3" cy="509.6" r="1.05"/>
<circle cx="232.8" cy="514.3" r="1.05"/>
<circle cx="234.0" cy="513.1" r="1.05"/>
<circle cx="233.4" cy="516.1" r="1.05"/>
<circle cx="228.0" cy="509.1" r="1.05"/>
</g>
<line x1="152.5" x2="175.7" y1="504.74" y2="504.74" stroke="#000" stroke-width="1.15"/>
<line x1="157.8" x2="170.4" y1="504.74" y2="504.74" stroke="#000" stroke-width="1.75"/>
<text transform="translate(176.50 507.19) scale(0.8929 1)" font-size="8.40" fill="#111" stroke="#111" stroke-width="0.18">2.91</text>
<line x1="217.2" x2="240.4" y1="503.70" y2="503.70" stroke="#000" stroke-width="1.15"/>
<path d="M224.2 500.60H234.2M224.2 506.80H234.2M229.2 500.60V506.80" stroke="#000" stroke-width="0.85" fill="none"/>
<text transform="translate(241.80 506.15) scale(0.8929 1)" font-size="8.40" fill="#111" stroke="#111" stroke-width="0.18">3.14</text>
<rect x="124.9" y="388.8" width="142.85" height="136.40000000000003" fill="none" stroke="#2e2e2e" stroke-width="1"/>
<line x1="121.7" x2="124.9" y1="519.05" y2="519.05" stroke="#2e2e2e" stroke-width="1"/>
<text transform="translate(120.40 522.15) scale(0.8929 1)" font-size="8.51" fill="#666" stroke="#666" stroke-width="0.08" text-anchor="end">0</text>
<line x1="121.7" x2="124.9" y1="494.30" y2="494.30" stroke="#2e2e2e" stroke-width="1"/>
<text transform="translate(120.40 497.40) scale(0.8929 1)" font-size="8.51" fill="#666" stroke="#666" stroke-width="0.08" text-anchor="end">5</text>
<line x1="121.7" x2="124.9" y1="469.55" y2="469.55" stroke="#2e2e2e" stroke-width="1"/>
<text transform="translate(120.40 472.65) scale(0.8929 1)" font-size="8.51" fill="#666" stroke="#666" stroke-width="0.08" text-anchor="end">10</text>
<line x1="121.7" x2="124.9" y1="444.80" y2="444.80" stroke="#2e2e2e" stroke-width="1"/>
<text transform="translate(120.40 447.90) scale(0.8929 1)" font-size="8.51" fill="#666" stroke="#666" stroke-width="0.08" text-anchor="end">15</text>
<line x1="121.7" x2="124.9" y1="420.05" y2="420.05" stroke="#2e2e2e" stroke-width="1"/>
<text transform="translate(120.40 423.15) scale(0.8929 1)" font-size="8.51" fill="#666" stroke="#666" stroke-width="0.08" text-anchor="end">20</text>
<line x1="121.7" x2="124.9" y1="395.30" y2="395.30" stroke="#2e2e2e" stroke-width="1"/>
<text transform="translate(120.40 398.40) scale(0.8929 1)" font-size="8.51" fill="#666" stroke="#666" stroke-width="0.08" text-anchor="end">25</text>
<line x1="163.9" x2="163.9" y1="525.2" y2="528.4" stroke="#2e2e2e" stroke-width="1"/>
<text transform="translate(163.90 536.20) scale(0.8929 1)" font-size="8.62" fill="#666" stroke="#666" stroke-width="0.08" text-anchor="middle">AA</text>
<text transform="translate(162.00 546.30) scale(0.8929 1)" font-size="8.62" fill="#1a1a1a" stroke="#1a1a1a" stroke-width="0.18" text-anchor="middle">n=492</text>
<line x1="229" x2="229" y1="525.2" y2="528.4" stroke="#2e2e2e" stroke-width="1"/>
<text transform="translate(229.00 536.20) scale(0.8929 1)" font-size="8.62" fill="#666" stroke="#666" stroke-width="0.08" text-anchor="middle">TT</text>
<text transform="translate(227.60 546.30) scale(0.8929 1)" font-size="8.62" fill="#1a1a1a" stroke="#1a1a1a" stroke-width="0.18" text-anchor="middle">n= 15</text>
<text transform="translate(145.60 402.00) scale(0.8929 1)" font-size="8.74" fill="#111" stroke="#111" stroke-width="0.18"><tspan font-style="italic">p</tspan>-value = 0.76, <tspan font-style="italic">p</tspan>-value* = 0.76</text>
<text transform="translate(107.3 456.9) rotate(-90)" font-size="10.4" fill="#000" stroke="#000" stroke-width="0.18" text-anchor="middle">IL−10 (pg/ml)</text>
</g>
</g>
</svg>
</body></html>
